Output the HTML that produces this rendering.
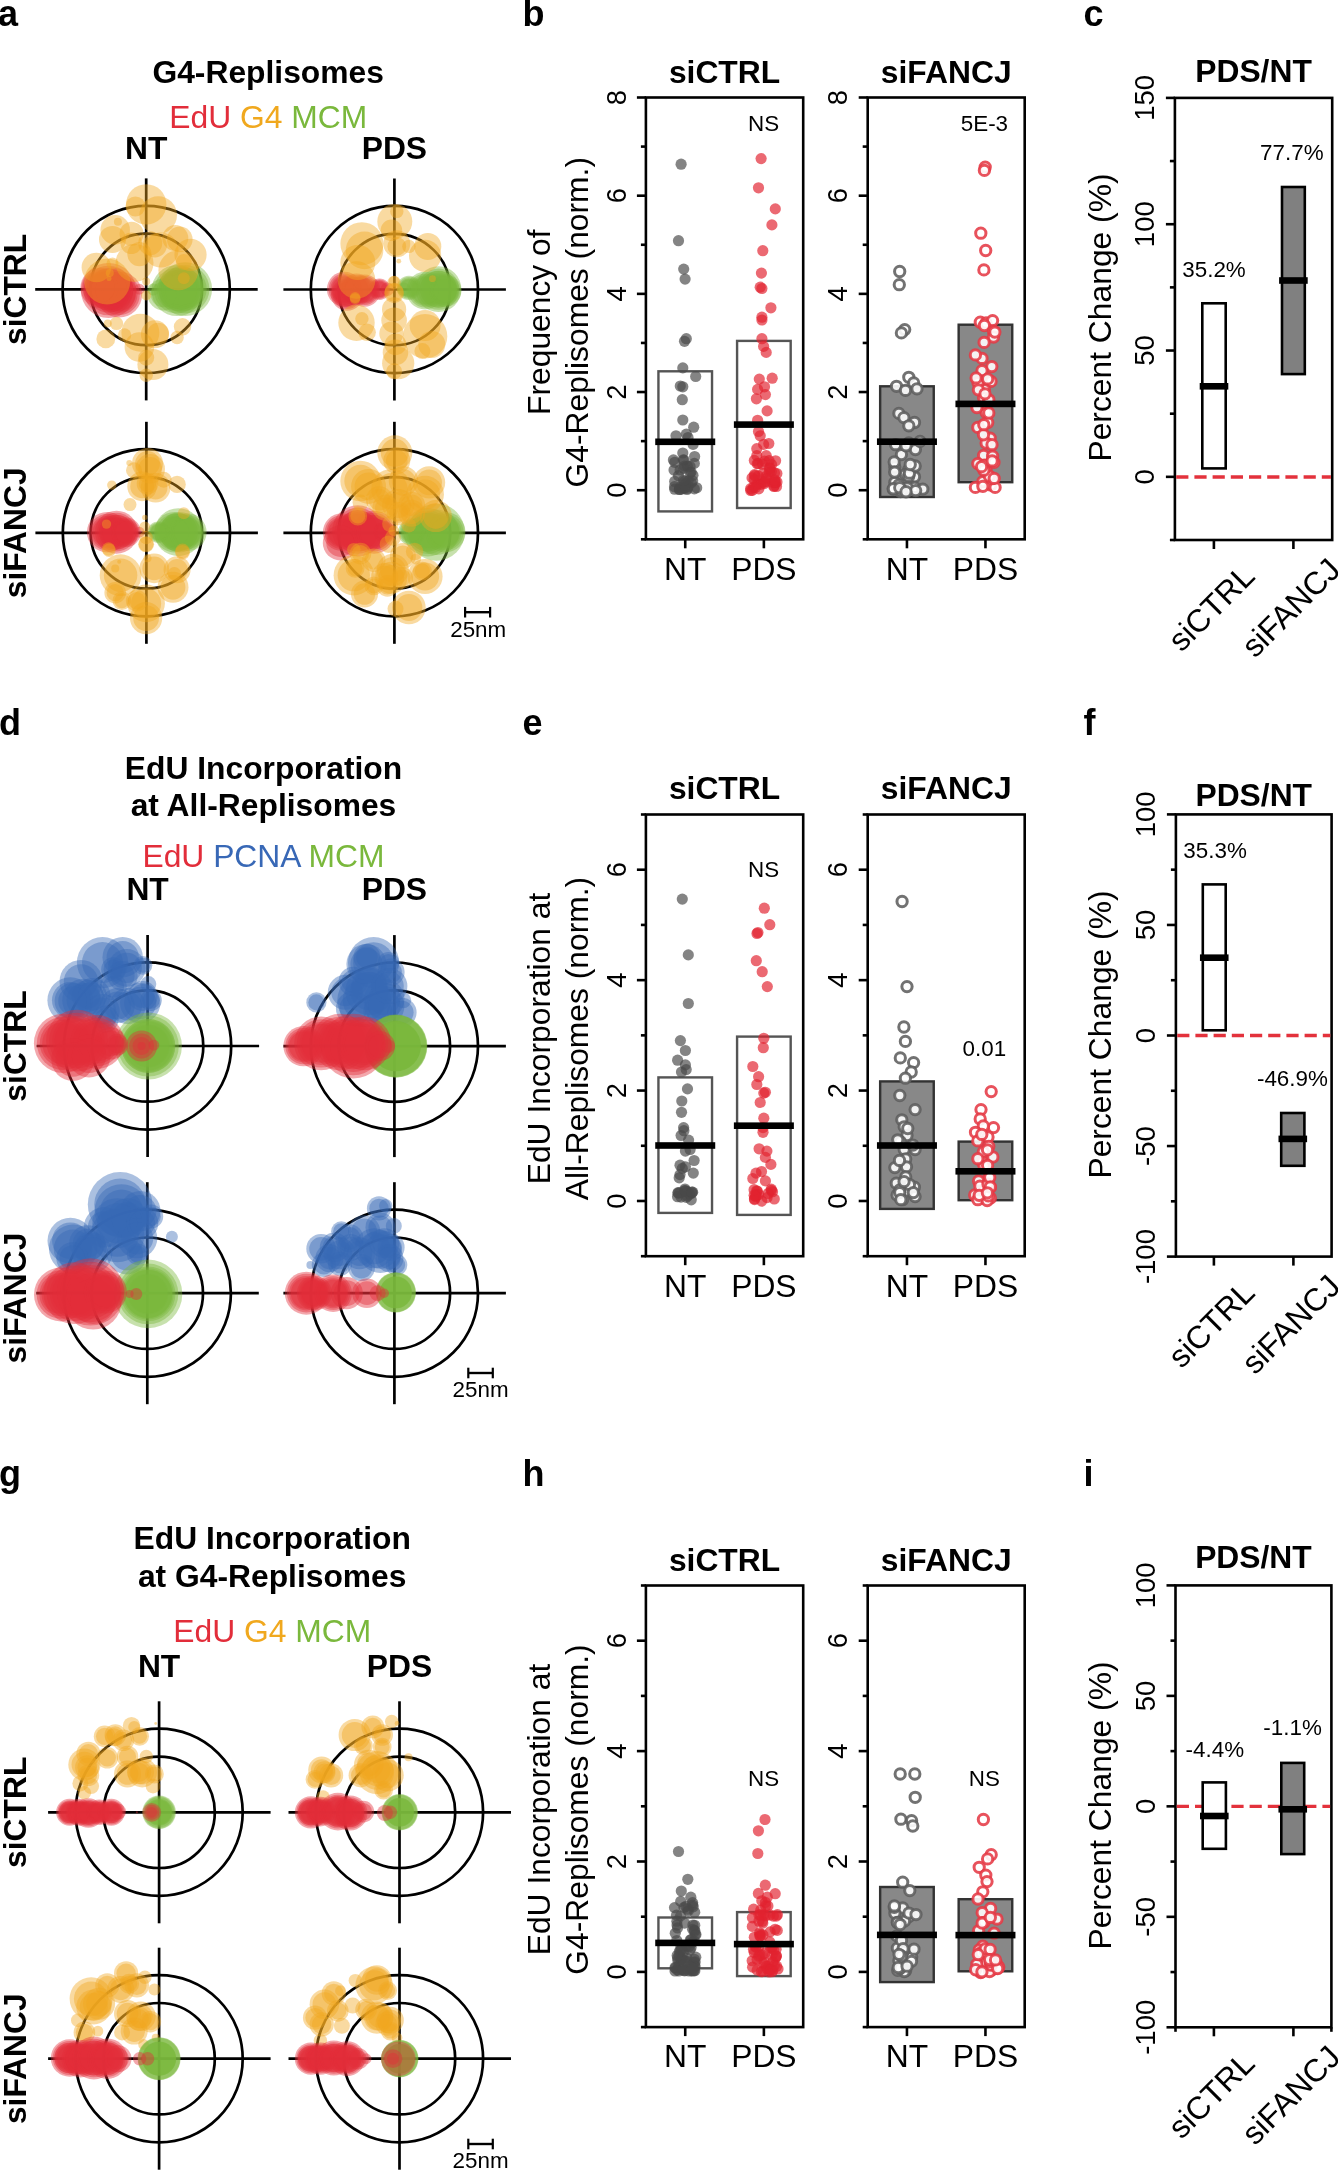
<!DOCTYPE html>
<html><head><meta charset="utf-8"><style>
html,body{margin:0;padding:0;background:#fff;}
svg{display:block;font-family:"Liberation Sans", sans-serif;will-change:transform;}
</style></head><body>
<svg width="1338" height="2170" viewBox="0 0 1338 2170">
<rect width="1338" height="2170" fill="#fff"/>
<text x="-2.00" y="26.20" font-size="36" font-weight="bold" text-anchor="start" fill="#000">a</text>
<text x="522.60" y="26.10" font-size="36" font-weight="bold" text-anchor="start" fill="#000">b</text>
<text x="1083.60" y="26.10" font-size="36" font-weight="bold" text-anchor="start" fill="#000">c</text>
<text x="-1.00" y="735.40" font-size="36" font-weight="bold" text-anchor="start" fill="#000">d</text>
<text x="522.60" y="735.40" font-size="36" font-weight="bold" text-anchor="start" fill="#000">e</text>
<text x="1083.60" y="735.40" font-size="36" font-weight="bold" text-anchor="start" fill="#000">f</text>
<text x="-1.00" y="1485.80" font-size="36" font-weight="bold" text-anchor="start" fill="#000">g</text>
<text x="522.60" y="1485.80" font-size="36" font-weight="bold" text-anchor="start" fill="#000">h</text>
<text x="1083.60" y="1485.80" font-size="36" font-weight="bold" text-anchor="start" fill="#000">i</text>
<text x="268.20" y="82.80" font-size="31.8" font-weight="bold" text-anchor="middle" fill="#000">G4-Replisomes</text>
<text x="268.20" y="127.80" font-size="31.8" text-anchor="middle"><tspan fill="#e22d3a">EdU</tspan> <tspan fill="#f0a81e">G4</tspan> <tspan fill="#7ab83c">MCM</tspan></text>
<text x="146.20" y="159.30" font-size="31.8" font-weight="bold" text-anchor="middle" fill="#000">NT</text>
<text x="394.40" y="159.30" font-size="31.8" font-weight="bold" text-anchor="middle" fill="#000">PDS</text>
<text transform="translate(25.90,289.40) rotate(-90)" font-size="31.8" font-weight="bold" text-anchor="middle" fill="#000">siCTRL</text>
<text transform="translate(25.90,532.80) rotate(-90)" font-size="31.8" font-weight="bold" text-anchor="middle" fill="#000">siFANCJ</text>
<line x1="146.20" y1="178.40" x2="146.20" y2="400.40" stroke="#000" stroke-width="2.7"/>
<line x1="35.20" y1="289.40" x2="257.70" y2="289.40" stroke="#000" stroke-width="2.7"/>
<circle cx="146.20" cy="289.40" r="55.70" fill="none" stroke="#000" stroke-width="2.7"/>
<circle cx="146.20" cy="289.40" r="83.60" fill="none" stroke="#000" stroke-width="2.7"/>
<circle cx="108.50" cy="290.50" r="27.60" fill="#e22d3a" fill-opacity="0.42" stroke="none" stroke-width="0"/>
<circle cx="108.50" cy="290.50" r="22.08" fill="#e22d3a" fill-opacity="0.42" stroke="none" stroke-width="0"/>
<circle cx="108.50" cy="290.50" r="24.84" fill="#e22d3a" fill-opacity="0.42" stroke="none" stroke-width="0"/>
<circle cx="108.50" cy="290.50" r="19.87" fill="#e22d3a" fill-opacity="0.42" stroke="none" stroke-width="0"/>
<circle cx="119.20" cy="294.50" r="22.90" fill="#e22d3a" fill-opacity="0.42" stroke="none" stroke-width="0"/>
<circle cx="119.20" cy="294.50" r="18.32" fill="#e22d3a" fill-opacity="0.42" stroke="none" stroke-width="0"/>
<circle cx="119.20" cy="294.50" r="20.61" fill="#e22d3a" fill-opacity="0.42" stroke="none" stroke-width="0"/>
<circle cx="119.20" cy="294.50" r="16.49" fill="#e22d3a" fill-opacity="0.42" stroke="none" stroke-width="0"/>
<circle cx="100.40" cy="287.80" r="20.00" fill="#e22d3a" fill-opacity="0.42" stroke="none" stroke-width="0"/>
<circle cx="100.40" cy="287.80" r="16.00" fill="#e22d3a" fill-opacity="0.42" stroke="none" stroke-width="0"/>
<circle cx="100.40" cy="287.80" r="18.00" fill="#e22d3a" fill-opacity="0.42" stroke="none" stroke-width="0"/>
<circle cx="100.40" cy="287.80" r="14.40" fill="#e22d3a" fill-opacity="0.42" stroke="none" stroke-width="0"/>
<circle cx="139.40" cy="289.10" r="5.40" fill="#e22d3a" fill-opacity="0.42" stroke="none" stroke-width="0"/>
<circle cx="111.20" cy="289.40" r="22.00" fill="#e22d3a" fill-opacity="0.42" stroke="none" stroke-width="0"/>
<circle cx="111.20" cy="289.40" r="17.60" fill="#e22d3a" fill-opacity="0.42" stroke="none" stroke-width="0"/>
<circle cx="111.20" cy="289.40" r="19.80" fill="#e22d3a" fill-opacity="0.42" stroke="none" stroke-width="0"/>
<circle cx="111.20" cy="289.40" r="15.84" fill="#e22d3a" fill-opacity="0.42" stroke="none" stroke-width="0"/>
<circle cx="177.10" cy="290.50" r="25.60" fill="#7ab83c" fill-opacity="0.42" stroke="none" stroke-width="0"/>
<circle cx="177.10" cy="290.50" r="20.48" fill="#7ab83c" fill-opacity="0.42" stroke="none" stroke-width="0"/>
<circle cx="177.10" cy="290.50" r="23.04" fill="#7ab83c" fill-opacity="0.42" stroke="none" stroke-width="0"/>
<circle cx="177.10" cy="290.50" r="18.43" fill="#7ab83c" fill-opacity="0.42" stroke="none" stroke-width="0"/>
<circle cx="185.20" cy="289.10" r="26.90" fill="#7ab83c" fill-opacity="0.42" stroke="none" stroke-width="0"/>
<circle cx="185.20" cy="289.10" r="21.52" fill="#7ab83c" fill-opacity="0.42" stroke="none" stroke-width="0"/>
<circle cx="185.20" cy="289.10" r="24.21" fill="#7ab83c" fill-opacity="0.42" stroke="none" stroke-width="0"/>
<circle cx="185.20" cy="289.10" r="19.37" fill="#7ab83c" fill-opacity="0.42" stroke="none" stroke-width="0"/>
<circle cx="163.60" cy="294.50" r="16.00" fill="#7ab83c" fill-opacity="0.42" stroke="none" stroke-width="0"/>
<circle cx="163.60" cy="294.50" r="12.80" fill="#7ab83c" fill-opacity="0.42" stroke="none" stroke-width="0"/>
<circle cx="153.20" cy="289.40" r="6.00" fill="#7ab83c" fill-opacity="0.42" stroke="none" stroke-width="0"/>
<circle cx="181.20" cy="289.40" r="22.00" fill="#7ab83c" fill-opacity="0.42" stroke="none" stroke-width="0"/>
<circle cx="181.20" cy="289.40" r="17.60" fill="#7ab83c" fill-opacity="0.42" stroke="none" stroke-width="0"/>
<circle cx="181.20" cy="289.40" r="19.80" fill="#7ab83c" fill-opacity="0.42" stroke="none" stroke-width="0"/>
<circle cx="181.20" cy="289.40" r="15.84" fill="#7ab83c" fill-opacity="0.42" stroke="none" stroke-width="0"/>
<circle cx="146.20" cy="204.40" r="20.20" fill="#f0a81e" fill-opacity="0.42" stroke="none" stroke-width="0"/>
<circle cx="135.40" cy="206.40" r="10.00" fill="#f0a81e" fill-opacity="0.42" stroke="none" stroke-width="0"/>
<circle cx="158.20" cy="215.10" r="18.80" fill="#f0a81e" fill-opacity="0.42" stroke="none" stroke-width="0"/>
<circle cx="115.20" cy="229.90" r="14.80" fill="#f0a81e" fill-opacity="0.42" stroke="none" stroke-width="0"/>
<circle cx="112.50" cy="239.40" r="13.50" fill="#f0a81e" fill-opacity="0.42" stroke="none" stroke-width="0"/>
<circle cx="117.90" cy="221.80" r="4.00" fill="#f0a81e" fill-opacity="0.42" stroke="none" stroke-width="0"/>
<circle cx="179.80" cy="239.40" r="12.80" fill="#f0a81e" fill-opacity="0.42" stroke="none" stroke-width="0"/>
<circle cx="190.50" cy="254.80" r="16.10" fill="#f0a81e" fill-opacity="0.42" stroke="none" stroke-width="0"/>
<circle cx="139.40" cy="254.10" r="12.10" fill="#f0a81e" fill-opacity="0.42" stroke="none" stroke-width="0"/>
<circle cx="161.00" cy="250.10" r="17.50" fill="#f0a81e" fill-opacity="0.42" stroke="none" stroke-width="0"/>
<circle cx="131.30" cy="243.30" r="10.80" fill="#f0a81e" fill-opacity="0.42" stroke="none" stroke-width="0"/>
<circle cx="150.20" cy="243.30" r="12.00" fill="#f0a81e" fill-opacity="0.42" stroke="none" stroke-width="0"/>
<circle cx="96.40" cy="267.50" r="14.80" fill="#f0a81e" fill-opacity="0.42" stroke="none" stroke-width="0"/>
<circle cx="183.80" cy="262.10" r="8.00" fill="#f0a81e" fill-opacity="0.42" stroke="none" stroke-width="0"/>
<circle cx="183.80" cy="278.30" r="6.00" fill="#f0a81e" fill-opacity="0.42" stroke="none" stroke-width="0"/>
<circle cx="112.50" cy="263.50" r="6.00" fill="#f0a81e" fill-opacity="0.42" stroke="none" stroke-width="0"/>
<circle cx="109.80" cy="272.90" r="4.00" fill="#f0a81e" fill-opacity="0.42" stroke="none" stroke-width="0"/>
<circle cx="109.00" cy="278.40" r="2.50" fill="#f0a81e" fill-opacity="0.42" stroke="none" stroke-width="0"/>
<circle cx="107.20" cy="281.40" r="23.00" fill="#f0a81e" fill-opacity="0.42" stroke="none" stroke-width="0"/>
<circle cx="178.40" cy="270.30" r="20.00" fill="#f0a81e" fill-opacity="0.42" stroke="none" stroke-width="0"/>
<circle cx="105.80" cy="338.90" r="9.40" fill="#f0a81e" fill-opacity="0.42" stroke="none" stroke-width="0"/>
<circle cx="116.50" cy="323.40" r="6.70" fill="#f0a81e" fill-opacity="0.42" stroke="none" stroke-width="0"/>
<circle cx="107.80" cy="323.40" r="4.00" fill="#f0a81e" fill-opacity="0.42" stroke="none" stroke-width="0"/>
<circle cx="124.60" cy="334.90" r="6.70" fill="#f0a81e" fill-opacity="0.42" stroke="none" stroke-width="0"/>
<circle cx="140.40" cy="332.80" r="19.00" fill="#f0a81e" fill-opacity="0.42" stroke="none" stroke-width="0"/>
<circle cx="154.90" cy="334.30" r="14.00" fill="#f0a81e" fill-opacity="0.42" stroke="none" stroke-width="0"/>
<circle cx="158.20" cy="333.50" r="10.80" fill="#f0a81e" fill-opacity="0.42" stroke="none" stroke-width="0"/>
<circle cx="182.50" cy="326.80" r="8.70" fill="#f0a81e" fill-opacity="0.42" stroke="none" stroke-width="0"/>
<circle cx="177.10" cy="337.50" r="6.70" fill="#f0a81e" fill-opacity="0.42" stroke="none" stroke-width="0"/>
<circle cx="139.40" cy="347.00" r="14.80" fill="#f0a81e" fill-opacity="0.42" stroke="none" stroke-width="0"/>
<circle cx="152.90" cy="364.50" r="15.50" fill="#f0a81e" fill-opacity="0.42" stroke="none" stroke-width="0"/>
<circle cx="146.20" cy="357.70" r="8.00" fill="#f0a81e" fill-opacity="0.42" stroke="none" stroke-width="0"/>
<circle cx="146.20" cy="375.20" r="6.70" fill="#f0a81e" fill-opacity="0.42" stroke="none" stroke-width="0"/>
<circle cx="146.20" cy="281.40" r="4.00" fill="#f0a81e" fill-opacity="0.42" stroke="none" stroke-width="0"/>
<circle cx="146.20" cy="295.40" r="5.00" fill="#f0a81e" fill-opacity="0.42" stroke="none" stroke-width="0"/>
<circle cx="134.50" cy="262.90" r="19.00" fill="#f0a81e" fill-opacity="0.42" stroke="none" stroke-width="0"/>
<circle cx="131.60" cy="233.70" r="12.00" fill="#f0a81e" fill-opacity="0.42" stroke="none" stroke-width="0"/>
<circle cx="154.90" cy="245.40" r="12.00" fill="#f0a81e" fill-opacity="0.42" stroke="none" stroke-width="0"/>
<circle cx="175.30" cy="238.10" r="13.00" fill="#f0a81e" fill-opacity="0.42" stroke="none" stroke-width="0"/>
<line x1="394.40" y1="178.50" x2="394.40" y2="400.50" stroke="#000" stroke-width="2.7"/>
<line x1="283.40" y1="289.50" x2="505.90" y2="289.50" stroke="#000" stroke-width="2.7"/>
<circle cx="394.40" cy="289.50" r="55.70" fill="none" stroke="#000" stroke-width="2.7"/>
<circle cx="394.40" cy="289.50" r="83.60" fill="none" stroke="#000" stroke-width="2.7"/>
<circle cx="344.40" cy="289.20" r="17.50" fill="#e22d3a" fill-opacity="0.42" stroke="none" stroke-width="0"/>
<circle cx="344.40" cy="289.20" r="14.00" fill="#e22d3a" fill-opacity="0.42" stroke="none" stroke-width="0"/>
<circle cx="344.40" cy="289.20" r="15.75" fill="#e22d3a" fill-opacity="0.42" stroke="none" stroke-width="0"/>
<circle cx="344.40" cy="289.20" r="12.60" fill="#e22d3a" fill-opacity="0.42" stroke="none" stroke-width="0"/>
<circle cx="364.50" cy="290.60" r="16.10" fill="#e22d3a" fill-opacity="0.42" stroke="none" stroke-width="0"/>
<circle cx="364.50" cy="290.60" r="12.88" fill="#e22d3a" fill-opacity="0.42" stroke="none" stroke-width="0"/>
<circle cx="364.50" cy="290.60" r="14.49" fill="#e22d3a" fill-opacity="0.42" stroke="none" stroke-width="0"/>
<circle cx="364.50" cy="290.60" r="11.59" fill="#e22d3a" fill-opacity="0.42" stroke="none" stroke-width="0"/>
<circle cx="379.40" cy="289.20" r="10.80" fill="#e22d3a" fill-opacity="0.42" stroke="none" stroke-width="0"/>
<circle cx="379.40" cy="289.20" r="8.64" fill="#e22d3a" fill-opacity="0.42" stroke="none" stroke-width="0"/>
<circle cx="379.40" cy="289.20" r="9.72" fill="#e22d3a" fill-opacity="0.42" stroke="none" stroke-width="0"/>
<circle cx="379.40" cy="289.20" r="7.78" fill="#e22d3a" fill-opacity="0.42" stroke="none" stroke-width="0"/>
<circle cx="387.40" cy="289.20" r="6.70" fill="#e22d3a" fill-opacity="0.42" stroke="none" stroke-width="0"/>
<circle cx="347.10" cy="294.60" r="16.10" fill="#e22d3a" fill-opacity="0.42" stroke="none" stroke-width="0"/>
<circle cx="347.10" cy="294.60" r="12.88" fill="#e22d3a" fill-opacity="0.42" stroke="none" stroke-width="0"/>
<circle cx="347.10" cy="294.60" r="14.49" fill="#e22d3a" fill-opacity="0.42" stroke="none" stroke-width="0"/>
<circle cx="347.10" cy="294.60" r="11.59" fill="#e22d3a" fill-opacity="0.42" stroke="none" stroke-width="0"/>
<circle cx="356.40" cy="289.50" r="16.00" fill="#e22d3a" fill-opacity="0.42" stroke="none" stroke-width="0"/>
<circle cx="356.40" cy="289.50" r="12.80" fill="#e22d3a" fill-opacity="0.42" stroke="none" stroke-width="0"/>
<circle cx="356.40" cy="289.50" r="14.40" fill="#e22d3a" fill-opacity="0.42" stroke="none" stroke-width="0"/>
<circle cx="356.40" cy="289.50" r="11.52" fill="#e22d3a" fill-opacity="0.42" stroke="none" stroke-width="0"/>
<circle cx="438.50" cy="289.20" r="22.90" fill="#7ab83c" fill-opacity="0.42" stroke="none" stroke-width="0"/>
<circle cx="438.50" cy="289.20" r="18.32" fill="#7ab83c" fill-opacity="0.42" stroke="none" stroke-width="0"/>
<circle cx="438.50" cy="289.20" r="20.61" fill="#7ab83c" fill-opacity="0.42" stroke="none" stroke-width="0"/>
<circle cx="438.50" cy="289.20" r="16.49" fill="#7ab83c" fill-opacity="0.42" stroke="none" stroke-width="0"/>
<circle cx="438.50" cy="289.20" r="18.55" fill="#7ab83c" fill-opacity="0.42" stroke="none" stroke-width="0"/>
<circle cx="438.50" cy="289.20" r="14.84" fill="#7ab83c" fill-opacity="0.42" stroke="none" stroke-width="0"/>
<circle cx="425.10" cy="290.60" r="18.80" fill="#7ab83c" fill-opacity="0.42" stroke="none" stroke-width="0"/>
<circle cx="425.10" cy="290.60" r="15.04" fill="#7ab83c" fill-opacity="0.42" stroke="none" stroke-width="0"/>
<circle cx="425.10" cy="290.60" r="16.92" fill="#7ab83c" fill-opacity="0.42" stroke="none" stroke-width="0"/>
<circle cx="425.10" cy="290.60" r="13.54" fill="#7ab83c" fill-opacity="0.42" stroke="none" stroke-width="0"/>
<circle cx="408.90" cy="287.90" r="12.10" fill="#7ab83c" fill-opacity="0.42" stroke="none" stroke-width="0"/>
<circle cx="408.90" cy="287.90" r="9.68" fill="#7ab83c" fill-opacity="0.42" stroke="none" stroke-width="0"/>
<circle cx="408.90" cy="287.90" r="10.89" fill="#7ab83c" fill-opacity="0.42" stroke="none" stroke-width="0"/>
<circle cx="408.90" cy="287.90" r="8.71" fill="#7ab83c" fill-opacity="0.42" stroke="none" stroke-width="0"/>
<circle cx="403.60" cy="289.20" r="6.70" fill="#7ab83c" fill-opacity="0.42" stroke="none" stroke-width="0"/>
<circle cx="445.30" cy="290.60" r="16.10" fill="#7ab83c" fill-opacity="0.42" stroke="none" stroke-width="0"/>
<circle cx="445.30" cy="290.60" r="12.88" fill="#7ab83c" fill-opacity="0.42" stroke="none" stroke-width="0"/>
<circle cx="445.30" cy="290.60" r="14.49" fill="#7ab83c" fill-opacity="0.42" stroke="none" stroke-width="0"/>
<circle cx="445.30" cy="290.60" r="11.59" fill="#7ab83c" fill-opacity="0.42" stroke="none" stroke-width="0"/>
<circle cx="394.80" cy="221.50" r="17.50" fill="#f0a81e" fill-opacity="0.42" stroke="none" stroke-width="0"/>
<circle cx="396.80" cy="211.40" r="6.70" fill="#f0a81e" fill-opacity="0.42" stroke="none" stroke-width="0"/>
<circle cx="391.40" cy="230.30" r="10.80" fill="#f0a81e" fill-opacity="0.42" stroke="none" stroke-width="0"/>
<circle cx="361.90" cy="243.70" r="21.50" fill="#f0a81e" fill-opacity="0.42" stroke="none" stroke-width="0"/>
<circle cx="364.50" cy="250.40" r="18.80" fill="#f0a81e" fill-opacity="0.42" stroke="none" stroke-width="0"/>
<circle cx="357.80" cy="262.50" r="17.50" fill="#f0a81e" fill-opacity="0.42" stroke="none" stroke-width="0"/>
<circle cx="396.80" cy="246.40" r="9.40" fill="#f0a81e" fill-opacity="0.42" stroke="none" stroke-width="0"/>
<circle cx="396.80" cy="243.70" r="13.50" fill="#f0a81e" fill-opacity="0.42" stroke="none" stroke-width="0"/>
<circle cx="427.80" cy="246.40" r="13.50" fill="#f0a81e" fill-opacity="0.42" stroke="none" stroke-width="0"/>
<circle cx="425.10" cy="255.80" r="16.10" fill="#f0a81e" fill-opacity="0.42" stroke="none" stroke-width="0"/>
<circle cx="408.90" cy="246.40" r="6.70" fill="#f0a81e" fill-opacity="0.42" stroke="none" stroke-width="0"/>
<circle cx="398.80" cy="261.20" r="2.40" fill="#f0a81e" fill-opacity="0.42" stroke="none" stroke-width="0"/>
<circle cx="356.50" cy="280.00" r="18.80" fill="#f0a81e" fill-opacity="0.42" stroke="none" stroke-width="0"/>
<circle cx="394.10" cy="281.40" r="5.40" fill="#f0a81e" fill-opacity="0.42" stroke="none" stroke-width="0"/>
<circle cx="394.10" cy="292.10" r="9.40" fill="#f0a81e" fill-opacity="0.42" stroke="none" stroke-width="0"/>
<circle cx="355.10" cy="297.50" r="5.40" fill="#f0a81e" fill-opacity="0.42" stroke="none" stroke-width="0"/>
<circle cx="432.50" cy="278.70" r="3.40" fill="#f0a81e" fill-opacity="0.42" stroke="none" stroke-width="0"/>
<circle cx="355.10" cy="298.60" r="5.40" fill="#f0a81e" fill-opacity="0.42" stroke="none" stroke-width="0"/>
<circle cx="394.10" cy="282.50" r="6.70" fill="#f0a81e" fill-opacity="0.42" stroke="none" stroke-width="0"/>
<circle cx="394.10" cy="293.30" r="10.00" fill="#f0a81e" fill-opacity="0.42" stroke="none" stroke-width="0"/>
<circle cx="356.50" cy="322.80" r="18.20" fill="#f0a81e" fill-opacity="0.42" stroke="none" stroke-width="0"/>
<circle cx="361.90" cy="318.80" r="6.70" fill="#f0a81e" fill-opacity="0.42" stroke="none" stroke-width="0"/>
<circle cx="367.20" cy="332.30" r="8.70" fill="#f0a81e" fill-opacity="0.42" stroke="none" stroke-width="0"/>
<circle cx="394.10" cy="309.40" r="12.10" fill="#f0a81e" fill-opacity="0.42" stroke="none" stroke-width="0"/>
<circle cx="394.10" cy="320.20" r="12.80" fill="#f0a81e" fill-opacity="0.42" stroke="none" stroke-width="0"/>
<circle cx="391.40" cy="333.60" r="12.10" fill="#f0a81e" fill-opacity="0.42" stroke="none" stroke-width="0"/>
<circle cx="395.50" cy="344.40" r="10.80" fill="#f0a81e" fill-opacity="0.42" stroke="none" stroke-width="0"/>
<circle cx="395.50" cy="352.40" r="12.80" fill="#f0a81e" fill-opacity="0.42" stroke="none" stroke-width="0"/>
<circle cx="398.20" cy="363.20" r="16.10" fill="#f0a81e" fill-opacity="0.42" stroke="none" stroke-width="0"/>
<circle cx="394.10" cy="371.30" r="8.00" fill="#f0a81e" fill-opacity="0.42" stroke="none" stroke-width="0"/>
<circle cx="425.10" cy="325.50" r="15.50" fill="#f0a81e" fill-opacity="0.42" stroke="none" stroke-width="0"/>
<circle cx="425.10" cy="336.30" r="22.20" fill="#f0a81e" fill-opacity="0.42" stroke="none" stroke-width="0"/>
<circle cx="431.80" cy="344.40" r="13.50" fill="#f0a81e" fill-opacity="0.42" stroke="none" stroke-width="0"/>
<circle cx="422.40" cy="351.10" r="8.00" fill="#f0a81e" fill-opacity="0.42" stroke="none" stroke-width="0"/>
<line x1="146.40" y1="421.80" x2="146.40" y2="643.80" stroke="#000" stroke-width="2.7"/>
<line x1="35.40" y1="532.80" x2="257.90" y2="532.80" stroke="#000" stroke-width="2.7"/>
<circle cx="146.40" cy="532.80" r="55.70" fill="none" stroke="#000" stroke-width="2.7"/>
<circle cx="146.40" cy="532.80" r="83.60" fill="none" stroke="#000" stroke-width="2.7"/>
<circle cx="107.10" cy="532.20" r="20.20" fill="#e22d3a" fill-opacity="0.42" stroke="none" stroke-width="0"/>
<circle cx="107.10" cy="532.20" r="16.16" fill="#e22d3a" fill-opacity="0.42" stroke="none" stroke-width="0"/>
<circle cx="107.10" cy="532.20" r="18.18" fill="#e22d3a" fill-opacity="0.42" stroke="none" stroke-width="0"/>
<circle cx="107.10" cy="532.20" r="14.54" fill="#e22d3a" fill-opacity="0.42" stroke="none" stroke-width="0"/>
<circle cx="116.50" cy="532.20" r="21.50" fill="#e22d3a" fill-opacity="0.42" stroke="none" stroke-width="0"/>
<circle cx="116.50" cy="532.20" r="17.20" fill="#e22d3a" fill-opacity="0.42" stroke="none" stroke-width="0"/>
<circle cx="116.50" cy="532.20" r="19.35" fill="#e22d3a" fill-opacity="0.42" stroke="none" stroke-width="0"/>
<circle cx="116.50" cy="532.20" r="15.48" fill="#e22d3a" fill-opacity="0.42" stroke="none" stroke-width="0"/>
<circle cx="116.50" cy="532.20" r="17.42" fill="#e22d3a" fill-opacity="0.42" stroke="none" stroke-width="0"/>
<circle cx="116.50" cy="532.20" r="13.93" fill="#e22d3a" fill-opacity="0.42" stroke="none" stroke-width="0"/>
<circle cx="126.00" cy="532.20" r="14.80" fill="#e22d3a" fill-opacity="0.42" stroke="none" stroke-width="0"/>
<circle cx="126.00" cy="532.20" r="11.84" fill="#e22d3a" fill-opacity="0.42" stroke="none" stroke-width="0"/>
<circle cx="126.00" cy="532.20" r="13.32" fill="#e22d3a" fill-opacity="0.42" stroke="none" stroke-width="0"/>
<circle cx="126.00" cy="532.20" r="10.66" fill="#e22d3a" fill-opacity="0.42" stroke="none" stroke-width="0"/>
<circle cx="139.40" cy="532.20" r="5.40" fill="#e22d3a" fill-opacity="0.42" stroke="none" stroke-width="0"/>
<circle cx="178.40" cy="532.20" r="24.00" fill="#7ab83c" fill-opacity="0.42" stroke="none" stroke-width="0"/>
<circle cx="178.40" cy="532.20" r="19.20" fill="#7ab83c" fill-opacity="0.42" stroke="none" stroke-width="0"/>
<circle cx="179.80" cy="532.20" r="20.20" fill="#7ab83c" fill-opacity="0.42" stroke="none" stroke-width="0"/>
<circle cx="179.80" cy="532.20" r="16.16" fill="#7ab83c" fill-opacity="0.42" stroke="none" stroke-width="0"/>
<circle cx="179.80" cy="532.20" r="18.18" fill="#7ab83c" fill-opacity="0.42" stroke="none" stroke-width="0"/>
<circle cx="179.80" cy="532.20" r="14.54" fill="#7ab83c" fill-opacity="0.42" stroke="none" stroke-width="0"/>
<circle cx="174.40" cy="532.20" r="20.20" fill="#7ab83c" fill-opacity="0.42" stroke="none" stroke-width="0"/>
<circle cx="174.40" cy="532.20" r="16.16" fill="#7ab83c" fill-opacity="0.42" stroke="none" stroke-width="0"/>
<circle cx="174.40" cy="532.20" r="18.18" fill="#7ab83c" fill-opacity="0.42" stroke="none" stroke-width="0"/>
<circle cx="174.40" cy="532.20" r="14.54" fill="#7ab83c" fill-opacity="0.42" stroke="none" stroke-width="0"/>
<circle cx="158.30" cy="532.20" r="10.80" fill="#7ab83c" fill-opacity="0.42" stroke="none" stroke-width="0"/>
<circle cx="158.30" cy="532.20" r="8.64" fill="#7ab83c" fill-opacity="0.42" stroke="none" stroke-width="0"/>
<circle cx="158.30" cy="532.20" r="9.72" fill="#7ab83c" fill-opacity="0.42" stroke="none" stroke-width="0"/>
<circle cx="158.30" cy="532.20" r="7.78" fill="#7ab83c" fill-opacity="0.42" stroke="none" stroke-width="0"/>
<circle cx="187.80" cy="532.20" r="18.80" fill="#7ab83c" fill-opacity="0.42" stroke="none" stroke-width="0"/>
<circle cx="187.80" cy="532.20" r="15.04" fill="#7ab83c" fill-opacity="0.42" stroke="none" stroke-width="0"/>
<circle cx="187.80" cy="532.20" r="16.92" fill="#7ab83c" fill-opacity="0.42" stroke="none" stroke-width="0"/>
<circle cx="187.80" cy="532.20" r="13.54" fill="#7ab83c" fill-opacity="0.42" stroke="none" stroke-width="0"/>
<circle cx="106.50" cy="524.10" r="4.70" fill="#f0a81e" fill-opacity="0.42" stroke="none" stroke-width="0"/>
<circle cx="108.50" cy="549.00" r="6.70" fill="#f0a81e" fill-opacity="0.42" stroke="none" stroke-width="0"/>
<circle cx="183.80" cy="513.30" r="6.00" fill="#f0a81e" fill-opacity="0.42" stroke="none" stroke-width="0"/>
<circle cx="182.50" cy="551.00" r="7.40" fill="#f0a81e" fill-opacity="0.42" stroke="none" stroke-width="0"/>
<circle cx="144.80" cy="526.80" r="5.40" fill="#f0a81e" fill-opacity="0.42" stroke="none" stroke-width="0"/>
<circle cx="146.10" cy="537.50" r="6.70" fill="#f0a81e" fill-opacity="0.42" stroke="none" stroke-width="0"/>
<circle cx="144.80" cy="517.40" r="2.70" fill="#f0a81e" fill-opacity="0.42" stroke="none" stroke-width="0"/>
<circle cx="146.10" cy="544.30" r="8.00" fill="#f0a81e" fill-opacity="0.42" stroke="none" stroke-width="0"/>
<circle cx="147.50" cy="463.50" r="15.50" fill="#f0a81e" fill-opacity="0.42" stroke="none" stroke-width="0"/>
<circle cx="147.50" cy="463.50" r="12.40" fill="#f0a81e" fill-opacity="0.42" stroke="none" stroke-width="0"/>
<circle cx="150.20" cy="468.90" r="14.80" fill="#f0a81e" fill-opacity="0.42" stroke="none" stroke-width="0"/>
<circle cx="150.20" cy="468.90" r="11.84" fill="#f0a81e" fill-opacity="0.42" stroke="none" stroke-width="0"/>
<circle cx="142.10" cy="486.40" r="14.80" fill="#f0a81e" fill-opacity="0.42" stroke="none" stroke-width="0"/>
<circle cx="142.10" cy="486.40" r="11.84" fill="#f0a81e" fill-opacity="0.42" stroke="none" stroke-width="0"/>
<circle cx="155.60" cy="487.70" r="14.80" fill="#f0a81e" fill-opacity="0.42" stroke="none" stroke-width="0"/>
<circle cx="155.60" cy="487.70" r="11.84" fill="#f0a81e" fill-opacity="0.42" stroke="none" stroke-width="0"/>
<circle cx="147.50" cy="483.70" r="10.80" fill="#f0a81e" fill-opacity="0.42" stroke="none" stroke-width="0"/>
<circle cx="147.50" cy="483.70" r="8.64" fill="#f0a81e" fill-opacity="0.42" stroke="none" stroke-width="0"/>
<circle cx="177.10" cy="484.40" r="8.70" fill="#f0a81e" fill-opacity="0.42" stroke="none" stroke-width="0"/>
<circle cx="130.00" cy="504.60" r="6.50" fill="#f0a81e" fill-opacity="0.42" stroke="none" stroke-width="0"/>
<circle cx="111.80" cy="485.10" r="4.70" fill="#f0a81e" fill-opacity="0.42" stroke="none" stroke-width="0"/>
<circle cx="129.30" cy="462.90" r="3.00" fill="#f0a81e" fill-opacity="0.42" stroke="none" stroke-width="0"/>
<circle cx="134.00" cy="470.30" r="8.00" fill="#f0a81e" fill-opacity="0.42" stroke="none" stroke-width="0"/>
<circle cx="163.60" cy="479.70" r="8.00" fill="#f0a81e" fill-opacity="0.42" stroke="none" stroke-width="0"/>
<circle cx="120.60" cy="575.20" r="20.90" fill="#f0a81e" fill-opacity="0.42" stroke="none" stroke-width="0"/>
<circle cx="120.60" cy="575.20" r="16.72" fill="#f0a81e" fill-opacity="0.42" stroke="none" stroke-width="0"/>
<circle cx="115.20" cy="568.40" r="4.00" fill="#f0a81e" fill-opacity="0.42" stroke="none" stroke-width="0"/>
<circle cx="119.20" cy="561.70" r="2.00" fill="#f0a81e" fill-opacity="0.42" stroke="none" stroke-width="0"/>
<circle cx="154.20" cy="568.40" r="14.80" fill="#f0a81e" fill-opacity="0.42" stroke="none" stroke-width="0"/>
<circle cx="154.20" cy="568.40" r="11.84" fill="#f0a81e" fill-opacity="0.42" stroke="none" stroke-width="0"/>
<circle cx="177.10" cy="569.80" r="13.50" fill="#f0a81e" fill-opacity="0.42" stroke="none" stroke-width="0"/>
<circle cx="177.10" cy="569.80" r="10.80" fill="#f0a81e" fill-opacity="0.42" stroke="none" stroke-width="0"/>
<circle cx="174.40" cy="573.80" r="6.70" fill="#f0a81e" fill-opacity="0.42" stroke="none" stroke-width="0"/>
<circle cx="173.00" cy="587.30" r="15.50" fill="#f0a81e" fill-opacity="0.42" stroke="none" stroke-width="0"/>
<circle cx="173.00" cy="587.30" r="12.40" fill="#f0a81e" fill-opacity="0.42" stroke="none" stroke-width="0"/>
<circle cx="115.20" cy="592.70" r="10.80" fill="#f0a81e" fill-opacity="0.42" stroke="none" stroke-width="0"/>
<circle cx="115.20" cy="592.70" r="8.64" fill="#f0a81e" fill-opacity="0.42" stroke="none" stroke-width="0"/>
<circle cx="121.90" cy="600.70" r="9.40" fill="#f0a81e" fill-opacity="0.42" stroke="none" stroke-width="0"/>
<circle cx="121.90" cy="600.70" r="7.52" fill="#f0a81e" fill-opacity="0.42" stroke="none" stroke-width="0"/>
<circle cx="146.10" cy="603.40" r="18.80" fill="#f0a81e" fill-opacity="0.42" stroke="none" stroke-width="0"/>
<circle cx="146.10" cy="603.40" r="15.04" fill="#f0a81e" fill-opacity="0.42" stroke="none" stroke-width="0"/>
<circle cx="146.10" cy="618.20" r="16.10" fill="#f0a81e" fill-opacity="0.42" stroke="none" stroke-width="0"/>
<circle cx="146.10" cy="618.20" r="12.88" fill="#f0a81e" fill-opacity="0.42" stroke="none" stroke-width="0"/>
<circle cx="136.70" cy="600.70" r="10.80" fill="#f0a81e" fill-opacity="0.42" stroke="none" stroke-width="0"/>
<circle cx="136.70" cy="600.70" r="8.64" fill="#f0a81e" fill-opacity="0.42" stroke="none" stroke-width="0"/>
<circle cx="146.10" cy="544.20" r="7.40" fill="#f0a81e" fill-opacity="0.42" stroke="none" stroke-width="0"/>
<circle cx="147.50" cy="558.30" r="4.00" fill="#f0a81e" fill-opacity="0.42" stroke="none" stroke-width="0"/>
<circle cx="182.50" cy="552.30" r="7.40" fill="#f0a81e" fill-opacity="0.42" stroke="none" stroke-width="0"/>
<circle cx="109.10" cy="550.30" r="6.70" fill="#f0a81e" fill-opacity="0.42" stroke="none" stroke-width="0"/>
<line x1="394.40" y1="421.80" x2="394.40" y2="643.80" stroke="#000" stroke-width="2.7"/>
<line x1="283.40" y1="532.80" x2="505.90" y2="532.80" stroke="#000" stroke-width="2.7"/>
<circle cx="394.40" cy="532.80" r="55.70" fill="none" stroke="#000" stroke-width="2.7"/>
<circle cx="394.40" cy="532.80" r="83.60" fill="none" stroke="#000" stroke-width="2.7"/>
<circle cx="341.70" cy="532.20" r="18.80" fill="#e22d3a" fill-opacity="0.42" stroke="none" stroke-width="0"/>
<circle cx="341.70" cy="532.20" r="15.04" fill="#e22d3a" fill-opacity="0.42" stroke="none" stroke-width="0"/>
<circle cx="341.70" cy="532.20" r="16.92" fill="#e22d3a" fill-opacity="0.42" stroke="none" stroke-width="0"/>
<circle cx="341.70" cy="532.20" r="13.54" fill="#e22d3a" fill-opacity="0.42" stroke="none" stroke-width="0"/>
<circle cx="357.80" cy="530.80" r="25.60" fill="#e22d3a" fill-opacity="0.42" stroke="none" stroke-width="0"/>
<circle cx="357.80" cy="530.80" r="20.48" fill="#e22d3a" fill-opacity="0.42" stroke="none" stroke-width="0"/>
<circle cx="357.80" cy="530.80" r="23.04" fill="#e22d3a" fill-opacity="0.42" stroke="none" stroke-width="0"/>
<circle cx="357.80" cy="530.80" r="18.43" fill="#e22d3a" fill-opacity="0.42" stroke="none" stroke-width="0"/>
<circle cx="357.80" cy="530.80" r="20.74" fill="#e22d3a" fill-opacity="0.42" stroke="none" stroke-width="0"/>
<circle cx="357.80" cy="530.80" r="16.59" fill="#e22d3a" fill-opacity="0.42" stroke="none" stroke-width="0"/>
<circle cx="374.00" cy="532.20" r="21.50" fill="#e22d3a" fill-opacity="0.42" stroke="none" stroke-width="0"/>
<circle cx="374.00" cy="532.20" r="17.20" fill="#e22d3a" fill-opacity="0.42" stroke="none" stroke-width="0"/>
<circle cx="374.00" cy="532.20" r="19.35" fill="#e22d3a" fill-opacity="0.42" stroke="none" stroke-width="0"/>
<circle cx="374.00" cy="532.20" r="15.48" fill="#e22d3a" fill-opacity="0.42" stroke="none" stroke-width="0"/>
<circle cx="374.00" cy="532.20" r="17.42" fill="#e22d3a" fill-opacity="0.42" stroke="none" stroke-width="0"/>
<circle cx="374.00" cy="532.20" r="13.93" fill="#e22d3a" fill-opacity="0.42" stroke="none" stroke-width="0"/>
<circle cx="384.70" cy="532.20" r="10.80" fill="#e22d3a" fill-opacity="0.42" stroke="none" stroke-width="0"/>
<circle cx="384.70" cy="532.20" r="8.64" fill="#e22d3a" fill-opacity="0.42" stroke="none" stroke-width="0"/>
<circle cx="384.70" cy="532.20" r="9.72" fill="#e22d3a" fill-opacity="0.42" stroke="none" stroke-width="0"/>
<circle cx="384.70" cy="532.20" r="7.78" fill="#e22d3a" fill-opacity="0.42" stroke="none" stroke-width="0"/>
<circle cx="340.30" cy="542.90" r="17.50" fill="#e22d3a" fill-opacity="0.42" stroke="none" stroke-width="0"/>
<circle cx="340.30" cy="542.90" r="14.00" fill="#e22d3a" fill-opacity="0.42" stroke="none" stroke-width="0"/>
<circle cx="436.40" cy="532.20" r="28.50" fill="#7ab83c" fill-opacity="0.42" stroke="none" stroke-width="0"/>
<circle cx="436.40" cy="532.20" r="22.80" fill="#7ab83c" fill-opacity="0.42" stroke="none" stroke-width="0"/>
<circle cx="427.80" cy="532.20" r="24.20" fill="#7ab83c" fill-opacity="0.42" stroke="none" stroke-width="0"/>
<circle cx="427.80" cy="532.20" r="19.36" fill="#7ab83c" fill-opacity="0.42" stroke="none" stroke-width="0"/>
<circle cx="427.80" cy="532.20" r="21.78" fill="#7ab83c" fill-opacity="0.42" stroke="none" stroke-width="0"/>
<circle cx="427.80" cy="532.20" r="17.42" fill="#7ab83c" fill-opacity="0.42" stroke="none" stroke-width="0"/>
<circle cx="427.80" cy="532.20" r="19.60" fill="#7ab83c" fill-opacity="0.42" stroke="none" stroke-width="0"/>
<circle cx="427.80" cy="532.20" r="15.68" fill="#7ab83c" fill-opacity="0.42" stroke="none" stroke-width="0"/>
<circle cx="445.30" cy="532.20" r="20.20" fill="#7ab83c" fill-opacity="0.42" stroke="none" stroke-width="0"/>
<circle cx="445.30" cy="532.20" r="16.16" fill="#7ab83c" fill-opacity="0.42" stroke="none" stroke-width="0"/>
<circle cx="445.30" cy="532.20" r="18.18" fill="#7ab83c" fill-opacity="0.42" stroke="none" stroke-width="0"/>
<circle cx="445.30" cy="532.20" r="14.54" fill="#7ab83c" fill-opacity="0.42" stroke="none" stroke-width="0"/>
<circle cx="411.60" cy="532.20" r="13.50" fill="#7ab83c" fill-opacity="0.42" stroke="none" stroke-width="0"/>
<circle cx="411.60" cy="532.20" r="10.80" fill="#7ab83c" fill-opacity="0.42" stroke="none" stroke-width="0"/>
<circle cx="411.60" cy="532.20" r="12.15" fill="#7ab83c" fill-opacity="0.42" stroke="none" stroke-width="0"/>
<circle cx="411.60" cy="532.20" r="9.72" fill="#7ab83c" fill-opacity="0.42" stroke="none" stroke-width="0"/>
<circle cx="357.80" cy="516.00" r="9.40" fill="#f0a81e" fill-opacity="0.42" stroke="none" stroke-width="0"/>
<circle cx="357.80" cy="516.00" r="7.52" fill="#f0a81e" fill-opacity="0.42" stroke="none" stroke-width="0"/>
<circle cx="390.10" cy="524.10" r="8.00" fill="#f0a81e" fill-opacity="0.42" stroke="none" stroke-width="0"/>
<circle cx="392.90" cy="537.80" r="8.00" fill="#f0a81e" fill-opacity="0.42" stroke="none" stroke-width="0"/>
<circle cx="353.80" cy="549.60" r="6.70" fill="#f0a81e" fill-opacity="0.42" stroke="none" stroke-width="0"/>
<circle cx="360.50" cy="553.60" r="10.80" fill="#f0a81e" fill-opacity="0.42" stroke="none" stroke-width="0"/>
<circle cx="360.50" cy="553.60" r="8.64" fill="#f0a81e" fill-opacity="0.42" stroke="none" stroke-width="0"/>
<circle cx="435.80" cy="516.00" r="16.10" fill="#f0a81e" fill-opacity="0.42" stroke="none" stroke-width="0"/>
<circle cx="435.80" cy="516.00" r="12.88" fill="#f0a81e" fill-opacity="0.42" stroke="none" stroke-width="0"/>
<circle cx="411.60" cy="513.30" r="13.50" fill="#f0a81e" fill-opacity="0.42" stroke="none" stroke-width="0"/>
<circle cx="411.60" cy="513.30" r="10.80" fill="#f0a81e" fill-opacity="0.42" stroke="none" stroke-width="0"/>
<circle cx="394.80" cy="452.80" r="17.50" fill="#f0a81e" fill-opacity="0.42" stroke="none" stroke-width="0"/>
<circle cx="394.80" cy="452.80" r="14.00" fill="#f0a81e" fill-opacity="0.42" stroke="none" stroke-width="0"/>
<circle cx="396.80" cy="460.80" r="13.50" fill="#f0a81e" fill-opacity="0.42" stroke="none" stroke-width="0"/>
<circle cx="396.80" cy="460.80" r="10.80" fill="#f0a81e" fill-opacity="0.42" stroke="none" stroke-width="0"/>
<circle cx="360.50" cy="481.00" r="20.20" fill="#f0a81e" fill-opacity="0.42" stroke="none" stroke-width="0"/>
<circle cx="360.50" cy="481.00" r="16.16" fill="#f0a81e" fill-opacity="0.42" stroke="none" stroke-width="0"/>
<circle cx="368.60" cy="486.40" r="17.50" fill="#f0a81e" fill-opacity="0.42" stroke="none" stroke-width="0"/>
<circle cx="368.60" cy="486.40" r="14.00" fill="#f0a81e" fill-opacity="0.42" stroke="none" stroke-width="0"/>
<circle cx="391.50" cy="489.10" r="20.20" fill="#f0a81e" fill-opacity="0.42" stroke="none" stroke-width="0"/>
<circle cx="391.50" cy="489.10" r="16.16" fill="#f0a81e" fill-opacity="0.42" stroke="none" stroke-width="0"/>
<circle cx="403.60" cy="481.00" r="14.80" fill="#f0a81e" fill-opacity="0.42" stroke="none" stroke-width="0"/>
<circle cx="403.60" cy="481.00" r="11.84" fill="#f0a81e" fill-opacity="0.42" stroke="none" stroke-width="0"/>
<circle cx="429.10" cy="482.40" r="16.10" fill="#f0a81e" fill-opacity="0.42" stroke="none" stroke-width="0"/>
<circle cx="429.10" cy="482.40" r="12.88" fill="#f0a81e" fill-opacity="0.42" stroke="none" stroke-width="0"/>
<circle cx="425.10" cy="494.50" r="18.80" fill="#f0a81e" fill-opacity="0.42" stroke="none" stroke-width="0"/>
<circle cx="425.10" cy="494.50" r="15.04" fill="#f0a81e" fill-opacity="0.42" stroke="none" stroke-width="0"/>
<circle cx="379.40" cy="499.80" r="13.50" fill="#f0a81e" fill-opacity="0.42" stroke="none" stroke-width="0"/>
<circle cx="379.40" cy="499.80" r="10.80" fill="#f0a81e" fill-opacity="0.42" stroke="none" stroke-width="0"/>
<circle cx="360.50" cy="502.60" r="8.00" fill="#f0a81e" fill-opacity="0.42" stroke="none" stroke-width="0"/>
<circle cx="411.60" cy="505.20" r="13.50" fill="#f0a81e" fill-opacity="0.42" stroke="none" stroke-width="0"/>
<circle cx="411.60" cy="505.20" r="10.80" fill="#f0a81e" fill-opacity="0.42" stroke="none" stroke-width="0"/>
<circle cx="398.20" cy="505.20" r="16.10" fill="#f0a81e" fill-opacity="0.42" stroke="none" stroke-width="0"/>
<circle cx="398.20" cy="505.20" r="12.88" fill="#f0a81e" fill-opacity="0.42" stroke="none" stroke-width="0"/>
<circle cx="393.80" cy="530.80" r="5.40" fill="#f0a81e" fill-opacity="0.42" stroke="none" stroke-width="0"/>
<circle cx="353.80" cy="575.20" r="20.20" fill="#f0a81e" fill-opacity="0.42" stroke="none" stroke-width="0"/>
<circle cx="353.80" cy="575.20" r="16.16" fill="#f0a81e" fill-opacity="0.42" stroke="none" stroke-width="0"/>
<circle cx="355.10" cy="568.40" r="9.40" fill="#f0a81e" fill-opacity="0.42" stroke="none" stroke-width="0"/>
<circle cx="355.10" cy="568.40" r="7.52" fill="#f0a81e" fill-opacity="0.42" stroke="none" stroke-width="0"/>
<circle cx="364.50" cy="594.00" r="13.50" fill="#f0a81e" fill-opacity="0.42" stroke="none" stroke-width="0"/>
<circle cx="364.50" cy="594.00" r="10.80" fill="#f0a81e" fill-opacity="0.42" stroke="none" stroke-width="0"/>
<circle cx="374.00" cy="585.90" r="9.40" fill="#f0a81e" fill-opacity="0.42" stroke="none" stroke-width="0"/>
<circle cx="374.00" cy="585.90" r="7.52" fill="#f0a81e" fill-opacity="0.42" stroke="none" stroke-width="0"/>
<circle cx="392.80" cy="569.80" r="16.10" fill="#f0a81e" fill-opacity="0.42" stroke="none" stroke-width="0"/>
<circle cx="392.80" cy="569.80" r="12.88" fill="#f0a81e" fill-opacity="0.42" stroke="none" stroke-width="0"/>
<circle cx="384.70" cy="576.50" r="13.50" fill="#f0a81e" fill-opacity="0.42" stroke="none" stroke-width="0"/>
<circle cx="384.70" cy="576.50" r="10.80" fill="#f0a81e" fill-opacity="0.42" stroke="none" stroke-width="0"/>
<circle cx="402.20" cy="577.90" r="10.80" fill="#f0a81e" fill-opacity="0.42" stroke="none" stroke-width="0"/>
<circle cx="402.20" cy="577.90" r="8.64" fill="#f0a81e" fill-opacity="0.42" stroke="none" stroke-width="0"/>
<circle cx="425.10" cy="576.50" r="17.50" fill="#f0a81e" fill-opacity="0.42" stroke="none" stroke-width="0"/>
<circle cx="425.10" cy="576.50" r="14.00" fill="#f0a81e" fill-opacity="0.42" stroke="none" stroke-width="0"/>
<circle cx="422.40" cy="571.10" r="9.40" fill="#f0a81e" fill-opacity="0.42" stroke="none" stroke-width="0"/>
<circle cx="422.40" cy="571.10" r="7.52" fill="#f0a81e" fill-opacity="0.42" stroke="none" stroke-width="0"/>
<circle cx="415.70" cy="559.00" r="5.40" fill="#f0a81e" fill-opacity="0.42" stroke="none" stroke-width="0"/>
<circle cx="408.90" cy="607.50" r="16.80" fill="#f0a81e" fill-opacity="0.42" stroke="none" stroke-width="0"/>
<circle cx="408.90" cy="607.50" r="13.44" fill="#f0a81e" fill-opacity="0.42" stroke="none" stroke-width="0"/>
<circle cx="395.50" cy="608.80" r="8.00" fill="#f0a81e" fill-opacity="0.42" stroke="none" stroke-width="0"/>
<circle cx="387.40" cy="585.90" r="10.80" fill="#f0a81e" fill-opacity="0.42" stroke="none" stroke-width="0"/>
<circle cx="387.40" cy="585.90" r="8.64" fill="#f0a81e" fill-opacity="0.42" stroke="none" stroke-width="0"/>
<circle cx="398.60" cy="513.60" r="11.70" fill="#f0a81e" fill-opacity="0.42" stroke="none" stroke-width="0"/>
<circle cx="398.60" cy="513.60" r="9.36" fill="#f0a81e" fill-opacity="0.42" stroke="none" stroke-width="0"/>
<circle cx="385.40" cy="507.80" r="13.00" fill="#f0a81e" fill-opacity="0.42" stroke="none" stroke-width="0"/>
<circle cx="385.40" cy="507.80" r="10.40" fill="#f0a81e" fill-opacity="0.42" stroke="none" stroke-width="0"/>
<circle cx="402.90" cy="555.90" r="13.00" fill="#f0a81e" fill-opacity="0.42" stroke="none" stroke-width="0"/>
<circle cx="402.90" cy="555.90" r="10.40" fill="#f0a81e" fill-opacity="0.42" stroke="none" stroke-width="0"/>
<circle cx="373.80" cy="560.20" r="11.70" fill="#f0a81e" fill-opacity="0.42" stroke="none" stroke-width="0"/>
<circle cx="373.80" cy="560.20" r="9.36" fill="#f0a81e" fill-opacity="0.42" stroke="none" stroke-width="0"/>
<circle cx="408.80" cy="525.30" r="7.30" fill="#f0a81e" fill-opacity="0.42" stroke="none" stroke-width="0"/>
<circle cx="388.40" cy="544.20" r="8.70" fill="#f0a81e" fill-opacity="0.42" stroke="none" stroke-width="0"/>
<circle cx="391.30" cy="577.70" r="16.00" fill="#f0a81e" fill-opacity="0.42" stroke="none" stroke-width="0"/>
<circle cx="391.30" cy="577.70" r="12.80" fill="#f0a81e" fill-opacity="0.42" stroke="none" stroke-width="0"/>
<circle cx="414.60" cy="551.50" r="8.70" fill="#f0a81e" fill-opacity="0.42" stroke="none" stroke-width="0"/>
<line x1="465.10" y1="612.20" x2="490.10" y2="612.20" stroke="#000" stroke-width="2.4"/>
<line x1="465.10" y1="606.90" x2="465.10" y2="617.50" stroke="#000" stroke-width="2.2"/>
<line x1="490.10" y1="606.90" x2="490.10" y2="617.50" stroke="#000" stroke-width="2.2"/>
<text x="450.20" y="636.60" font-size="22.4" text-anchor="start" fill="#000">25nm</text>
<text x="263.50" y="779.40" font-size="31.8" font-weight="bold" text-anchor="middle" fill="#000">EdU Incorporation</text>
<text x="263.50" y="816.30" font-size="31.8" font-weight="bold" text-anchor="middle" fill="#000">at All-Replisomes</text>
<text x="263.50" y="866.80" font-size="31.8" text-anchor="middle"><tspan fill="#e22d3a">EdU</tspan> <tspan fill="#3868b6">PCNA</tspan> <tspan fill="#7ab83c">MCM</tspan></text>
<text x="147.60" y="899.90" font-size="31.8" font-weight="bold" text-anchor="middle" fill="#000">NT</text>
<text x="394.40" y="899.90" font-size="31.8" font-weight="bold" text-anchor="middle" fill="#000">PDS</text>
<text transform="translate(25.90,1046.00) rotate(-90)" font-size="31.8" font-weight="bold" text-anchor="middle" fill="#000">siCTRL</text>
<text transform="translate(25.90,1298.00) rotate(-90)" font-size="31.8" font-weight="bold" text-anchor="middle" fill="#000">siFANCJ</text>
<line x1="147.60" y1="935.00" x2="147.60" y2="1157.00" stroke="#000" stroke-width="2.7"/>
<line x1="36.60" y1="1046.00" x2="259.10" y2="1046.00" stroke="#000" stroke-width="2.7"/>
<circle cx="147.60" cy="1046.00" r="55.70" fill="none" stroke="#000" stroke-width="2.7"/>
<circle cx="147.60" cy="1046.00" r="83.60" fill="none" stroke="#000" stroke-width="2.7"/>
<circle cx="102.50" cy="962.60" r="25.60" fill="#3868b6" fill-opacity="0.42" stroke="none" stroke-width="0"/>
<circle cx="102.50" cy="962.60" r="20.48" fill="#3868b6" fill-opacity="0.42" stroke="none" stroke-width="0"/>
<circle cx="122.70" cy="957.20" r="20.20" fill="#3868b6" fill-opacity="0.42" stroke="none" stroke-width="0"/>
<circle cx="122.70" cy="957.20" r="16.16" fill="#3868b6" fill-opacity="0.42" stroke="none" stroke-width="0"/>
<circle cx="81.00" cy="981.40" r="21.50" fill="#3868b6" fill-opacity="0.42" stroke="none" stroke-width="0"/>
<circle cx="81.00" cy="981.40" r="17.20" fill="#3868b6" fill-opacity="0.42" stroke="none" stroke-width="0"/>
<circle cx="70.30" cy="1000.20" r="22.90" fill="#3868b6" fill-opacity="0.42" stroke="none" stroke-width="0"/>
<circle cx="70.30" cy="1000.20" r="18.32" fill="#3868b6" fill-opacity="0.42" stroke="none" stroke-width="0"/>
<circle cx="83.70" cy="1000.20" r="21.50" fill="#3868b6" fill-opacity="0.42" stroke="none" stroke-width="0"/>
<circle cx="83.70" cy="1000.20" r="17.20" fill="#3868b6" fill-opacity="0.42" stroke="none" stroke-width="0"/>
<circle cx="113.30" cy="969.30" r="12.10" fill="#3868b6" fill-opacity="0.42" stroke="none" stroke-width="0"/>
<circle cx="113.30" cy="969.30" r="9.68" fill="#3868b6" fill-opacity="0.42" stroke="none" stroke-width="0"/>
<circle cx="126.80" cy="967.90" r="18.80" fill="#3868b6" fill-opacity="0.42" stroke="none" stroke-width="0"/>
<circle cx="126.80" cy="967.90" r="15.04" fill="#3868b6" fill-opacity="0.42" stroke="none" stroke-width="0"/>
<circle cx="142.90" cy="965.30" r="9.40" fill="#3868b6" fill-opacity="0.42" stroke="none" stroke-width="0"/>
<circle cx="142.90" cy="965.30" r="7.52" fill="#3868b6" fill-opacity="0.42" stroke="none" stroke-width="0"/>
<circle cx="148.30" cy="984.10" r="8.00" fill="#3868b6" fill-opacity="0.42" stroke="none" stroke-width="0"/>
<circle cx="140.20" cy="1003.00" r="20.20" fill="#3868b6" fill-opacity="0.42" stroke="none" stroke-width="0"/>
<circle cx="140.20" cy="1003.00" r="16.16" fill="#3868b6" fill-opacity="0.42" stroke="none" stroke-width="0"/>
<circle cx="117.40" cy="1005.60" r="17.50" fill="#3868b6" fill-opacity="0.42" stroke="none" stroke-width="0"/>
<circle cx="117.40" cy="1005.60" r="14.00" fill="#3868b6" fill-opacity="0.42" stroke="none" stroke-width="0"/>
<circle cx="151.00" cy="1000.20" r="10.80" fill="#3868b6" fill-opacity="0.42" stroke="none" stroke-width="0"/>
<circle cx="151.00" cy="1000.20" r="8.64" fill="#3868b6" fill-opacity="0.42" stroke="none" stroke-width="0"/>
<circle cx="113.30" cy="986.80" r="13.50" fill="#3868b6" fill-opacity="0.42" stroke="none" stroke-width="0"/>
<circle cx="113.30" cy="986.80" r="10.80" fill="#3868b6" fill-opacity="0.42" stroke="none" stroke-width="0"/>
<circle cx="105.20" cy="1019.10" r="13.50" fill="#3868b6" fill-opacity="0.42" stroke="none" stroke-width="0"/>
<circle cx="105.20" cy="1019.10" r="10.80" fill="#3868b6" fill-opacity="0.42" stroke="none" stroke-width="0"/>
<circle cx="87.60" cy="996.00" r="16.00" fill="#3868b6" fill-opacity="0.42" stroke="none" stroke-width="0"/>
<circle cx="87.60" cy="996.00" r="12.80" fill="#3868b6" fill-opacity="0.42" stroke="none" stroke-width="0"/>
<circle cx="122.60" cy="976.00" r="15.00" fill="#3868b6" fill-opacity="0.42" stroke="none" stroke-width="0"/>
<circle cx="122.60" cy="976.00" r="12.00" fill="#3868b6" fill-opacity="0.42" stroke="none" stroke-width="0"/>
<circle cx="127.60" cy="1006.00" r="18.00" fill="#3868b6" fill-opacity="0.42" stroke="none" stroke-width="0"/>
<circle cx="127.60" cy="1006.00" r="14.40" fill="#3868b6" fill-opacity="0.42" stroke="none" stroke-width="0"/>
<circle cx="102.60" cy="1011.00" r="17.00" fill="#3868b6" fill-opacity="0.42" stroke="none" stroke-width="0"/>
<circle cx="102.60" cy="1011.00" r="13.60" fill="#3868b6" fill-opacity="0.42" stroke="none" stroke-width="0"/>
<circle cx="92.60" cy="996.00" r="18.00" fill="#3868b6" fill-opacity="0.42" stroke="none" stroke-width="0"/>
<circle cx="92.60" cy="996.00" r="14.40" fill="#3868b6" fill-opacity="0.42" stroke="none" stroke-width="0"/>
<circle cx="142.60" cy="996.00" r="15.00" fill="#3868b6" fill-opacity="0.42" stroke="none" stroke-width="0"/>
<circle cx="142.60" cy="996.00" r="12.00" fill="#3868b6" fill-opacity="0.42" stroke="none" stroke-width="0"/>
<circle cx="72.60" cy="1001.00" r="18.00" fill="#3868b6" fill-opacity="0.42" stroke="none" stroke-width="0"/>
<circle cx="72.60" cy="1001.00" r="14.40" fill="#3868b6" fill-opacity="0.42" stroke="none" stroke-width="0"/>
<circle cx="148.30" cy="1046.00" r="33.60" fill="#7ab83c" fill-opacity="0.42" stroke="none" stroke-width="0"/>
<circle cx="148.30" cy="1046.00" r="26.88" fill="#7ab83c" fill-opacity="0.42" stroke="none" stroke-width="0"/>
<circle cx="148.30" cy="1046.00" r="30.50" fill="#7ab83c" fill-opacity="0.42" stroke="none" stroke-width="0"/>
<circle cx="148.30" cy="1046.00" r="24.40" fill="#7ab83c" fill-opacity="0.42" stroke="none" stroke-width="0"/>
<circle cx="148.30" cy="1046.00" r="27.00" fill="#7ab83c" fill-opacity="0.42" stroke="none" stroke-width="0"/>
<circle cx="148.30" cy="1046.00" r="21.60" fill="#7ab83c" fill-opacity="0.42" stroke="none" stroke-width="0"/>
<circle cx="148.30" cy="1046.00" r="25.60" fill="#7ab83c" fill-opacity="0.42" stroke="none" stroke-width="0"/>
<circle cx="148.30" cy="1046.00" r="20.48" fill="#7ab83c" fill-opacity="0.42" stroke="none" stroke-width="0"/>
<circle cx="63.50" cy="1043.30" r="29.60" fill="#e22d3a" fill-opacity="0.42" stroke="none" stroke-width="0"/>
<circle cx="63.50" cy="1043.30" r="23.68" fill="#e22d3a" fill-opacity="0.42" stroke="none" stroke-width="0"/>
<circle cx="63.50" cy="1043.30" r="26.64" fill="#e22d3a" fill-opacity="0.42" stroke="none" stroke-width="0"/>
<circle cx="63.50" cy="1043.30" r="21.31" fill="#e22d3a" fill-opacity="0.42" stroke="none" stroke-width="0"/>
<circle cx="77.00" cy="1040.60" r="30.90" fill="#e22d3a" fill-opacity="0.42" stroke="none" stroke-width="0"/>
<circle cx="77.00" cy="1040.60" r="24.72" fill="#e22d3a" fill-opacity="0.42" stroke="none" stroke-width="0"/>
<circle cx="77.00" cy="1040.60" r="27.81" fill="#e22d3a" fill-opacity="0.42" stroke="none" stroke-width="0"/>
<circle cx="77.00" cy="1040.60" r="22.25" fill="#e22d3a" fill-opacity="0.42" stroke="none" stroke-width="0"/>
<circle cx="97.20" cy="1042.00" r="26.90" fill="#e22d3a" fill-opacity="0.42" stroke="none" stroke-width="0"/>
<circle cx="97.20" cy="1042.00" r="21.52" fill="#e22d3a" fill-opacity="0.42" stroke="none" stroke-width="0"/>
<circle cx="97.20" cy="1042.00" r="24.21" fill="#e22d3a" fill-opacity="0.42" stroke="none" stroke-width="0"/>
<circle cx="97.20" cy="1042.00" r="19.37" fill="#e22d3a" fill-opacity="0.42" stroke="none" stroke-width="0"/>
<circle cx="110.60" cy="1043.30" r="16.10" fill="#e22d3a" fill-opacity="0.42" stroke="none" stroke-width="0"/>
<circle cx="110.60" cy="1043.30" r="12.88" fill="#e22d3a" fill-opacity="0.42" stroke="none" stroke-width="0"/>
<circle cx="117.40" cy="1044.70" r="10.80" fill="#e22d3a" fill-opacity="0.42" stroke="none" stroke-width="0"/>
<circle cx="117.40" cy="1044.70" r="8.64" fill="#e22d3a" fill-opacity="0.42" stroke="none" stroke-width="0"/>
<circle cx="72.80" cy="1059.50" r="21.50" fill="#e22d3a" fill-opacity="0.42" stroke="none" stroke-width="0"/>
<circle cx="72.80" cy="1059.50" r="17.20" fill="#e22d3a" fill-opacity="0.42" stroke="none" stroke-width="0"/>
<circle cx="89.00" cy="1055.90" r="21.50" fill="#e22d3a" fill-opacity="0.42" stroke="none" stroke-width="0"/>
<circle cx="89.00" cy="1055.90" r="17.20" fill="#e22d3a" fill-opacity="0.42" stroke="none" stroke-width="0"/>
<circle cx="141.60" cy="1046.00" r="15.50" fill="#e22d3a" fill-opacity="0.42" stroke="none" stroke-width="0"/>
<circle cx="141.60" cy="1046.00" r="12.40" fill="#e22d3a" fill-opacity="0.42" stroke="none" stroke-width="0"/>
<circle cx="141.60" cy="1046.00" r="9.00" fill="#e22d3a" fill-opacity="0.42" stroke="none" stroke-width="0"/>
<circle cx="141.60" cy="1046.00" r="4.00" fill="#e22d3a" fill-opacity="0.42" stroke="none" stroke-width="0"/>
<circle cx="153.90" cy="1045.10" r="5.40" fill="#e22d3a" fill-opacity="0.42" stroke="none" stroke-width="0"/>
<line x1="394.40" y1="935.10" x2="394.40" y2="1157.10" stroke="#000" stroke-width="2.7"/>
<line x1="283.40" y1="1046.10" x2="505.90" y2="1046.10" stroke="#000" stroke-width="2.7"/>
<circle cx="394.40" cy="1046.10" r="55.70" fill="none" stroke="#000" stroke-width="2.7"/>
<circle cx="394.40" cy="1046.10" r="83.60" fill="none" stroke="#000" stroke-width="2.7"/>
<circle cx="373.60" cy="962.70" r="25.60" fill="#3868b6" fill-opacity="0.42" stroke="none" stroke-width="0"/>
<circle cx="373.60" cy="962.70" r="20.48" fill="#3868b6" fill-opacity="0.42" stroke="none" stroke-width="0"/>
<circle cx="366.90" cy="957.30" r="13.50" fill="#3868b6" fill-opacity="0.42" stroke="none" stroke-width="0"/>
<circle cx="366.90" cy="957.30" r="10.80" fill="#3868b6" fill-opacity="0.42" stroke="none" stroke-width="0"/>
<circle cx="388.40" cy="962.70" r="10.80" fill="#3868b6" fill-opacity="0.42" stroke="none" stroke-width="0"/>
<circle cx="388.40" cy="962.70" r="8.64" fill="#3868b6" fill-opacity="0.42" stroke="none" stroke-width="0"/>
<circle cx="391.10" cy="972.10" r="13.50" fill="#3868b6" fill-opacity="0.42" stroke="none" stroke-width="0"/>
<circle cx="391.10" cy="972.10" r="10.80" fill="#3868b6" fill-opacity="0.42" stroke="none" stroke-width="0"/>
<circle cx="353.40" cy="981.50" r="14.80" fill="#3868b6" fill-opacity="0.42" stroke="none" stroke-width="0"/>
<circle cx="353.40" cy="981.50" r="11.84" fill="#3868b6" fill-opacity="0.42" stroke="none" stroke-width="0"/>
<circle cx="345.30" cy="992.30" r="17.50" fill="#3868b6" fill-opacity="0.42" stroke="none" stroke-width="0"/>
<circle cx="345.30" cy="992.30" r="14.00" fill="#3868b6" fill-opacity="0.42" stroke="none" stroke-width="0"/>
<circle cx="364.20" cy="1000.30" r="26.90" fill="#3868b6" fill-opacity="0.42" stroke="none" stroke-width="0"/>
<circle cx="364.20" cy="1000.30" r="21.52" fill="#3868b6" fill-opacity="0.42" stroke="none" stroke-width="0"/>
<circle cx="384.30" cy="999.00" r="20.20" fill="#3868b6" fill-opacity="0.42" stroke="none" stroke-width="0"/>
<circle cx="384.30" cy="999.00" r="16.16" fill="#3868b6" fill-opacity="0.42" stroke="none" stroke-width="0"/>
<circle cx="403.20" cy="1000.30" r="8.00" fill="#3868b6" fill-opacity="0.42" stroke="none" stroke-width="0"/>
<circle cx="401.80" cy="1012.50" r="14.80" fill="#3868b6" fill-opacity="0.42" stroke="none" stroke-width="0"/>
<circle cx="401.80" cy="1012.50" r="11.84" fill="#3868b6" fill-opacity="0.42" stroke="none" stroke-width="0"/>
<circle cx="316.40" cy="1002.40" r="10.10" fill="#3868b6" fill-opacity="0.42" stroke="none" stroke-width="0"/>
<circle cx="316.40" cy="1002.40" r="8.08" fill="#3868b6" fill-opacity="0.42" stroke="none" stroke-width="0"/>
<circle cx="353.40" cy="1008.40" r="17.50" fill="#3868b6" fill-opacity="0.42" stroke="none" stroke-width="0"/>
<circle cx="353.40" cy="1008.40" r="14.00" fill="#3868b6" fill-opacity="0.42" stroke="none" stroke-width="0"/>
<circle cx="369.40" cy="986.10" r="18.00" fill="#3868b6" fill-opacity="0.42" stroke="none" stroke-width="0"/>
<circle cx="369.40" cy="986.10" r="14.40" fill="#3868b6" fill-opacity="0.42" stroke="none" stroke-width="0"/>
<circle cx="379.40" cy="1011.10" r="16.00" fill="#3868b6" fill-opacity="0.42" stroke="none" stroke-width="0"/>
<circle cx="379.40" cy="1011.10" r="12.80" fill="#3868b6" fill-opacity="0.42" stroke="none" stroke-width="0"/>
<circle cx="369.40" cy="991.10" r="24.00" fill="#3868b6" fill-opacity="0.42" stroke="none" stroke-width="0"/>
<circle cx="369.40" cy="991.10" r="19.20" fill="#3868b6" fill-opacity="0.42" stroke="none" stroke-width="0"/>
<circle cx="384.40" cy="1006.10" r="20.00" fill="#3868b6" fill-opacity="0.42" stroke="none" stroke-width="0"/>
<circle cx="384.40" cy="1006.10" r="16.00" fill="#3868b6" fill-opacity="0.42" stroke="none" stroke-width="0"/>
<circle cx="366.40" cy="964.10" r="20.00" fill="#3868b6" fill-opacity="0.42" stroke="none" stroke-width="0"/>
<circle cx="366.40" cy="964.10" r="16.00" fill="#3868b6" fill-opacity="0.42" stroke="none" stroke-width="0"/>
<circle cx="389.40" cy="986.10" r="18.00" fill="#3868b6" fill-opacity="0.42" stroke="none" stroke-width="0"/>
<circle cx="389.40" cy="986.10" r="14.40" fill="#3868b6" fill-opacity="0.42" stroke="none" stroke-width="0"/>
<circle cx="395.80" cy="1046.10" r="31.60" fill="#7ab83c" fill-opacity="0.42" stroke="none" stroke-width="0"/>
<circle cx="395.80" cy="1046.10" r="25.28" fill="#7ab83c" fill-opacity="0.42" stroke="none" stroke-width="0"/>
<circle cx="395.80" cy="1046.10" r="31.30" fill="#7ab83c" fill-opacity="0.42" stroke="none" stroke-width="0"/>
<circle cx="395.80" cy="1046.10" r="25.04" fill="#7ab83c" fill-opacity="0.42" stroke="none" stroke-width="0"/>
<circle cx="395.80" cy="1046.10" r="31.00" fill="#7ab83c" fill-opacity="0.42" stroke="none" stroke-width="0"/>
<circle cx="395.80" cy="1046.10" r="24.80" fill="#7ab83c" fill-opacity="0.42" stroke="none" stroke-width="0"/>
<circle cx="395.80" cy="1046.10" r="30.60" fill="#7ab83c" fill-opacity="0.42" stroke="none" stroke-width="0"/>
<circle cx="395.80" cy="1046.10" r="24.48" fill="#7ab83c" fill-opacity="0.42" stroke="none" stroke-width="0"/>
<circle cx="303.60" cy="1046.10" r="20.20" fill="#e22d3a" fill-opacity="0.42" stroke="none" stroke-width="0"/>
<circle cx="303.60" cy="1046.10" r="16.16" fill="#e22d3a" fill-opacity="0.42" stroke="none" stroke-width="0"/>
<circle cx="303.60" cy="1046.10" r="18.18" fill="#e22d3a" fill-opacity="0.42" stroke="none" stroke-width="0"/>
<circle cx="303.60" cy="1046.10" r="14.54" fill="#e22d3a" fill-opacity="0.42" stroke="none" stroke-width="0"/>
<circle cx="321.10" cy="1043.40" r="26.90" fill="#e22d3a" fill-opacity="0.42" stroke="none" stroke-width="0"/>
<circle cx="321.10" cy="1043.40" r="21.52" fill="#e22d3a" fill-opacity="0.42" stroke="none" stroke-width="0"/>
<circle cx="321.10" cy="1043.40" r="24.21" fill="#e22d3a" fill-opacity="0.42" stroke="none" stroke-width="0"/>
<circle cx="321.10" cy="1043.40" r="19.37" fill="#e22d3a" fill-opacity="0.42" stroke="none" stroke-width="0"/>
<circle cx="340.00" cy="1042.10" r="28.30" fill="#e22d3a" fill-opacity="0.42" stroke="none" stroke-width="0"/>
<circle cx="340.00" cy="1042.10" r="22.64" fill="#e22d3a" fill-opacity="0.42" stroke="none" stroke-width="0"/>
<circle cx="340.00" cy="1042.10" r="25.47" fill="#e22d3a" fill-opacity="0.42" stroke="none" stroke-width="0"/>
<circle cx="340.00" cy="1042.10" r="20.38" fill="#e22d3a" fill-opacity="0.42" stroke="none" stroke-width="0"/>
<circle cx="353.40" cy="1046.10" r="32.30" fill="#e22d3a" fill-opacity="0.42" stroke="none" stroke-width="0"/>
<circle cx="353.40" cy="1046.10" r="25.84" fill="#e22d3a" fill-opacity="0.42" stroke="none" stroke-width="0"/>
<circle cx="353.40" cy="1046.10" r="29.07" fill="#e22d3a" fill-opacity="0.42" stroke="none" stroke-width="0"/>
<circle cx="353.40" cy="1046.10" r="23.26" fill="#e22d3a" fill-opacity="0.42" stroke="none" stroke-width="0"/>
<circle cx="364.20" cy="1043.40" r="26.90" fill="#e22d3a" fill-opacity="0.42" stroke="none" stroke-width="0"/>
<circle cx="364.20" cy="1043.40" r="21.52" fill="#e22d3a" fill-opacity="0.42" stroke="none" stroke-width="0"/>
<circle cx="364.20" cy="1043.40" r="24.21" fill="#e22d3a" fill-opacity="0.42" stroke="none" stroke-width="0"/>
<circle cx="364.20" cy="1043.40" r="19.37" fill="#e22d3a" fill-opacity="0.42" stroke="none" stroke-width="0"/>
<circle cx="380.30" cy="1046.10" r="14.80" fill="#e22d3a" fill-opacity="0.42" stroke="none" stroke-width="0"/>
<circle cx="380.30" cy="1046.10" r="11.84" fill="#e22d3a" fill-opacity="0.42" stroke="none" stroke-width="0"/>
<circle cx="388.40" cy="1046.10" r="6.70" fill="#e22d3a" fill-opacity="0.42" stroke="none" stroke-width="0"/>
<line x1="147.30" y1="1182.20" x2="147.30" y2="1404.20" stroke="#000" stroke-width="2.7"/>
<line x1="36.30" y1="1293.20" x2="258.80" y2="1293.20" stroke="#000" stroke-width="2.7"/>
<circle cx="147.30" cy="1293.20" r="55.70" fill="none" stroke="#000" stroke-width="2.7"/>
<circle cx="147.30" cy="1293.20" r="83.60" fill="none" stroke="#000" stroke-width="2.7"/>
<circle cx="120.10" cy="1204.40" r="32.30" fill="#3868b6" fill-opacity="0.42" stroke="none" stroke-width="0"/>
<circle cx="120.10" cy="1204.40" r="25.84" fill="#3868b6" fill-opacity="0.42" stroke="none" stroke-width="0"/>
<circle cx="121.50" cy="1211.10" r="26.90" fill="#3868b6" fill-opacity="0.42" stroke="none" stroke-width="0"/>
<circle cx="121.50" cy="1211.10" r="21.52" fill="#3868b6" fill-opacity="0.42" stroke="none" stroke-width="0"/>
<circle cx="140.30" cy="1211.10" r="20.20" fill="#3868b6" fill-opacity="0.42" stroke="none" stroke-width="0"/>
<circle cx="140.30" cy="1211.10" r="16.16" fill="#3868b6" fill-opacity="0.42" stroke="none" stroke-width="0"/>
<circle cx="151.10" cy="1216.50" r="12.10" fill="#3868b6" fill-opacity="0.42" stroke="none" stroke-width="0"/>
<circle cx="151.10" cy="1216.50" r="9.68" fill="#3868b6" fill-opacity="0.42" stroke="none" stroke-width="0"/>
<circle cx="70.40" cy="1240.70" r="22.90" fill="#3868b6" fill-opacity="0.42" stroke="none" stroke-width="0"/>
<circle cx="70.40" cy="1240.70" r="18.32" fill="#3868b6" fill-opacity="0.42" stroke="none" stroke-width="0"/>
<circle cx="73.10" cy="1248.80" r="24.20" fill="#3868b6" fill-opacity="0.42" stroke="none" stroke-width="0"/>
<circle cx="73.10" cy="1248.80" r="19.36" fill="#3868b6" fill-opacity="0.42" stroke="none" stroke-width="0"/>
<circle cx="104.00" cy="1227.30" r="20.20" fill="#3868b6" fill-opacity="0.42" stroke="none" stroke-width="0"/>
<circle cx="104.00" cy="1227.30" r="16.16" fill="#3868b6" fill-opacity="0.42" stroke="none" stroke-width="0"/>
<circle cx="117.40" cy="1235.30" r="26.90" fill="#3868b6" fill-opacity="0.42" stroke="none" stroke-width="0"/>
<circle cx="117.40" cy="1235.30" r="21.52" fill="#3868b6" fill-opacity="0.42" stroke="none" stroke-width="0"/>
<circle cx="126.90" cy="1254.20" r="20.20" fill="#3868b6" fill-opacity="0.42" stroke="none" stroke-width="0"/>
<circle cx="126.90" cy="1254.20" r="16.16" fill="#3868b6" fill-opacity="0.42" stroke="none" stroke-width="0"/>
<circle cx="90.50" cy="1247.40" r="16.10" fill="#3868b6" fill-opacity="0.42" stroke="none" stroke-width="0"/>
<circle cx="90.50" cy="1247.40" r="12.88" fill="#3868b6" fill-opacity="0.42" stroke="none" stroke-width="0"/>
<circle cx="171.90" cy="1236.70" r="6.00" fill="#3868b6" fill-opacity="0.42" stroke="none" stroke-width="0"/>
<circle cx="137.60" cy="1254.20" r="10.80" fill="#3868b6" fill-opacity="0.42" stroke="none" stroke-width="0"/>
<circle cx="137.60" cy="1254.20" r="8.64" fill="#3868b6" fill-opacity="0.42" stroke="none" stroke-width="0"/>
<circle cx="127.30" cy="1218.20" r="20.00" fill="#3868b6" fill-opacity="0.42" stroke="none" stroke-width="0"/>
<circle cx="127.30" cy="1218.20" r="16.00" fill="#3868b6" fill-opacity="0.42" stroke="none" stroke-width="0"/>
<circle cx="87.30" cy="1243.20" r="18.00" fill="#3868b6" fill-opacity="0.42" stroke="none" stroke-width="0"/>
<circle cx="87.30" cy="1243.20" r="14.40" fill="#3868b6" fill-opacity="0.42" stroke="none" stroke-width="0"/>
<circle cx="117.30" cy="1223.20" r="25.00" fill="#3868b6" fill-opacity="0.42" stroke="none" stroke-width="0"/>
<circle cx="117.30" cy="1223.20" r="20.00" fill="#3868b6" fill-opacity="0.42" stroke="none" stroke-width="0"/>
<circle cx="137.30" cy="1238.20" r="20.00" fill="#3868b6" fill-opacity="0.42" stroke="none" stroke-width="0"/>
<circle cx="137.30" cy="1238.20" r="16.00" fill="#3868b6" fill-opacity="0.42" stroke="none" stroke-width="0"/>
<circle cx="92.30" cy="1253.20" r="20.00" fill="#3868b6" fill-opacity="0.42" stroke="none" stroke-width="0"/>
<circle cx="92.30" cy="1253.20" r="16.00" fill="#3868b6" fill-opacity="0.42" stroke="none" stroke-width="0"/>
<circle cx="72.30" cy="1258.20" r="16.00" fill="#3868b6" fill-opacity="0.42" stroke="none" stroke-width="0"/>
<circle cx="72.30" cy="1258.20" r="12.80" fill="#3868b6" fill-opacity="0.42" stroke="none" stroke-width="0"/>
<circle cx="142.30" cy="1223.20" r="16.00" fill="#3868b6" fill-opacity="0.42" stroke="none" stroke-width="0"/>
<circle cx="142.30" cy="1223.20" r="12.80" fill="#3868b6" fill-opacity="0.42" stroke="none" stroke-width="0"/>
<circle cx="148.00" cy="1293.90" r="34.30" fill="#7ab83c" fill-opacity="0.42" stroke="none" stroke-width="0"/>
<circle cx="148.00" cy="1293.90" r="27.44" fill="#7ab83c" fill-opacity="0.42" stroke="none" stroke-width="0"/>
<circle cx="148.00" cy="1293.90" r="30.30" fill="#7ab83c" fill-opacity="0.42" stroke="none" stroke-width="0"/>
<circle cx="148.00" cy="1293.90" r="24.24" fill="#7ab83c" fill-opacity="0.42" stroke="none" stroke-width="0"/>
<circle cx="148.00" cy="1293.90" r="25.60" fill="#7ab83c" fill-opacity="0.42" stroke="none" stroke-width="0"/>
<circle cx="148.00" cy="1293.90" r="20.48" fill="#7ab83c" fill-opacity="0.42" stroke="none" stroke-width="0"/>
<circle cx="148.00" cy="1293.90" r="24.00" fill="#7ab83c" fill-opacity="0.42" stroke="none" stroke-width="0"/>
<circle cx="148.00" cy="1293.90" r="19.20" fill="#7ab83c" fill-opacity="0.42" stroke="none" stroke-width="0"/>
<circle cx="60.90" cy="1294.50" r="26.90" fill="#e22d3a" fill-opacity="0.42" stroke="none" stroke-width="0"/>
<circle cx="60.90" cy="1294.50" r="21.52" fill="#e22d3a" fill-opacity="0.42" stroke="none" stroke-width="0"/>
<circle cx="60.90" cy="1294.50" r="24.21" fill="#e22d3a" fill-opacity="0.42" stroke="none" stroke-width="0"/>
<circle cx="60.90" cy="1294.50" r="19.37" fill="#e22d3a" fill-opacity="0.42" stroke="none" stroke-width="0"/>
<circle cx="74.40" cy="1293.20" r="30.90" fill="#e22d3a" fill-opacity="0.42" stroke="none" stroke-width="0"/>
<circle cx="74.40" cy="1293.20" r="24.72" fill="#e22d3a" fill-opacity="0.42" stroke="none" stroke-width="0"/>
<circle cx="74.40" cy="1293.20" r="27.81" fill="#e22d3a" fill-opacity="0.42" stroke="none" stroke-width="0"/>
<circle cx="74.40" cy="1293.20" r="22.25" fill="#e22d3a" fill-opacity="0.42" stroke="none" stroke-width="0"/>
<circle cx="90.50" cy="1291.90" r="33.60" fill="#e22d3a" fill-opacity="0.42" stroke="none" stroke-width="0"/>
<circle cx="90.50" cy="1291.90" r="26.88" fill="#e22d3a" fill-opacity="0.42" stroke="none" stroke-width="0"/>
<circle cx="90.50" cy="1291.90" r="30.24" fill="#e22d3a" fill-opacity="0.42" stroke="none" stroke-width="0"/>
<circle cx="90.50" cy="1291.90" r="24.19" fill="#e22d3a" fill-opacity="0.42" stroke="none" stroke-width="0"/>
<circle cx="93.20" cy="1301.30" r="28.30" fill="#e22d3a" fill-opacity="0.42" stroke="none" stroke-width="0"/>
<circle cx="93.20" cy="1301.30" r="22.64" fill="#e22d3a" fill-opacity="0.42" stroke="none" stroke-width="0"/>
<circle cx="105.30" cy="1291.90" r="21.50" fill="#e22d3a" fill-opacity="0.42" stroke="none" stroke-width="0"/>
<circle cx="105.30" cy="1291.90" r="17.20" fill="#e22d3a" fill-opacity="0.42" stroke="none" stroke-width="0"/>
<circle cx="105.30" cy="1291.90" r="19.35" fill="#e22d3a" fill-opacity="0.42" stroke="none" stroke-width="0"/>
<circle cx="105.30" cy="1291.90" r="15.48" fill="#e22d3a" fill-opacity="0.42" stroke="none" stroke-width="0"/>
<circle cx="136.30" cy="1293.90" r="6.00" fill="#e22d3a" fill-opacity="0.42" stroke="none" stroke-width="0"/>
<circle cx="129.60" cy="1293.90" r="4.00" fill="#e22d3a" fill-opacity="0.42" stroke="none" stroke-width="0"/>
<line x1="394.40" y1="1182.20" x2="394.40" y2="1404.20" stroke="#000" stroke-width="2.7"/>
<line x1="283.40" y1="1293.20" x2="505.90" y2="1293.20" stroke="#000" stroke-width="2.7"/>
<circle cx="394.40" cy="1293.20" r="55.70" fill="none" stroke="#000" stroke-width="2.7"/>
<circle cx="394.40" cy="1293.20" r="83.60" fill="none" stroke="#000" stroke-width="2.7"/>
<circle cx="379.00" cy="1208.40" r="12.10" fill="#3868b6" fill-opacity="0.42" stroke="none" stroke-width="0"/>
<circle cx="379.00" cy="1208.40" r="9.68" fill="#3868b6" fill-opacity="0.42" stroke="none" stroke-width="0"/>
<circle cx="385.70" cy="1205.70" r="6.70" fill="#3868b6" fill-opacity="0.42" stroke="none" stroke-width="0"/>
<circle cx="321.10" cy="1248.80" r="14.80" fill="#3868b6" fill-opacity="0.42" stroke="none" stroke-width="0"/>
<circle cx="321.10" cy="1248.80" r="11.84" fill="#3868b6" fill-opacity="0.42" stroke="none" stroke-width="0"/>
<circle cx="334.60" cy="1247.40" r="14.80" fill="#3868b6" fill-opacity="0.42" stroke="none" stroke-width="0"/>
<circle cx="334.60" cy="1247.40" r="11.84" fill="#3868b6" fill-opacity="0.42" stroke="none" stroke-width="0"/>
<circle cx="341.30" cy="1231.30" r="10.10" fill="#3868b6" fill-opacity="0.42" stroke="none" stroke-width="0"/>
<circle cx="341.30" cy="1231.30" r="8.08" fill="#3868b6" fill-opacity="0.42" stroke="none" stroke-width="0"/>
<circle cx="350.70" cy="1247.40" r="13.50" fill="#3868b6" fill-opacity="0.42" stroke="none" stroke-width="0"/>
<circle cx="350.70" cy="1247.40" r="10.80" fill="#3868b6" fill-opacity="0.42" stroke="none" stroke-width="0"/>
<circle cx="364.20" cy="1231.30" r="16.10" fill="#3868b6" fill-opacity="0.42" stroke="none" stroke-width="0"/>
<circle cx="364.20" cy="1231.30" r="12.88" fill="#3868b6" fill-opacity="0.42" stroke="none" stroke-width="0"/>
<circle cx="380.30" cy="1227.30" r="14.80" fill="#3868b6" fill-opacity="0.42" stroke="none" stroke-width="0"/>
<circle cx="380.30" cy="1227.30" r="11.84" fill="#3868b6" fill-opacity="0.42" stroke="none" stroke-width="0"/>
<circle cx="393.80" cy="1225.90" r="8.00" fill="#3868b6" fill-opacity="0.42" stroke="none" stroke-width="0"/>
<circle cx="380.30" cy="1251.50" r="21.50" fill="#3868b6" fill-opacity="0.42" stroke="none" stroke-width="0"/>
<circle cx="380.30" cy="1251.50" r="17.20" fill="#3868b6" fill-opacity="0.42" stroke="none" stroke-width="0"/>
<circle cx="391.10" cy="1247.40" r="13.50" fill="#3868b6" fill-opacity="0.42" stroke="none" stroke-width="0"/>
<circle cx="391.10" cy="1247.40" r="10.80" fill="#3868b6" fill-opacity="0.42" stroke="none" stroke-width="0"/>
<circle cx="396.50" cy="1264.90" r="10.80" fill="#3868b6" fill-opacity="0.42" stroke="none" stroke-width="0"/>
<circle cx="396.50" cy="1264.90" r="8.64" fill="#3868b6" fill-opacity="0.42" stroke="none" stroke-width="0"/>
<circle cx="361.50" cy="1267.60" r="13.50" fill="#3868b6" fill-opacity="0.42" stroke="none" stroke-width="0"/>
<circle cx="361.50" cy="1267.60" r="10.80" fill="#3868b6" fill-opacity="0.42" stroke="none" stroke-width="0"/>
<circle cx="310.40" cy="1264.90" r="4.00" fill="#3868b6" fill-opacity="0.42" stroke="none" stroke-width="0"/>
<circle cx="340.00" cy="1263.60" r="12.10" fill="#3868b6" fill-opacity="0.42" stroke="none" stroke-width="0"/>
<circle cx="340.00" cy="1263.60" r="9.68" fill="#3868b6" fill-opacity="0.42" stroke="none" stroke-width="0"/>
<circle cx="323.80" cy="1264.90" r="12.10" fill="#3868b6" fill-opacity="0.42" stroke="none" stroke-width="0"/>
<circle cx="323.80" cy="1264.90" r="9.68" fill="#3868b6" fill-opacity="0.42" stroke="none" stroke-width="0"/>
<circle cx="384.40" cy="1243.20" r="15.00" fill="#3868b6" fill-opacity="0.42" stroke="none" stroke-width="0"/>
<circle cx="384.40" cy="1243.20" r="12.00" fill="#3868b6" fill-opacity="0.42" stroke="none" stroke-width="0"/>
<circle cx="374.40" cy="1248.20" r="20.00" fill="#3868b6" fill-opacity="0.42" stroke="none" stroke-width="0"/>
<circle cx="374.40" cy="1248.20" r="16.00" fill="#3868b6" fill-opacity="0.42" stroke="none" stroke-width="0"/>
<circle cx="339.40" cy="1253.20" r="16.00" fill="#3868b6" fill-opacity="0.42" stroke="none" stroke-width="0"/>
<circle cx="339.40" cy="1253.20" r="12.80" fill="#3868b6" fill-opacity="0.42" stroke="none" stroke-width="0"/>
<circle cx="329.40" cy="1258.20" r="14.00" fill="#3868b6" fill-opacity="0.42" stroke="none" stroke-width="0"/>
<circle cx="329.40" cy="1258.20" r="11.20" fill="#3868b6" fill-opacity="0.42" stroke="none" stroke-width="0"/>
<circle cx="389.40" cy="1258.20" r="14.00" fill="#3868b6" fill-opacity="0.42" stroke="none" stroke-width="0"/>
<circle cx="389.40" cy="1258.20" r="11.20" fill="#3868b6" fill-opacity="0.42" stroke="none" stroke-width="0"/>
<circle cx="359.40" cy="1253.20" r="16.00" fill="#3868b6" fill-opacity="0.42" stroke="none" stroke-width="0"/>
<circle cx="359.40" cy="1253.20" r="12.80" fill="#3868b6" fill-opacity="0.42" stroke="none" stroke-width="0"/>
<circle cx="349.40" cy="1238.20" r="14.00" fill="#3868b6" fill-opacity="0.42" stroke="none" stroke-width="0"/>
<circle cx="349.40" cy="1238.20" r="11.20" fill="#3868b6" fill-opacity="0.42" stroke="none" stroke-width="0"/>
<circle cx="395.80" cy="1292.40" r="20.20" fill="#7ab83c" fill-opacity="0.42" stroke="none" stroke-width="0"/>
<circle cx="395.80" cy="1292.40" r="16.16" fill="#7ab83c" fill-opacity="0.42" stroke="none" stroke-width="0"/>
<circle cx="395.80" cy="1292.40" r="19.90" fill="#7ab83c" fill-opacity="0.42" stroke="none" stroke-width="0"/>
<circle cx="395.80" cy="1292.40" r="15.92" fill="#7ab83c" fill-opacity="0.42" stroke="none" stroke-width="0"/>
<circle cx="395.80" cy="1292.40" r="19.50" fill="#7ab83c" fill-opacity="0.42" stroke="none" stroke-width="0"/>
<circle cx="395.80" cy="1292.40" r="15.60" fill="#7ab83c" fill-opacity="0.42" stroke="none" stroke-width="0"/>
<circle cx="306.30" cy="1293.20" r="21.50" fill="#e22d3a" fill-opacity="0.42" stroke="none" stroke-width="0"/>
<circle cx="306.30" cy="1293.20" r="17.20" fill="#e22d3a" fill-opacity="0.42" stroke="none" stroke-width="0"/>
<circle cx="306.30" cy="1293.20" r="19.35" fill="#e22d3a" fill-opacity="0.42" stroke="none" stroke-width="0"/>
<circle cx="306.30" cy="1293.20" r="15.48" fill="#e22d3a" fill-opacity="0.42" stroke="none" stroke-width="0"/>
<circle cx="314.40" cy="1293.20" r="17.50" fill="#e22d3a" fill-opacity="0.42" stroke="none" stroke-width="0"/>
<circle cx="314.40" cy="1293.20" r="14.00" fill="#e22d3a" fill-opacity="0.42" stroke="none" stroke-width="0"/>
<circle cx="314.40" cy="1293.20" r="15.75" fill="#e22d3a" fill-opacity="0.42" stroke="none" stroke-width="0"/>
<circle cx="314.40" cy="1293.20" r="12.60" fill="#e22d3a" fill-opacity="0.42" stroke="none" stroke-width="0"/>
<circle cx="333.20" cy="1293.20" r="18.80" fill="#e22d3a" fill-opacity="0.42" stroke="none" stroke-width="0"/>
<circle cx="333.20" cy="1293.20" r="15.04" fill="#e22d3a" fill-opacity="0.42" stroke="none" stroke-width="0"/>
<circle cx="333.20" cy="1293.20" r="16.92" fill="#e22d3a" fill-opacity="0.42" stroke="none" stroke-width="0"/>
<circle cx="333.20" cy="1293.20" r="13.54" fill="#e22d3a" fill-opacity="0.42" stroke="none" stroke-width="0"/>
<circle cx="346.70" cy="1293.20" r="16.10" fill="#e22d3a" fill-opacity="0.42" stroke="none" stroke-width="0"/>
<circle cx="346.70" cy="1293.20" r="12.88" fill="#e22d3a" fill-opacity="0.42" stroke="none" stroke-width="0"/>
<circle cx="366.90" cy="1293.20" r="14.80" fill="#e22d3a" fill-opacity="0.42" stroke="none" stroke-width="0"/>
<circle cx="366.90" cy="1293.20" r="11.84" fill="#e22d3a" fill-opacity="0.42" stroke="none" stroke-width="0"/>
<circle cx="377.60" cy="1293.20" r="8.00" fill="#e22d3a" fill-opacity="0.42" stroke="none" stroke-width="0"/>
<circle cx="384.30" cy="1293.20" r="4.70" fill="#e22d3a" fill-opacity="0.42" stroke="none" stroke-width="0"/>
<line x1="468.30" y1="1373.00" x2="492.80" y2="1373.00" stroke="#000" stroke-width="2.4"/>
<line x1="468.30" y1="1367.70" x2="468.30" y2="1378.30" stroke="#000" stroke-width="2.2"/>
<line x1="492.80" y1="1367.70" x2="492.80" y2="1378.30" stroke="#000" stroke-width="2.2"/>
<text x="452.60" y="1397.20" font-size="22.4" text-anchor="start" fill="#000">25nm</text>
<text x="272.20" y="1549.10" font-size="31.8" font-weight="bold" text-anchor="middle" fill="#000">EdU Incorporation</text>
<text x="272.20" y="1586.80" font-size="31.8" font-weight="bold" text-anchor="middle" fill="#000">at G4-Replisomes</text>
<text x="272.20" y="1642.40" font-size="31.8" text-anchor="middle"><tspan fill="#e22d3a">EdU</tspan> <tspan fill="#f0a81e">G4</tspan> <tspan fill="#7ab83c">MCM</tspan></text>
<text x="159.10" y="1676.60" font-size="31.8" font-weight="bold" text-anchor="middle" fill="#000">NT</text>
<text x="399.50" y="1676.60" font-size="31.8" font-weight="bold" text-anchor="middle" fill="#000">PDS</text>
<text transform="translate(25.90,1812.30) rotate(-90)" font-size="31.8" font-weight="bold" text-anchor="middle" fill="#000">siCTRL</text>
<text transform="translate(25.90,2058.70) rotate(-90)" font-size="31.8" font-weight="bold" text-anchor="middle" fill="#000">siFANCJ</text>
<line x1="159.10" y1="1701.30" x2="159.10" y2="1923.30" stroke="#000" stroke-width="2.7"/>
<line x1="48.10" y1="1812.30" x2="270.60" y2="1812.30" stroke="#000" stroke-width="2.7"/>
<circle cx="159.10" cy="1812.30" r="55.70" fill="none" stroke="#000" stroke-width="2.7"/>
<circle cx="159.10" cy="1812.30" r="83.60" fill="none" stroke="#000" stroke-width="2.7"/>
<circle cx="131.50" cy="1725.60" r="8.70" fill="#f0a81e" fill-opacity="0.42" stroke="none" stroke-width="0"/>
<circle cx="134.20" cy="1726.90" r="6.00" fill="#f0a81e" fill-opacity="0.42" stroke="none" stroke-width="0"/>
<circle cx="115.30" cy="1735.00" r="10.80" fill="#f0a81e" fill-opacity="0.42" stroke="none" stroke-width="0"/>
<circle cx="115.30" cy="1735.00" r="8.64" fill="#f0a81e" fill-opacity="0.42" stroke="none" stroke-width="0"/>
<circle cx="104.60" cy="1736.30" r="10.80" fill="#f0a81e" fill-opacity="0.42" stroke="none" stroke-width="0"/>
<circle cx="104.60" cy="1736.30" r="8.64" fill="#f0a81e" fill-opacity="0.42" stroke="none" stroke-width="0"/>
<circle cx="139.60" cy="1736.30" r="9.40" fill="#f0a81e" fill-opacity="0.42" stroke="none" stroke-width="0"/>
<circle cx="139.60" cy="1736.30" r="7.52" fill="#f0a81e" fill-opacity="0.42" stroke="none" stroke-width="0"/>
<circle cx="123.40" cy="1740.30" r="10.80" fill="#f0a81e" fill-opacity="0.42" stroke="none" stroke-width="0"/>
<circle cx="123.40" cy="1740.30" r="8.64" fill="#f0a81e" fill-opacity="0.42" stroke="none" stroke-width="0"/>
<circle cx="88.40" cy="1753.80" r="12.10" fill="#f0a81e" fill-opacity="0.42" stroke="none" stroke-width="0"/>
<circle cx="88.40" cy="1753.80" r="9.68" fill="#f0a81e" fill-opacity="0.42" stroke="none" stroke-width="0"/>
<circle cx="84.40" cy="1764.60" r="16.10" fill="#f0a81e" fill-opacity="0.42" stroke="none" stroke-width="0"/>
<circle cx="84.40" cy="1764.60" r="12.88" fill="#f0a81e" fill-opacity="0.42" stroke="none" stroke-width="0"/>
<circle cx="88.40" cy="1775.30" r="10.80" fill="#f0a81e" fill-opacity="0.42" stroke="none" stroke-width="0"/>
<circle cx="88.40" cy="1775.30" r="8.64" fill="#f0a81e" fill-opacity="0.42" stroke="none" stroke-width="0"/>
<circle cx="80.40" cy="1783.40" r="8.00" fill="#f0a81e" fill-opacity="0.42" stroke="none" stroke-width="0"/>
<circle cx="91.10" cy="1786.10" r="8.00" fill="#f0a81e" fill-opacity="0.42" stroke="none" stroke-width="0"/>
<circle cx="84.40" cy="1792.80" r="6.70" fill="#f0a81e" fill-opacity="0.42" stroke="none" stroke-width="0"/>
<circle cx="107.30" cy="1757.80" r="10.80" fill="#f0a81e" fill-opacity="0.42" stroke="none" stroke-width="0"/>
<circle cx="107.30" cy="1757.80" r="8.64" fill="#f0a81e" fill-opacity="0.42" stroke="none" stroke-width="0"/>
<circle cx="127.50" cy="1756.50" r="10.80" fill="#f0a81e" fill-opacity="0.42" stroke="none" stroke-width="0"/>
<circle cx="127.50" cy="1756.50" r="8.64" fill="#f0a81e" fill-opacity="0.42" stroke="none" stroke-width="0"/>
<circle cx="146.30" cy="1756.50" r="6.70" fill="#f0a81e" fill-opacity="0.42" stroke="none" stroke-width="0"/>
<circle cx="127.50" cy="1774.00" r="13.50" fill="#f0a81e" fill-opacity="0.42" stroke="none" stroke-width="0"/>
<circle cx="127.50" cy="1774.00" r="10.80" fill="#f0a81e" fill-opacity="0.42" stroke="none" stroke-width="0"/>
<circle cx="142.20" cy="1772.60" r="14.80" fill="#f0a81e" fill-opacity="0.42" stroke="none" stroke-width="0"/>
<circle cx="142.20" cy="1772.60" r="11.84" fill="#f0a81e" fill-opacity="0.42" stroke="none" stroke-width="0"/>
<circle cx="154.40" cy="1774.00" r="9.40" fill="#f0a81e" fill-opacity="0.42" stroke="none" stroke-width="0"/>
<circle cx="154.40" cy="1774.00" r="7.52" fill="#f0a81e" fill-opacity="0.42" stroke="none" stroke-width="0"/>
<circle cx="153.00" cy="1786.10" r="7.40" fill="#f0a81e" fill-opacity="0.42" stroke="none" stroke-width="0"/>
<circle cx="155.70" cy="1723.50" r="1.40" fill="#f0a81e" fill-opacity="0.42" stroke="none" stroke-width="0"/>
<circle cx="87.10" cy="1767.30" r="12.00" fill="#f0a81e" fill-opacity="0.42" stroke="none" stroke-width="0"/>
<circle cx="87.10" cy="1767.30" r="9.60" fill="#f0a81e" fill-opacity="0.42" stroke="none" stroke-width="0"/>
<circle cx="139.10" cy="1772.30" r="12.00" fill="#f0a81e" fill-opacity="0.42" stroke="none" stroke-width="0"/>
<circle cx="139.10" cy="1772.30" r="9.60" fill="#f0a81e" fill-opacity="0.42" stroke="none" stroke-width="0"/>
<circle cx="114.10" cy="1737.30" r="9.00" fill="#f0a81e" fill-opacity="0.42" stroke="none" stroke-width="0"/>
<circle cx="159.10" cy="1812.30" r="16.80" fill="#7ab83c" fill-opacity="0.42" stroke="none" stroke-width="0"/>
<circle cx="159.10" cy="1812.30" r="13.44" fill="#7ab83c" fill-opacity="0.42" stroke="none" stroke-width="0"/>
<circle cx="159.10" cy="1812.30" r="16.10" fill="#7ab83c" fill-opacity="0.42" stroke="none" stroke-width="0"/>
<circle cx="159.10" cy="1812.30" r="12.88" fill="#7ab83c" fill-opacity="0.42" stroke="none" stroke-width="0"/>
<circle cx="159.10" cy="1812.30" r="15.00" fill="#7ab83c" fill-opacity="0.42" stroke="none" stroke-width="0"/>
<circle cx="159.10" cy="1812.30" r="12.00" fill="#7ab83c" fill-opacity="0.42" stroke="none" stroke-width="0"/>
<circle cx="69.60" cy="1812.30" r="13.50" fill="#e22d3a" fill-opacity="0.42" stroke="none" stroke-width="0"/>
<circle cx="69.60" cy="1812.30" r="10.80" fill="#e22d3a" fill-opacity="0.42" stroke="none" stroke-width="0"/>
<circle cx="69.60" cy="1812.30" r="12.15" fill="#e22d3a" fill-opacity="0.42" stroke="none" stroke-width="0"/>
<circle cx="69.60" cy="1812.30" r="9.72" fill="#e22d3a" fill-opacity="0.42" stroke="none" stroke-width="0"/>
<circle cx="69.60" cy="1812.30" r="10.94" fill="#e22d3a" fill-opacity="0.42" stroke="none" stroke-width="0"/>
<circle cx="69.60" cy="1812.30" r="8.75" fill="#e22d3a" fill-opacity="0.42" stroke="none" stroke-width="0"/>
<circle cx="79.00" cy="1812.30" r="13.50" fill="#e22d3a" fill-opacity="0.42" stroke="none" stroke-width="0"/>
<circle cx="79.00" cy="1812.30" r="10.80" fill="#e22d3a" fill-opacity="0.42" stroke="none" stroke-width="0"/>
<circle cx="79.00" cy="1812.30" r="12.15" fill="#e22d3a" fill-opacity="0.42" stroke="none" stroke-width="0"/>
<circle cx="79.00" cy="1812.30" r="9.72" fill="#e22d3a" fill-opacity="0.42" stroke="none" stroke-width="0"/>
<circle cx="79.00" cy="1812.30" r="10.94" fill="#e22d3a" fill-opacity="0.42" stroke="none" stroke-width="0"/>
<circle cx="79.00" cy="1812.30" r="8.75" fill="#e22d3a" fill-opacity="0.42" stroke="none" stroke-width="0"/>
<circle cx="88.40" cy="1813.00" r="14.80" fill="#e22d3a" fill-opacity="0.42" stroke="none" stroke-width="0"/>
<circle cx="88.40" cy="1813.00" r="11.84" fill="#e22d3a" fill-opacity="0.42" stroke="none" stroke-width="0"/>
<circle cx="88.40" cy="1813.00" r="13.32" fill="#e22d3a" fill-opacity="0.42" stroke="none" stroke-width="0"/>
<circle cx="88.40" cy="1813.00" r="10.66" fill="#e22d3a" fill-opacity="0.42" stroke="none" stroke-width="0"/>
<circle cx="88.40" cy="1813.00" r="11.99" fill="#e22d3a" fill-opacity="0.42" stroke="none" stroke-width="0"/>
<circle cx="88.40" cy="1813.00" r="9.59" fill="#e22d3a" fill-opacity="0.42" stroke="none" stroke-width="0"/>
<circle cx="99.20" cy="1812.30" r="12.80" fill="#e22d3a" fill-opacity="0.42" stroke="none" stroke-width="0"/>
<circle cx="99.20" cy="1812.30" r="10.24" fill="#e22d3a" fill-opacity="0.42" stroke="none" stroke-width="0"/>
<circle cx="99.20" cy="1812.30" r="11.52" fill="#e22d3a" fill-opacity="0.42" stroke="none" stroke-width="0"/>
<circle cx="99.20" cy="1812.30" r="9.22" fill="#e22d3a" fill-opacity="0.42" stroke="none" stroke-width="0"/>
<circle cx="99.20" cy="1812.30" r="10.37" fill="#e22d3a" fill-opacity="0.42" stroke="none" stroke-width="0"/>
<circle cx="99.20" cy="1812.30" r="8.29" fill="#e22d3a" fill-opacity="0.42" stroke="none" stroke-width="0"/>
<circle cx="111.30" cy="1812.30" r="13.50" fill="#e22d3a" fill-opacity="0.42" stroke="none" stroke-width="0"/>
<circle cx="111.30" cy="1812.30" r="10.80" fill="#e22d3a" fill-opacity="0.42" stroke="none" stroke-width="0"/>
<circle cx="111.30" cy="1812.30" r="12.15" fill="#e22d3a" fill-opacity="0.42" stroke="none" stroke-width="0"/>
<circle cx="111.30" cy="1812.30" r="9.72" fill="#e22d3a" fill-opacity="0.42" stroke="none" stroke-width="0"/>
<circle cx="111.30" cy="1812.30" r="10.94" fill="#e22d3a" fill-opacity="0.42" stroke="none" stroke-width="0"/>
<circle cx="111.30" cy="1812.30" r="8.75" fill="#e22d3a" fill-opacity="0.42" stroke="none" stroke-width="0"/>
<circle cx="118.00" cy="1811.60" r="8.00" fill="#e22d3a" fill-opacity="0.42" stroke="none" stroke-width="0"/>
<circle cx="151.70" cy="1812.30" r="9.40" fill="#e22d3a" fill-opacity="0.42" stroke="none" stroke-width="0"/>
<circle cx="151.70" cy="1812.30" r="7.52" fill="#e22d3a" fill-opacity="0.42" stroke="none" stroke-width="0"/>
<circle cx="151.70" cy="1812.30" r="5.40" fill="#e22d3a" fill-opacity="0.42" stroke="none" stroke-width="0"/>
<circle cx="136.90" cy="1812.30" r="1.10" fill="#e22d3a" fill-opacity="0.42" stroke="none" stroke-width="0"/>
<line x1="399.50" y1="1701.30" x2="399.50" y2="1923.30" stroke="#000" stroke-width="2.7"/>
<line x1="288.50" y1="1812.30" x2="511.00" y2="1812.30" stroke="#000" stroke-width="2.7"/>
<circle cx="399.50" cy="1812.30" r="55.70" fill="none" stroke="#000" stroke-width="2.7"/>
<circle cx="399.50" cy="1812.30" r="83.60" fill="none" stroke="#000" stroke-width="2.7"/>
<circle cx="354.70" cy="1735.00" r="16.10" fill="#f0a81e" fill-opacity="0.42" stroke="none" stroke-width="0"/>
<circle cx="354.70" cy="1735.00" r="12.88" fill="#f0a81e" fill-opacity="0.42" stroke="none" stroke-width="0"/>
<circle cx="372.80" cy="1726.90" r="11.40" fill="#f0a81e" fill-opacity="0.42" stroke="none" stroke-width="0"/>
<circle cx="372.80" cy="1726.90" r="9.12" fill="#f0a81e" fill-opacity="0.42" stroke="none" stroke-width="0"/>
<circle cx="391.70" cy="1721.50" r="6.70" fill="#f0a81e" fill-opacity="0.42" stroke="none" stroke-width="0"/>
<circle cx="397.00" cy="1723.50" r="2.40" fill="#f0a81e" fill-opacity="0.42" stroke="none" stroke-width="0"/>
<circle cx="382.20" cy="1735.00" r="10.80" fill="#f0a81e" fill-opacity="0.42" stroke="none" stroke-width="0"/>
<circle cx="382.20" cy="1735.00" r="8.64" fill="#f0a81e" fill-opacity="0.42" stroke="none" stroke-width="0"/>
<circle cx="363.40" cy="1745.70" r="9.40" fill="#f0a81e" fill-opacity="0.42" stroke="none" stroke-width="0"/>
<circle cx="363.40" cy="1745.70" r="7.52" fill="#f0a81e" fill-opacity="0.42" stroke="none" stroke-width="0"/>
<circle cx="382.20" cy="1747.10" r="9.40" fill="#f0a81e" fill-opacity="0.42" stroke="none" stroke-width="0"/>
<circle cx="382.20" cy="1747.10" r="7.52" fill="#f0a81e" fill-opacity="0.42" stroke="none" stroke-width="0"/>
<circle cx="321.70" cy="1770.00" r="13.50" fill="#f0a81e" fill-opacity="0.42" stroke="none" stroke-width="0"/>
<circle cx="321.70" cy="1770.00" r="10.80" fill="#f0a81e" fill-opacity="0.42" stroke="none" stroke-width="0"/>
<circle cx="315.00" cy="1779.40" r="9.40" fill="#f0a81e" fill-opacity="0.42" stroke="none" stroke-width="0"/>
<circle cx="315.00" cy="1779.40" r="7.52" fill="#f0a81e" fill-opacity="0.42" stroke="none" stroke-width="0"/>
<circle cx="331.10" cy="1775.40" r="12.10" fill="#f0a81e" fill-opacity="0.42" stroke="none" stroke-width="0"/>
<circle cx="331.10" cy="1775.40" r="9.68" fill="#f0a81e" fill-opacity="0.42" stroke="none" stroke-width="0"/>
<circle cx="368.80" cy="1764.60" r="14.80" fill="#f0a81e" fill-opacity="0.42" stroke="none" stroke-width="0"/>
<circle cx="368.80" cy="1764.60" r="11.84" fill="#f0a81e" fill-opacity="0.42" stroke="none" stroke-width="0"/>
<circle cx="376.90" cy="1772.60" r="21.50" fill="#f0a81e" fill-opacity="0.42" stroke="none" stroke-width="0"/>
<circle cx="376.90" cy="1772.60" r="17.20" fill="#f0a81e" fill-opacity="0.42" stroke="none" stroke-width="0"/>
<circle cx="387.60" cy="1775.30" r="16.10" fill="#f0a81e" fill-opacity="0.42" stroke="none" stroke-width="0"/>
<circle cx="387.60" cy="1775.30" r="12.88" fill="#f0a81e" fill-opacity="0.42" stroke="none" stroke-width="0"/>
<circle cx="360.70" cy="1775.30" r="12.10" fill="#f0a81e" fill-opacity="0.42" stroke="none" stroke-width="0"/>
<circle cx="360.70" cy="1775.30" r="9.68" fill="#f0a81e" fill-opacity="0.42" stroke="none" stroke-width="0"/>
<circle cx="383.60" cy="1790.10" r="9.40" fill="#f0a81e" fill-opacity="0.42" stroke="none" stroke-width="0"/>
<circle cx="383.60" cy="1790.10" r="7.52" fill="#f0a81e" fill-opacity="0.42" stroke="none" stroke-width="0"/>
<circle cx="408.50" cy="1757.20" r="4.00" fill="#f0a81e" fill-opacity="0.42" stroke="none" stroke-width="0"/>
<circle cx="323.10" cy="1796.90" r="6.70" fill="#f0a81e" fill-opacity="0.42" stroke="none" stroke-width="0"/>
<circle cx="377.50" cy="1770.30" r="16.00" fill="#f0a81e" fill-opacity="0.42" stroke="none" stroke-width="0"/>
<circle cx="377.50" cy="1770.30" r="12.80" fill="#f0a81e" fill-opacity="0.42" stroke="none" stroke-width="0"/>
<circle cx="324.50" cy="1772.30" r="11.00" fill="#f0a81e" fill-opacity="0.42" stroke="none" stroke-width="0"/>
<circle cx="324.50" cy="1772.30" r="8.80" fill="#f0a81e" fill-opacity="0.42" stroke="none" stroke-width="0"/>
<circle cx="399.70" cy="1812.30" r="18.20" fill="#7ab83c" fill-opacity="0.42" stroke="none" stroke-width="0"/>
<circle cx="399.70" cy="1812.30" r="14.56" fill="#7ab83c" fill-opacity="0.42" stroke="none" stroke-width="0"/>
<circle cx="399.70" cy="1812.30" r="17.80" fill="#7ab83c" fill-opacity="0.42" stroke="none" stroke-width="0"/>
<circle cx="399.70" cy="1812.30" r="14.24" fill="#7ab83c" fill-opacity="0.42" stroke="none" stroke-width="0"/>
<circle cx="399.70" cy="1812.30" r="17.20" fill="#7ab83c" fill-opacity="0.42" stroke="none" stroke-width="0"/>
<circle cx="399.70" cy="1812.30" r="13.76" fill="#7ab83c" fill-opacity="0.42" stroke="none" stroke-width="0"/>
<circle cx="310.90" cy="1812.30" r="16.10" fill="#e22d3a" fill-opacity="0.42" stroke="none" stroke-width="0"/>
<circle cx="310.90" cy="1812.30" r="12.88" fill="#e22d3a" fill-opacity="0.42" stroke="none" stroke-width="0"/>
<circle cx="310.90" cy="1812.30" r="14.49" fill="#e22d3a" fill-opacity="0.42" stroke="none" stroke-width="0"/>
<circle cx="310.90" cy="1812.30" r="11.59" fill="#e22d3a" fill-opacity="0.42" stroke="none" stroke-width="0"/>
<circle cx="310.90" cy="1812.30" r="13.04" fill="#e22d3a" fill-opacity="0.42" stroke="none" stroke-width="0"/>
<circle cx="310.90" cy="1812.30" r="10.43" fill="#e22d3a" fill-opacity="0.42" stroke="none" stroke-width="0"/>
<circle cx="320.40" cy="1811.60" r="14.80" fill="#e22d3a" fill-opacity="0.42" stroke="none" stroke-width="0"/>
<circle cx="320.40" cy="1811.60" r="11.84" fill="#e22d3a" fill-opacity="0.42" stroke="none" stroke-width="0"/>
<circle cx="320.40" cy="1811.60" r="13.32" fill="#e22d3a" fill-opacity="0.42" stroke="none" stroke-width="0"/>
<circle cx="320.40" cy="1811.60" r="10.66" fill="#e22d3a" fill-opacity="0.42" stroke="none" stroke-width="0"/>
<circle cx="320.40" cy="1811.60" r="11.99" fill="#e22d3a" fill-opacity="0.42" stroke="none" stroke-width="0"/>
<circle cx="320.40" cy="1811.60" r="9.59" fill="#e22d3a" fill-opacity="0.42" stroke="none" stroke-width="0"/>
<circle cx="337.90" cy="1811.60" r="18.80" fill="#e22d3a" fill-opacity="0.42" stroke="none" stroke-width="0"/>
<circle cx="337.90" cy="1811.60" r="15.04" fill="#e22d3a" fill-opacity="0.42" stroke="none" stroke-width="0"/>
<circle cx="337.90" cy="1811.60" r="16.92" fill="#e22d3a" fill-opacity="0.42" stroke="none" stroke-width="0"/>
<circle cx="337.90" cy="1811.60" r="13.54" fill="#e22d3a" fill-opacity="0.42" stroke="none" stroke-width="0"/>
<circle cx="337.90" cy="1811.60" r="15.23" fill="#e22d3a" fill-opacity="0.42" stroke="none" stroke-width="0"/>
<circle cx="337.90" cy="1811.60" r="12.18" fill="#e22d3a" fill-opacity="0.42" stroke="none" stroke-width="0"/>
<circle cx="350.00" cy="1813.00" r="17.50" fill="#e22d3a" fill-opacity="0.42" stroke="none" stroke-width="0"/>
<circle cx="350.00" cy="1813.00" r="14.00" fill="#e22d3a" fill-opacity="0.42" stroke="none" stroke-width="0"/>
<circle cx="350.00" cy="1813.00" r="15.75" fill="#e22d3a" fill-opacity="0.42" stroke="none" stroke-width="0"/>
<circle cx="350.00" cy="1813.00" r="12.60" fill="#e22d3a" fill-opacity="0.42" stroke="none" stroke-width="0"/>
<circle cx="350.00" cy="1813.00" r="14.18" fill="#e22d3a" fill-opacity="0.42" stroke="none" stroke-width="0"/>
<circle cx="350.00" cy="1813.00" r="11.34" fill="#e22d3a" fill-opacity="0.42" stroke="none" stroke-width="0"/>
<circle cx="363.40" cy="1811.60" r="10.80" fill="#e22d3a" fill-opacity="0.42" stroke="none" stroke-width="0"/>
<circle cx="363.40" cy="1811.60" r="8.64" fill="#e22d3a" fill-opacity="0.42" stroke="none" stroke-width="0"/>
<circle cx="384.90" cy="1813.00" r="8.00" fill="#e22d3a" fill-opacity="0.42" stroke="none" stroke-width="0"/>
<circle cx="390.30" cy="1812.30" r="6.70" fill="#e22d3a" fill-opacity="0.42" stroke="none" stroke-width="0"/>
<line x1="159.10" y1="1947.70" x2="159.10" y2="2169.70" stroke="#000" stroke-width="2.7"/>
<line x1="48.10" y1="2058.70" x2="270.60" y2="2058.70" stroke="#000" stroke-width="2.7"/>
<circle cx="159.10" cy="2058.70" r="55.70" fill="none" stroke="#000" stroke-width="2.7"/>
<circle cx="159.10" cy="2058.70" r="83.60" fill="none" stroke="#000" stroke-width="2.7"/>
<circle cx="126.10" cy="1973.30" r="12.10" fill="#f0a81e" fill-opacity="0.42" stroke="none" stroke-width="0"/>
<circle cx="126.10" cy="1973.30" r="9.68" fill="#f0a81e" fill-opacity="0.42" stroke="none" stroke-width="0"/>
<circle cx="107.30" cy="1985.40" r="12.10" fill="#f0a81e" fill-opacity="0.42" stroke="none" stroke-width="0"/>
<circle cx="107.30" cy="1985.40" r="9.68" fill="#f0a81e" fill-opacity="0.42" stroke="none" stroke-width="0"/>
<circle cx="91.10" cy="1998.80" r="21.50" fill="#f0a81e" fill-opacity="0.42" stroke="none" stroke-width="0"/>
<circle cx="91.10" cy="1998.80" r="17.20" fill="#f0a81e" fill-opacity="0.42" stroke="none" stroke-width="0"/>
<circle cx="93.80" cy="2006.90" r="17.50" fill="#f0a81e" fill-opacity="0.42" stroke="none" stroke-width="0"/>
<circle cx="93.80" cy="2006.90" r="14.00" fill="#f0a81e" fill-opacity="0.42" stroke="none" stroke-width="0"/>
<circle cx="120.70" cy="1989.40" r="13.50" fill="#f0a81e" fill-opacity="0.42" stroke="none" stroke-width="0"/>
<circle cx="120.70" cy="1989.40" r="10.80" fill="#f0a81e" fill-opacity="0.42" stroke="none" stroke-width="0"/>
<circle cx="136.90" cy="1985.40" r="12.10" fill="#f0a81e" fill-opacity="0.42" stroke="none" stroke-width="0"/>
<circle cx="136.90" cy="1985.40" r="9.68" fill="#f0a81e" fill-opacity="0.42" stroke="none" stroke-width="0"/>
<circle cx="144.90" cy="1977.30" r="6.70" fill="#f0a81e" fill-opacity="0.42" stroke="none" stroke-width="0"/>
<circle cx="154.40" cy="1989.40" r="6.00" fill="#f0a81e" fill-opacity="0.42" stroke="none" stroke-width="0"/>
<circle cx="77.70" cy="2020.30" r="6.70" fill="#f0a81e" fill-opacity="0.42" stroke="none" stroke-width="0"/>
<circle cx="84.40" cy="2032.40" r="10.80" fill="#f0a81e" fill-opacity="0.42" stroke="none" stroke-width="0"/>
<circle cx="84.40" cy="2032.40" r="8.64" fill="#f0a81e" fill-opacity="0.42" stroke="none" stroke-width="0"/>
<circle cx="97.90" cy="2031.10" r="5.40" fill="#f0a81e" fill-opacity="0.42" stroke="none" stroke-width="0"/>
<circle cx="127.50" cy="2013.60" r="13.50" fill="#f0a81e" fill-opacity="0.42" stroke="none" stroke-width="0"/>
<circle cx="127.50" cy="2013.60" r="10.80" fill="#f0a81e" fill-opacity="0.42" stroke="none" stroke-width="0"/>
<circle cx="140.90" cy="2016.30" r="14.80" fill="#f0a81e" fill-opacity="0.42" stroke="none" stroke-width="0"/>
<circle cx="140.90" cy="2016.30" r="11.84" fill="#f0a81e" fill-opacity="0.42" stroke="none" stroke-width="0"/>
<circle cx="150.30" cy="2021.70" r="10.80" fill="#f0a81e" fill-opacity="0.42" stroke="none" stroke-width="0"/>
<circle cx="150.30" cy="2021.70" r="8.64" fill="#f0a81e" fill-opacity="0.42" stroke="none" stroke-width="0"/>
<circle cx="122.10" cy="2032.40" r="8.00" fill="#f0a81e" fill-opacity="0.42" stroke="none" stroke-width="0"/>
<circle cx="134.20" cy="2031.10" r="13.50" fill="#f0a81e" fill-opacity="0.42" stroke="none" stroke-width="0"/>
<circle cx="134.20" cy="2031.10" r="10.80" fill="#f0a81e" fill-opacity="0.42" stroke="none" stroke-width="0"/>
<circle cx="143.60" cy="2044.50" r="5.40" fill="#f0a81e" fill-opacity="0.42" stroke="none" stroke-width="0"/>
<circle cx="155.70" cy="2037.80" r="4.00" fill="#f0a81e" fill-opacity="0.42" stroke="none" stroke-width="0"/>
<circle cx="99.10" cy="2003.70" r="16.00" fill="#f0a81e" fill-opacity="0.42" stroke="none" stroke-width="0"/>
<circle cx="99.10" cy="2003.70" r="12.80" fill="#f0a81e" fill-opacity="0.42" stroke="none" stroke-width="0"/>
<circle cx="129.10" cy="1983.70" r="10.00" fill="#f0a81e" fill-opacity="0.42" stroke="none" stroke-width="0"/>
<circle cx="129.10" cy="1983.70" r="8.00" fill="#f0a81e" fill-opacity="0.42" stroke="none" stroke-width="0"/>
<circle cx="139.10" cy="2018.70" r="12.00" fill="#f0a81e" fill-opacity="0.42" stroke="none" stroke-width="0"/>
<circle cx="139.10" cy="2018.70" r="9.60" fill="#f0a81e" fill-opacity="0.42" stroke="none" stroke-width="0"/>
<circle cx="159.10" cy="2058.70" r="21.50" fill="#7ab83c" fill-opacity="0.42" stroke="none" stroke-width="0"/>
<circle cx="159.10" cy="2058.70" r="17.20" fill="#7ab83c" fill-opacity="0.42" stroke="none" stroke-width="0"/>
<circle cx="159.10" cy="2058.70" r="21.20" fill="#7ab83c" fill-opacity="0.42" stroke="none" stroke-width="0"/>
<circle cx="159.10" cy="2058.70" r="16.96" fill="#7ab83c" fill-opacity="0.42" stroke="none" stroke-width="0"/>
<circle cx="159.10" cy="2058.70" r="20.80" fill="#7ab83c" fill-opacity="0.42" stroke="none" stroke-width="0"/>
<circle cx="159.10" cy="2058.70" r="16.64" fill="#7ab83c" fill-opacity="0.42" stroke="none" stroke-width="0"/>
<circle cx="69.60" cy="2058.00" r="18.80" fill="#e22d3a" fill-opacity="0.42" stroke="none" stroke-width="0"/>
<circle cx="69.60" cy="2058.00" r="15.04" fill="#e22d3a" fill-opacity="0.42" stroke="none" stroke-width="0"/>
<circle cx="69.60" cy="2058.00" r="16.92" fill="#e22d3a" fill-opacity="0.42" stroke="none" stroke-width="0"/>
<circle cx="69.60" cy="2058.00" r="13.54" fill="#e22d3a" fill-opacity="0.42" stroke="none" stroke-width="0"/>
<circle cx="69.60" cy="2058.00" r="15.23" fill="#e22d3a" fill-opacity="0.42" stroke="none" stroke-width="0"/>
<circle cx="69.60" cy="2058.00" r="12.18" fill="#e22d3a" fill-opacity="0.42" stroke="none" stroke-width="0"/>
<circle cx="80.40" cy="2058.70" r="18.80" fill="#e22d3a" fill-opacity="0.42" stroke="none" stroke-width="0"/>
<circle cx="80.40" cy="2058.70" r="15.04" fill="#e22d3a" fill-opacity="0.42" stroke="none" stroke-width="0"/>
<circle cx="80.40" cy="2058.70" r="16.92" fill="#e22d3a" fill-opacity="0.42" stroke="none" stroke-width="0"/>
<circle cx="80.40" cy="2058.70" r="13.54" fill="#e22d3a" fill-opacity="0.42" stroke="none" stroke-width="0"/>
<circle cx="80.40" cy="2058.70" r="15.23" fill="#e22d3a" fill-opacity="0.42" stroke="none" stroke-width="0"/>
<circle cx="80.40" cy="2058.70" r="12.18" fill="#e22d3a" fill-opacity="0.42" stroke="none" stroke-width="0"/>
<circle cx="93.80" cy="2058.00" r="21.50" fill="#e22d3a" fill-opacity="0.42" stroke="none" stroke-width="0"/>
<circle cx="93.80" cy="2058.00" r="17.20" fill="#e22d3a" fill-opacity="0.42" stroke="none" stroke-width="0"/>
<circle cx="93.80" cy="2058.00" r="19.35" fill="#e22d3a" fill-opacity="0.42" stroke="none" stroke-width="0"/>
<circle cx="93.80" cy="2058.00" r="15.48" fill="#e22d3a" fill-opacity="0.42" stroke="none" stroke-width="0"/>
<circle cx="93.80" cy="2058.00" r="17.42" fill="#e22d3a" fill-opacity="0.42" stroke="none" stroke-width="0"/>
<circle cx="93.80" cy="2058.00" r="13.93" fill="#e22d3a" fill-opacity="0.42" stroke="none" stroke-width="0"/>
<circle cx="107.30" cy="2058.70" r="20.20" fill="#e22d3a" fill-opacity="0.42" stroke="none" stroke-width="0"/>
<circle cx="107.30" cy="2058.70" r="16.16" fill="#e22d3a" fill-opacity="0.42" stroke="none" stroke-width="0"/>
<circle cx="107.30" cy="2058.70" r="18.18" fill="#e22d3a" fill-opacity="0.42" stroke="none" stroke-width="0"/>
<circle cx="107.30" cy="2058.70" r="14.54" fill="#e22d3a" fill-opacity="0.42" stroke="none" stroke-width="0"/>
<circle cx="107.30" cy="2058.70" r="16.36" fill="#e22d3a" fill-opacity="0.42" stroke="none" stroke-width="0"/>
<circle cx="107.30" cy="2058.70" r="13.09" fill="#e22d3a" fill-opacity="0.42" stroke="none" stroke-width="0"/>
<circle cx="118.00" cy="2058.70" r="13.50" fill="#e22d3a" fill-opacity="0.42" stroke="none" stroke-width="0"/>
<circle cx="118.00" cy="2058.70" r="10.80" fill="#e22d3a" fill-opacity="0.42" stroke="none" stroke-width="0"/>
<circle cx="139.60" cy="2058.70" r="6.70" fill="#e22d3a" fill-opacity="0.42" stroke="none" stroke-width="0"/>
<circle cx="147.60" cy="2058.70" r="6.70" fill="#e22d3a" fill-opacity="0.42" stroke="none" stroke-width="0"/>
<line x1="399.50" y1="1947.70" x2="399.50" y2="2169.70" stroke="#000" stroke-width="2.7"/>
<line x1="288.50" y1="2058.70" x2="511.00" y2="2058.70" stroke="#000" stroke-width="2.7"/>
<circle cx="399.50" cy="2058.70" r="55.70" fill="none" stroke="#000" stroke-width="2.7"/>
<circle cx="399.50" cy="2058.70" r="83.60" fill="none" stroke="#000" stroke-width="2.7"/>
<circle cx="376.90" cy="1980.00" r="14.80" fill="#f0a81e" fill-opacity="0.42" stroke="none" stroke-width="0"/>
<circle cx="376.90" cy="1980.00" r="11.84" fill="#f0a81e" fill-opacity="0.42" stroke="none" stroke-width="0"/>
<circle cx="374.20" cy="1985.40" r="18.80" fill="#f0a81e" fill-opacity="0.42" stroke="none" stroke-width="0"/>
<circle cx="374.20" cy="1985.40" r="15.04" fill="#f0a81e" fill-opacity="0.42" stroke="none" stroke-width="0"/>
<circle cx="355.30" cy="1980.60" r="6.70" fill="#f0a81e" fill-opacity="0.42" stroke="none" stroke-width="0"/>
<circle cx="387.60" cy="1990.70" r="9.40" fill="#f0a81e" fill-opacity="0.42" stroke="none" stroke-width="0"/>
<circle cx="387.60" cy="1990.70" r="7.52" fill="#f0a81e" fill-opacity="0.42" stroke="none" stroke-width="0"/>
<circle cx="333.80" cy="1993.40" r="12.10" fill="#f0a81e" fill-opacity="0.42" stroke="none" stroke-width="0"/>
<circle cx="333.80" cy="1993.40" r="9.68" fill="#f0a81e" fill-opacity="0.42" stroke="none" stroke-width="0"/>
<circle cx="340.50" cy="1990.70" r="5.40" fill="#f0a81e" fill-opacity="0.42" stroke="none" stroke-width="0"/>
<circle cx="324.40" cy="2004.20" r="14.80" fill="#f0a81e" fill-opacity="0.42" stroke="none" stroke-width="0"/>
<circle cx="324.40" cy="2004.20" r="11.84" fill="#f0a81e" fill-opacity="0.42" stroke="none" stroke-width="0"/>
<circle cx="315.00" cy="2017.70" r="12.10" fill="#f0a81e" fill-opacity="0.42" stroke="none" stroke-width="0"/>
<circle cx="315.00" cy="2017.70" r="9.68" fill="#f0a81e" fill-opacity="0.42" stroke="none" stroke-width="0"/>
<circle cx="321.70" cy="2024.40" r="12.10" fill="#f0a81e" fill-opacity="0.42" stroke="none" stroke-width="0"/>
<circle cx="321.70" cy="2024.40" r="9.68" fill="#f0a81e" fill-opacity="0.42" stroke="none" stroke-width="0"/>
<circle cx="337.80" cy="2010.90" r="10.80" fill="#f0a81e" fill-opacity="0.42" stroke="none" stroke-width="0"/>
<circle cx="337.80" cy="2010.90" r="8.64" fill="#f0a81e" fill-opacity="0.42" stroke="none" stroke-width="0"/>
<circle cx="341.90" cy="2025.80" r="8.00" fill="#f0a81e" fill-opacity="0.42" stroke="none" stroke-width="0"/>
<circle cx="352.60" cy="2005.50" r="8.00" fill="#f0a81e" fill-opacity="0.42" stroke="none" stroke-width="0"/>
<circle cx="366.10" cy="2009.60" r="10.80" fill="#f0a81e" fill-opacity="0.42" stroke="none" stroke-width="0"/>
<circle cx="366.10" cy="2009.60" r="8.64" fill="#f0a81e" fill-opacity="0.42" stroke="none" stroke-width="0"/>
<circle cx="376.90" cy="2017.60" r="16.10" fill="#f0a81e" fill-opacity="0.42" stroke="none" stroke-width="0"/>
<circle cx="376.90" cy="2017.60" r="12.88" fill="#f0a81e" fill-opacity="0.42" stroke="none" stroke-width="0"/>
<circle cx="390.30" cy="2020.30" r="13.50" fill="#f0a81e" fill-opacity="0.42" stroke="none" stroke-width="0"/>
<circle cx="390.30" cy="2020.30" r="10.80" fill="#f0a81e" fill-opacity="0.42" stroke="none" stroke-width="0"/>
<circle cx="390.30" cy="2031.10" r="9.40" fill="#f0a81e" fill-opacity="0.42" stroke="none" stroke-width="0"/>
<circle cx="390.30" cy="2031.10" r="7.52" fill="#f0a81e" fill-opacity="0.42" stroke="none" stroke-width="0"/>
<circle cx="397.00" cy="2037.80" r="5.40" fill="#f0a81e" fill-opacity="0.42" stroke="none" stroke-width="0"/>
<circle cx="320.40" cy="2040.50" r="6.70" fill="#f0a81e" fill-opacity="0.42" stroke="none" stroke-width="0"/>
<circle cx="379.50" cy="2016.70" r="14.00" fill="#f0a81e" fill-opacity="0.42" stroke="none" stroke-width="0"/>
<circle cx="379.50" cy="2016.70" r="11.20" fill="#f0a81e" fill-opacity="0.42" stroke="none" stroke-width="0"/>
<circle cx="387.50" cy="2023.70" r="12.00" fill="#f0a81e" fill-opacity="0.42" stroke="none" stroke-width="0"/>
<circle cx="387.50" cy="2023.70" r="9.60" fill="#f0a81e" fill-opacity="0.42" stroke="none" stroke-width="0"/>
<circle cx="399.70" cy="2058.70" r="18.80" fill="#7ab83c" fill-opacity="0.42" stroke="none" stroke-width="0"/>
<circle cx="399.70" cy="2058.70" r="15.04" fill="#7ab83c" fill-opacity="0.42" stroke="none" stroke-width="0"/>
<circle cx="399.70" cy="2058.70" r="18.50" fill="#7ab83c" fill-opacity="0.42" stroke="none" stroke-width="0"/>
<circle cx="399.70" cy="2058.70" r="14.80" fill="#7ab83c" fill-opacity="0.42" stroke="none" stroke-width="0"/>
<circle cx="399.70" cy="2058.70" r="18.20" fill="#7ab83c" fill-opacity="0.42" stroke="none" stroke-width="0"/>
<circle cx="399.70" cy="2058.70" r="14.56" fill="#7ab83c" fill-opacity="0.42" stroke="none" stroke-width="0"/>
<circle cx="310.90" cy="2058.70" r="16.10" fill="#e22d3a" fill-opacity="0.42" stroke="none" stroke-width="0"/>
<circle cx="310.90" cy="2058.70" r="12.88" fill="#e22d3a" fill-opacity="0.42" stroke="none" stroke-width="0"/>
<circle cx="310.90" cy="2058.70" r="14.49" fill="#e22d3a" fill-opacity="0.42" stroke="none" stroke-width="0"/>
<circle cx="310.90" cy="2058.70" r="11.59" fill="#e22d3a" fill-opacity="0.42" stroke="none" stroke-width="0"/>
<circle cx="310.90" cy="2058.70" r="13.04" fill="#e22d3a" fill-opacity="0.42" stroke="none" stroke-width="0"/>
<circle cx="310.90" cy="2058.70" r="10.43" fill="#e22d3a" fill-opacity="0.42" stroke="none" stroke-width="0"/>
<circle cx="320.40" cy="2058.70" r="16.10" fill="#e22d3a" fill-opacity="0.42" stroke="none" stroke-width="0"/>
<circle cx="320.40" cy="2058.70" r="12.88" fill="#e22d3a" fill-opacity="0.42" stroke="none" stroke-width="0"/>
<circle cx="320.40" cy="2058.70" r="14.49" fill="#e22d3a" fill-opacity="0.42" stroke="none" stroke-width="0"/>
<circle cx="320.40" cy="2058.70" r="11.59" fill="#e22d3a" fill-opacity="0.42" stroke="none" stroke-width="0"/>
<circle cx="320.40" cy="2058.70" r="13.04" fill="#e22d3a" fill-opacity="0.42" stroke="none" stroke-width="0"/>
<circle cx="320.40" cy="2058.70" r="10.43" fill="#e22d3a" fill-opacity="0.42" stroke="none" stroke-width="0"/>
<circle cx="333.80" cy="2058.00" r="17.50" fill="#e22d3a" fill-opacity="0.42" stroke="none" stroke-width="0"/>
<circle cx="333.80" cy="2058.00" r="14.00" fill="#e22d3a" fill-opacity="0.42" stroke="none" stroke-width="0"/>
<circle cx="333.80" cy="2058.00" r="15.75" fill="#e22d3a" fill-opacity="0.42" stroke="none" stroke-width="0"/>
<circle cx="333.80" cy="2058.00" r="12.60" fill="#e22d3a" fill-opacity="0.42" stroke="none" stroke-width="0"/>
<circle cx="333.80" cy="2058.00" r="14.18" fill="#e22d3a" fill-opacity="0.42" stroke="none" stroke-width="0"/>
<circle cx="333.80" cy="2058.00" r="11.34" fill="#e22d3a" fill-opacity="0.42" stroke="none" stroke-width="0"/>
<circle cx="347.30" cy="2058.70" r="17.50" fill="#e22d3a" fill-opacity="0.42" stroke="none" stroke-width="0"/>
<circle cx="347.30" cy="2058.70" r="14.00" fill="#e22d3a" fill-opacity="0.42" stroke="none" stroke-width="0"/>
<circle cx="347.30" cy="2058.70" r="15.75" fill="#e22d3a" fill-opacity="0.42" stroke="none" stroke-width="0"/>
<circle cx="347.30" cy="2058.70" r="12.60" fill="#e22d3a" fill-opacity="0.42" stroke="none" stroke-width="0"/>
<circle cx="347.30" cy="2058.70" r="14.18" fill="#e22d3a" fill-opacity="0.42" stroke="none" stroke-width="0"/>
<circle cx="347.30" cy="2058.70" r="11.34" fill="#e22d3a" fill-opacity="0.42" stroke="none" stroke-width="0"/>
<circle cx="358.10" cy="2058.70" r="10.80" fill="#e22d3a" fill-opacity="0.42" stroke="none" stroke-width="0"/>
<circle cx="358.10" cy="2058.70" r="8.64" fill="#e22d3a" fill-opacity="0.42" stroke="none" stroke-width="0"/>
<circle cx="366.10" cy="2058.70" r="5.40" fill="#e22d3a" fill-opacity="0.42" stroke="none" stroke-width="0"/>
<circle cx="398.30" cy="2058.70" r="17.30" fill="#e22d3a" fill-opacity="0.42" stroke="none" stroke-width="0"/>
<circle cx="393.00" cy="2058.70" r="9.40" fill="#e22d3a" fill-opacity="0.42" stroke="none" stroke-width="0"/>
<circle cx="393.00" cy="2058.70" r="6.00" fill="#e22d3a" fill-opacity="0.42" stroke="none" stroke-width="0"/>
<line x1="468.30" y1="2144.00" x2="492.80" y2="2144.00" stroke="#000" stroke-width="2.4"/>
<line x1="468.30" y1="2138.70" x2="468.30" y2="2149.30" stroke="#000" stroke-width="2.2"/>
<line x1="492.80" y1="2138.70" x2="492.80" y2="2149.30" stroke="#000" stroke-width="2.2"/>
<text x="452.60" y="2168.40" font-size="22.4" text-anchor="start" fill="#000">25nm</text>
<rect x="645.90" y="97.50" width="157.30" height="441.80" fill="none" stroke="#000" stroke-width="2.6"/>
<line x1="636.90" y1="490.21" x2="645.90" y2="490.21" stroke="#000" stroke-width="2.6"/>
<text transform="translate(625.60,490.21) rotate(-90)" font-size="27.5" text-anchor="middle" fill="#000">0</text>
<line x1="636.90" y1="392.03" x2="645.90" y2="392.03" stroke="#000" stroke-width="2.6"/>
<text transform="translate(625.60,392.03) rotate(-90)" font-size="27.5" text-anchor="middle" fill="#000">2</text>
<line x1="636.90" y1="293.86" x2="645.90" y2="293.86" stroke="#000" stroke-width="2.6"/>
<text transform="translate(625.60,293.86) rotate(-90)" font-size="27.5" text-anchor="middle" fill="#000">4</text>
<line x1="636.90" y1="195.68" x2="645.90" y2="195.68" stroke="#000" stroke-width="2.6"/>
<text transform="translate(625.60,195.68) rotate(-90)" font-size="27.5" text-anchor="middle" fill="#000">6</text>
<line x1="636.90" y1="97.50" x2="645.90" y2="97.50" stroke="#000" stroke-width="2.6"/>
<text transform="translate(625.60,97.50) rotate(-90)" font-size="27.5" text-anchor="middle" fill="#000">8</text>
<line x1="640.90" y1="539.30" x2="645.90" y2="539.30" stroke="#000" stroke-width="2.6"/>
<line x1="640.90" y1="441.12" x2="645.90" y2="441.12" stroke="#000" stroke-width="2.6"/>
<line x1="640.90" y1="342.94" x2="645.90" y2="342.94" stroke="#000" stroke-width="2.6"/>
<line x1="640.90" y1="244.77" x2="645.90" y2="244.77" stroke="#000" stroke-width="2.6"/>
<line x1="640.90" y1="146.59" x2="645.90" y2="146.59" stroke="#000" stroke-width="2.6"/>
<line x1="685.23" y1="539.30" x2="685.23" y2="548.30" stroke="#000" stroke-width="2.6"/>
<text x="685.23" y="579.60" font-size="31.8" text-anchor="middle" fill="#000">NT</text>
<line x1="763.88" y1="539.30" x2="763.88" y2="548.30" stroke="#000" stroke-width="2.6"/>
<text x="763.88" y="579.60" font-size="31.8" text-anchor="middle" fill="#000">PDS</text>
<text x="724.55" y="83.20" font-size="31.8" font-weight="bold" text-anchor="middle" fill="#000">siCTRL</text>
<rect x="658.43" y="371.30" width="53.60" height="140.10" fill="none" stroke="#555" stroke-width="2.4"/>
<rect x="737.08" y="340.90" width="53.60" height="167.10" fill="none" stroke="#555" stroke-width="2.4"/>
<circle cx="681.10" cy="164.20" r="5.60" fill="#4a4a4a" fill-opacity="0.68" stroke="none" stroke-width="0"/>
<circle cx="678.50" cy="240.70" r="5.60" fill="#4a4a4a" fill-opacity="0.68" stroke="none" stroke-width="0"/>
<circle cx="683.70" cy="269.10" r="5.60" fill="#4a4a4a" fill-opacity="0.68" stroke="none" stroke-width="0"/>
<circle cx="685.10" cy="279.10" r="5.60" fill="#4a4a4a" fill-opacity="0.68" stroke="none" stroke-width="0"/>
<circle cx="686.30" cy="338.70" r="5.60" fill="#4a4a4a" fill-opacity="0.68" stroke="none" stroke-width="0"/>
<circle cx="684.50" cy="341.30" r="5.60" fill="#4a4a4a" fill-opacity="0.68" stroke="none" stroke-width="0"/>
<circle cx="682.80" cy="367.90" r="5.60" fill="#4a4a4a" fill-opacity="0.68" stroke="none" stroke-width="0"/>
<circle cx="695.70" cy="376.50" r="5.60" fill="#4a4a4a" fill-opacity="0.68" stroke="none" stroke-width="0"/>
<circle cx="680.30" cy="386.00" r="5.60" fill="#4a4a4a" fill-opacity="0.68" stroke="none" stroke-width="0"/>
<circle cx="682.80" cy="386.80" r="5.60" fill="#4a4a4a" fill-opacity="0.68" stroke="none" stroke-width="0"/>
<circle cx="682.30" cy="399.70" r="5.60" fill="#4a4a4a" fill-opacity="0.68" stroke="none" stroke-width="0"/>
<circle cx="682.80" cy="420.00" r="5.60" fill="#4a4a4a" fill-opacity="0.68" stroke="none" stroke-width="0"/>
<circle cx="693.70" cy="427.20" r="5.60" fill="#4a4a4a" fill-opacity="0.68" stroke="none" stroke-width="0"/>
<circle cx="676.00" cy="435.80" r="5.60" fill="#4a4a4a" fill-opacity="0.68" stroke="none" stroke-width="0"/>
<circle cx="686.30" cy="434.10" r="5.60" fill="#4a4a4a" fill-opacity="0.68" stroke="none" stroke-width="0"/>
<circle cx="688.00" cy="437.50" r="5.60" fill="#4a4a4a" fill-opacity="0.68" stroke="none" stroke-width="0"/>
<circle cx="693.10" cy="444.40" r="5.60" fill="#4a4a4a" fill-opacity="0.68" stroke="none" stroke-width="0"/>
<circle cx="682.80" cy="453.00" r="5.60" fill="#4a4a4a" fill-opacity="0.68" stroke="none" stroke-width="0"/>
<circle cx="673.40" cy="459.90" r="5.60" fill="#4a4a4a" fill-opacity="0.68" stroke="none" stroke-width="0"/>
<circle cx="694.34" cy="488.90" r="5.60" fill="#4a4a4a" fill-opacity="0.68" stroke="none" stroke-width="0"/>
<circle cx="680.12" cy="469.96" r="5.60" fill="#4a4a4a" fill-opacity="0.68" stroke="none" stroke-width="0"/>
<circle cx="684.79" cy="481.28" r="5.60" fill="#4a4a4a" fill-opacity="0.68" stroke="none" stroke-width="0"/>
<circle cx="692.93" cy="475.28" r="5.60" fill="#4a4a4a" fill-opacity="0.68" stroke="none" stroke-width="0"/>
<circle cx="674.68" cy="489.20" r="5.60" fill="#4a4a4a" fill-opacity="0.68" stroke="none" stroke-width="0"/>
<circle cx="684.39" cy="466.10" r="5.60" fill="#4a4a4a" fill-opacity="0.68" stroke="none" stroke-width="0"/>
<circle cx="674.05" cy="470.03" r="5.60" fill="#4a4a4a" fill-opacity="0.68" stroke="none" stroke-width="0"/>
<circle cx="691.32" cy="482.85" r="5.60" fill="#4a4a4a" fill-opacity="0.68" stroke="none" stroke-width="0"/>
<circle cx="696.69" cy="487.75" r="5.60" fill="#4a4a4a" fill-opacity="0.68" stroke="none" stroke-width="0"/>
<circle cx="674.73" cy="462.28" r="5.60" fill="#4a4a4a" fill-opacity="0.68" stroke="none" stroke-width="0"/>
<circle cx="686.99" cy="489.48" r="5.60" fill="#4a4a4a" fill-opacity="0.68" stroke="none" stroke-width="0"/>
<circle cx="683.15" cy="459.95" r="5.60" fill="#4a4a4a" fill-opacity="0.68" stroke="none" stroke-width="0"/>
<circle cx="684.13" cy="487.93" r="5.60" fill="#4a4a4a" fill-opacity="0.68" stroke="none" stroke-width="0"/>
<circle cx="679.32" cy="489.47" r="5.60" fill="#4a4a4a" fill-opacity="0.68" stroke="none" stroke-width="0"/>
<circle cx="685.90" cy="483.08" r="5.60" fill="#4a4a4a" fill-opacity="0.68" stroke="none" stroke-width="0"/>
<circle cx="679.54" cy="487.68" r="5.60" fill="#4a4a4a" fill-opacity="0.68" stroke="none" stroke-width="0"/>
<circle cx="685.03" cy="487.90" r="5.60" fill="#4a4a4a" fill-opacity="0.68" stroke="none" stroke-width="0"/>
<circle cx="674.52" cy="486.69" r="5.60" fill="#4a4a4a" fill-opacity="0.68" stroke="none" stroke-width="0"/>
<circle cx="687.35" cy="466.00" r="5.60" fill="#4a4a4a" fill-opacity="0.68" stroke="none" stroke-width="0"/>
<circle cx="678.46" cy="475.68" r="5.60" fill="#4a4a4a" fill-opacity="0.68" stroke="none" stroke-width="0"/>
<circle cx="694.64" cy="456.50" r="5.60" fill="#4a4a4a" fill-opacity="0.68" stroke="none" stroke-width="0"/>
<circle cx="681.98" cy="489.01" r="5.60" fill="#4a4a4a" fill-opacity="0.68" stroke="none" stroke-width="0"/>
<circle cx="691.07" cy="472.06" r="5.60" fill="#4a4a4a" fill-opacity="0.68" stroke="none" stroke-width="0"/>
<circle cx="684.13" cy="460.12" r="5.60" fill="#4a4a4a" fill-opacity="0.68" stroke="none" stroke-width="0"/>
<circle cx="690.09" cy="466.42" r="5.60" fill="#4a4a4a" fill-opacity="0.68" stroke="none" stroke-width="0"/>
<circle cx="688.10" cy="486.42" r="5.60" fill="#4a4a4a" fill-opacity="0.68" stroke="none" stroke-width="0"/>
<circle cx="694.31" cy="463.41" r="5.60" fill="#4a4a4a" fill-opacity="0.68" stroke="none" stroke-width="0"/>
<circle cx="688.14" cy="480.95" r="5.60" fill="#4a4a4a" fill-opacity="0.68" stroke="none" stroke-width="0"/>
<circle cx="679.83" cy="489.46" r="5.60" fill="#4a4a4a" fill-opacity="0.68" stroke="none" stroke-width="0"/>
<circle cx="683.94" cy="468.20" r="5.60" fill="#4a4a4a" fill-opacity="0.68" stroke="none" stroke-width="0"/>
<circle cx="687.17" cy="488.50" r="5.60" fill="#4a4a4a" fill-opacity="0.68" stroke="none" stroke-width="0"/>
<circle cx="690.19" cy="472.94" r="5.60" fill="#4a4a4a" fill-opacity="0.68" stroke="none" stroke-width="0"/>
<circle cx="684.54" cy="484.80" r="5.60" fill="#4a4a4a" fill-opacity="0.68" stroke="none" stroke-width="0"/>
<circle cx="692.68" cy="480.84" r="5.60" fill="#4a4a4a" fill-opacity="0.68" stroke="none" stroke-width="0"/>
<circle cx="683.44" cy="480.41" r="5.60" fill="#4a4a4a" fill-opacity="0.68" stroke="none" stroke-width="0"/>
<circle cx="674.71" cy="481.47" r="5.60" fill="#4a4a4a" fill-opacity="0.68" stroke="none" stroke-width="0"/>
<circle cx="761.10" cy="158.60" r="5.60" fill="#e2222f" fill-opacity="0.68" stroke="none" stroke-width="0"/>
<circle cx="758.50" cy="187.80" r="5.60" fill="#e2222f" fill-opacity="0.68" stroke="none" stroke-width="0"/>
<circle cx="775.30" cy="208.90" r="5.60" fill="#e2222f" fill-opacity="0.68" stroke="none" stroke-width="0"/>
<circle cx="771.90" cy="224.90" r="5.60" fill="#e2222f" fill-opacity="0.68" stroke="none" stroke-width="0"/>
<circle cx="762.80" cy="250.70" r="5.60" fill="#e2222f" fill-opacity="0.68" stroke="none" stroke-width="0"/>
<circle cx="761.40" cy="273.10" r="5.60" fill="#e2222f" fill-opacity="0.68" stroke="none" stroke-width="0"/>
<circle cx="760.20" cy="287.20" r="5.60" fill="#e2222f" fill-opacity="0.68" stroke="none" stroke-width="0"/>
<circle cx="761.90" cy="288.50" r="5.60" fill="#e2222f" fill-opacity="0.68" stroke="none" stroke-width="0"/>
<circle cx="770.90" cy="307.80" r="5.60" fill="#e2222f" fill-opacity="0.68" stroke="none" stroke-width="0"/>
<circle cx="761.90" cy="317.20" r="5.60" fill="#e2222f" fill-opacity="0.68" stroke="none" stroke-width="0"/>
<circle cx="761.90" cy="320.00" r="5.60" fill="#e2222f" fill-opacity="0.68" stroke="none" stroke-width="0"/>
<circle cx="761.90" cy="338.70" r="5.60" fill="#e2222f" fill-opacity="0.68" stroke="none" stroke-width="0"/>
<circle cx="763.60" cy="346.40" r="5.60" fill="#e2222f" fill-opacity="0.68" stroke="none" stroke-width="0"/>
<circle cx="766.20" cy="352.40" r="5.60" fill="#e2222f" fill-opacity="0.68" stroke="none" stroke-width="0"/>
<circle cx="759.30" cy="379.10" r="5.60" fill="#e2222f" fill-opacity="0.68" stroke="none" stroke-width="0"/>
<circle cx="772.20" cy="378.20" r="5.60" fill="#e2222f" fill-opacity="0.68" stroke="none" stroke-width="0"/>
<circle cx="764.50" cy="386.80" r="5.60" fill="#e2222f" fill-opacity="0.68" stroke="none" stroke-width="0"/>
<circle cx="757.60" cy="389.40" r="5.60" fill="#e2222f" fill-opacity="0.68" stroke="none" stroke-width="0"/>
<circle cx="765.40" cy="394.60" r="5.60" fill="#e2222f" fill-opacity="0.68" stroke="none" stroke-width="0"/>
<circle cx="756.40" cy="398.80" r="5.60" fill="#e2222f" fill-opacity="0.68" stroke="none" stroke-width="0"/>
<circle cx="767.10" cy="410.90" r="5.60" fill="#e2222f" fill-opacity="0.68" stroke="none" stroke-width="0"/>
<circle cx="757.60" cy="420.30" r="5.60" fill="#e2222f" fill-opacity="0.68" stroke="none" stroke-width="0"/>
<circle cx="758.50" cy="431.50" r="5.60" fill="#e2222f" fill-opacity="0.68" stroke="none" stroke-width="0"/>
<circle cx="760.20" cy="435.80" r="5.60" fill="#e2222f" fill-opacity="0.68" stroke="none" stroke-width="0"/>
<circle cx="768.80" cy="443.50" r="5.60" fill="#e2222f" fill-opacity="0.68" stroke="none" stroke-width="0"/>
<circle cx="763.60" cy="444.40" r="5.60" fill="#e2222f" fill-opacity="0.68" stroke="none" stroke-width="0"/>
<circle cx="756.80" cy="448.70" r="5.60" fill="#e2222f" fill-opacity="0.68" stroke="none" stroke-width="0"/>
<circle cx="756.80" cy="455.60" r="5.60" fill="#e2222f" fill-opacity="0.68" stroke="none" stroke-width="0"/>
<circle cx="766.20" cy="455.60" r="5.60" fill="#e2222f" fill-opacity="0.68" stroke="none" stroke-width="0"/>
<circle cx="775.59" cy="460.79" r="5.60" fill="#e2222f" fill-opacity="0.68" stroke="none" stroke-width="0"/>
<circle cx="752.29" cy="490.40" r="5.60" fill="#e2222f" fill-opacity="0.68" stroke="none" stroke-width="0"/>
<circle cx="769.87" cy="467.81" r="5.60" fill="#e2222f" fill-opacity="0.68" stroke="none" stroke-width="0"/>
<circle cx="758.32" cy="475.92" r="5.60" fill="#e2222f" fill-opacity="0.68" stroke="none" stroke-width="0"/>
<circle cx="766.38" cy="478.57" r="5.60" fill="#e2222f" fill-opacity="0.68" stroke="none" stroke-width="0"/>
<circle cx="754.28" cy="479.52" r="5.60" fill="#e2222f" fill-opacity="0.68" stroke="none" stroke-width="0"/>
<circle cx="760.63" cy="484.47" r="5.60" fill="#e2222f" fill-opacity="0.68" stroke="none" stroke-width="0"/>
<circle cx="776.86" cy="473.51" r="5.60" fill="#e2222f" fill-opacity="0.68" stroke="none" stroke-width="0"/>
<circle cx="764.69" cy="461.21" r="5.60" fill="#e2222f" fill-opacity="0.68" stroke="none" stroke-width="0"/>
<circle cx="757.24" cy="484.07" r="5.60" fill="#e2222f" fill-opacity="0.68" stroke="none" stroke-width="0"/>
<circle cx="750.74" cy="490.46" r="5.60" fill="#e2222f" fill-opacity="0.68" stroke="none" stroke-width="0"/>
<circle cx="758.60" cy="483.48" r="5.60" fill="#e2222f" fill-opacity="0.68" stroke="none" stroke-width="0"/>
<circle cx="774.08" cy="485.81" r="5.60" fill="#e2222f" fill-opacity="0.68" stroke="none" stroke-width="0"/>
<circle cx="765.13" cy="481.52" r="5.60" fill="#e2222f" fill-opacity="0.68" stroke="none" stroke-width="0"/>
<circle cx="750.64" cy="488.69" r="5.60" fill="#e2222f" fill-opacity="0.68" stroke="none" stroke-width="0"/>
<circle cx="753.69" cy="487.06" r="5.60" fill="#e2222f" fill-opacity="0.68" stroke="none" stroke-width="0"/>
<circle cx="776.96" cy="482.04" r="5.60" fill="#e2222f" fill-opacity="0.68" stroke="none" stroke-width="0"/>
<circle cx="754.91" cy="475.72" r="5.60" fill="#e2222f" fill-opacity="0.68" stroke="none" stroke-width="0"/>
<circle cx="771.51" cy="464.55" r="5.60" fill="#e2222f" fill-opacity="0.68" stroke="none" stroke-width="0"/>
<circle cx="774.48" cy="472.97" r="5.60" fill="#e2222f" fill-opacity="0.68" stroke="none" stroke-width="0"/>
<circle cx="771.32" cy="471.59" r="5.60" fill="#e2222f" fill-opacity="0.68" stroke="none" stroke-width="0"/>
<circle cx="776.49" cy="486.43" r="5.60" fill="#e2222f" fill-opacity="0.68" stroke="none" stroke-width="0"/>
<circle cx="754.35" cy="460.43" r="5.60" fill="#e2222f" fill-opacity="0.68" stroke="none" stroke-width="0"/>
<circle cx="769.31" cy="472.02" r="5.60" fill="#e2222f" fill-opacity="0.68" stroke="none" stroke-width="0"/>
<circle cx="764.32" cy="483.58" r="5.60" fill="#e2222f" fill-opacity="0.68" stroke="none" stroke-width="0"/>
<circle cx="774.97" cy="482.70" r="5.60" fill="#e2222f" fill-opacity="0.68" stroke="none" stroke-width="0"/>
<circle cx="772.45" cy="482.35" r="5.60" fill="#e2222f" fill-opacity="0.68" stroke="none" stroke-width="0"/>
<circle cx="773.84" cy="486.43" r="5.60" fill="#e2222f" fill-opacity="0.68" stroke="none" stroke-width="0"/>
<circle cx="762.45" cy="464.19" r="5.60" fill="#e2222f" fill-opacity="0.68" stroke="none" stroke-width="0"/>
<circle cx="774.85" cy="480.03" r="5.60" fill="#e2222f" fill-opacity="0.68" stroke="none" stroke-width="0"/>
<circle cx="763.14" cy="473.47" r="5.60" fill="#e2222f" fill-opacity="0.68" stroke="none" stroke-width="0"/>
<circle cx="758.77" cy="488.90" r="5.60" fill="#e2222f" fill-opacity="0.68" stroke="none" stroke-width="0"/>
<circle cx="754.48" cy="474.59" r="5.60" fill="#e2222f" fill-opacity="0.68" stroke="none" stroke-width="0"/>
<circle cx="757.24" cy="463.71" r="5.60" fill="#e2222f" fill-opacity="0.68" stroke="none" stroke-width="0"/>
<circle cx="758.36" cy="463.51" r="5.60" fill="#e2222f" fill-opacity="0.68" stroke="none" stroke-width="0"/>
<circle cx="769.07" cy="460.71" r="5.60" fill="#e2222f" fill-opacity="0.68" stroke="none" stroke-width="0"/>
<circle cx="763.98" cy="482.24" r="5.60" fill="#e2222f" fill-opacity="0.68" stroke="none" stroke-width="0"/>
<circle cx="765.87" cy="476.71" r="5.60" fill="#e2222f" fill-opacity="0.68" stroke="none" stroke-width="0"/>
<circle cx="755.61" cy="487.34" r="5.60" fill="#e2222f" fill-opacity="0.68" stroke="none" stroke-width="0"/>
<circle cx="775.22" cy="481.98" r="5.60" fill="#e2222f" fill-opacity="0.68" stroke="none" stroke-width="0"/>
<circle cx="752.04" cy="477.88" r="5.60" fill="#e2222f" fill-opacity="0.68" stroke="none" stroke-width="0"/>
<circle cx="769.60" cy="468.63" r="5.60" fill="#e2222f" fill-opacity="0.68" stroke="none" stroke-width="0"/>
<rect x="655.23" y="438.50" width="60.00" height="6.60" fill="#000" stroke="none" stroke-width="0"/>
<rect x="733.88" y="421.30" width="60.00" height="6.60" fill="#000" stroke="none" stroke-width="0"/>
<rect x="867.70" y="97.50" width="157.00" height="441.80" fill="none" stroke="#000" stroke-width="2.6"/>
<line x1="858.70" y1="490.21" x2="867.70" y2="490.21" stroke="#000" stroke-width="2.6"/>
<text transform="translate(847.40,490.21) rotate(-90)" font-size="27.5" text-anchor="middle" fill="#000">0</text>
<line x1="858.70" y1="392.03" x2="867.70" y2="392.03" stroke="#000" stroke-width="2.6"/>
<text transform="translate(847.40,392.03) rotate(-90)" font-size="27.5" text-anchor="middle" fill="#000">2</text>
<line x1="858.70" y1="293.86" x2="867.70" y2="293.86" stroke="#000" stroke-width="2.6"/>
<text transform="translate(847.40,293.86) rotate(-90)" font-size="27.5" text-anchor="middle" fill="#000">4</text>
<line x1="858.70" y1="195.68" x2="867.70" y2="195.68" stroke="#000" stroke-width="2.6"/>
<text transform="translate(847.40,195.68) rotate(-90)" font-size="27.5" text-anchor="middle" fill="#000">6</text>
<line x1="858.70" y1="97.50" x2="867.70" y2="97.50" stroke="#000" stroke-width="2.6"/>
<text transform="translate(847.40,97.50) rotate(-90)" font-size="27.5" text-anchor="middle" fill="#000">8</text>
<line x1="862.70" y1="539.30" x2="867.70" y2="539.30" stroke="#000" stroke-width="2.6"/>
<line x1="862.70" y1="441.12" x2="867.70" y2="441.12" stroke="#000" stroke-width="2.6"/>
<line x1="862.70" y1="342.94" x2="867.70" y2="342.94" stroke="#000" stroke-width="2.6"/>
<line x1="862.70" y1="244.77" x2="867.70" y2="244.77" stroke="#000" stroke-width="2.6"/>
<line x1="862.70" y1="146.59" x2="867.70" y2="146.59" stroke="#000" stroke-width="2.6"/>
<line x1="906.95" y1="539.30" x2="906.95" y2="548.30" stroke="#000" stroke-width="2.6"/>
<text x="906.95" y="579.60" font-size="31.8" text-anchor="middle" fill="#000">NT</text>
<line x1="985.45" y1="539.30" x2="985.45" y2="548.30" stroke="#000" stroke-width="2.6"/>
<text x="985.45" y="579.60" font-size="31.8" text-anchor="middle" fill="#000">PDS</text>
<text x="946.20" y="83.20" font-size="31.8" font-weight="bold" text-anchor="middle" fill="#000">siFANCJ</text>
<rect x="880.15" y="386.30" width="53.60" height="110.70" fill="#888" stroke="#333" stroke-width="2.4"/>
<rect x="958.65" y="324.70" width="53.60" height="157.50" fill="#888" stroke="#333" stroke-width="2.4"/>
<circle cx="899.70" cy="271.50" r="5.15" fill="#fff" fill-opacity="0.9" stroke="#5f5f5f" stroke-width="3.0" stroke-opacity="0.88"/>
<circle cx="899.30" cy="284.70" r="5.15" fill="#fff" fill-opacity="0.9" stroke="#5f5f5f" stroke-width="3.0" stroke-opacity="0.88"/>
<circle cx="904.70" cy="329.60" r="5.15" fill="#fff" fill-opacity="0.9" stroke="#5f5f5f" stroke-width="3.0" stroke-opacity="0.88"/>
<circle cx="901.40" cy="332.90" r="5.15" fill="#fff" fill-opacity="0.9" stroke="#5f5f5f" stroke-width="3.0" stroke-opacity="0.88"/>
<circle cx="908.80" cy="377.30" r="5.15" fill="#fff" fill-opacity="0.9" stroke="#5f5f5f" stroke-width="3.0" stroke-opacity="0.88"/>
<circle cx="913.70" cy="383.00" r="5.15" fill="#fff" fill-opacity="0.9" stroke="#5f5f5f" stroke-width="3.0" stroke-opacity="0.88"/>
<circle cx="896.50" cy="386.30" r="5.15" fill="#fff" fill-opacity="0.9" stroke="#5f5f5f" stroke-width="3.0" stroke-opacity="0.88"/>
<circle cx="905.50" cy="390.40" r="5.15" fill="#fff" fill-opacity="0.9" stroke="#5f5f5f" stroke-width="3.0" stroke-opacity="0.88"/>
<circle cx="917.00" cy="388.80" r="5.15" fill="#fff" fill-opacity="0.9" stroke="#5f5f5f" stroke-width="3.0" stroke-opacity="0.88"/>
<circle cx="898.90" cy="413.40" r="5.15" fill="#fff" fill-opacity="0.9" stroke="#5f5f5f" stroke-width="3.0" stroke-opacity="0.88"/>
<circle cx="903.90" cy="417.60" r="5.15" fill="#fff" fill-opacity="0.9" stroke="#5f5f5f" stroke-width="3.0" stroke-opacity="0.88"/>
<circle cx="914.50" cy="422.50" r="5.15" fill="#fff" fill-opacity="0.9" stroke="#5f5f5f" stroke-width="3.0" stroke-opacity="0.88"/>
<circle cx="908.80" cy="425.80" r="5.15" fill="#fff" fill-opacity="0.9" stroke="#5f5f5f" stroke-width="3.0" stroke-opacity="0.88"/>
<circle cx="895.60" cy="444.70" r="5.15" fill="#fff" fill-opacity="0.9" stroke="#5f5f5f" stroke-width="3.0" stroke-opacity="0.88"/>
<circle cx="908.80" cy="443.00" r="5.15" fill="#fff" fill-opacity="0.9" stroke="#5f5f5f" stroke-width="3.0" stroke-opacity="0.88"/>
<circle cx="915.40" cy="449.60" r="5.15" fill="#fff" fill-opacity="0.9" stroke="#5f5f5f" stroke-width="3.0" stroke-opacity="0.88"/>
<circle cx="901.40" cy="454.60" r="5.15" fill="#fff" fill-opacity="0.9" stroke="#5f5f5f" stroke-width="3.0" stroke-opacity="0.88"/>
<circle cx="894.80" cy="466.90" r="5.15" fill="#fff" fill-opacity="0.9" stroke="#5f5f5f" stroke-width="3.0" stroke-opacity="0.88"/>
<circle cx="908.80" cy="469.40" r="5.15" fill="#fff" fill-opacity="0.9" stroke="#5f5f5f" stroke-width="3.0" stroke-opacity="0.88"/>
<circle cx="905.50" cy="474.30" r="5.15" fill="#fff" fill-opacity="0.9" stroke="#5f5f5f" stroke-width="3.0" stroke-opacity="0.88"/>
<circle cx="914.50" cy="476.80" r="5.15" fill="#fff" fill-opacity="0.9" stroke="#5f5f5f" stroke-width="3.0" stroke-opacity="0.88"/>
<circle cx="894.80" cy="482.50" r="5.15" fill="#fff" fill-opacity="0.9" stroke="#5f5f5f" stroke-width="3.0" stroke-opacity="0.88"/>
<circle cx="898.90" cy="485.00" r="5.15" fill="#fff" fill-opacity="0.9" stroke="#5f5f5f" stroke-width="3.0" stroke-opacity="0.88"/>
<circle cx="905.50" cy="488.30" r="5.15" fill="#fff" fill-opacity="0.9" stroke="#5f5f5f" stroke-width="3.0" stroke-opacity="0.88"/>
<circle cx="914.50" cy="487.40" r="5.15" fill="#fff" fill-opacity="0.9" stroke="#5f5f5f" stroke-width="3.0" stroke-opacity="0.88"/>
<circle cx="922.80" cy="489.10" r="5.15" fill="#fff" fill-opacity="0.9" stroke="#5f5f5f" stroke-width="3.0" stroke-opacity="0.88"/>
<circle cx="893.20" cy="489.10" r="5.15" fill="#fff" fill-opacity="0.9" stroke="#5f5f5f" stroke-width="3.0" stroke-opacity="0.88"/>
<circle cx="900.60" cy="491.50" r="5.15" fill="#fff" fill-opacity="0.9" stroke="#5f5f5f" stroke-width="3.0" stroke-opacity="0.88"/>
<circle cx="908.67" cy="476.18" r="5.15" fill="#fff" fill-opacity="0.9" stroke="#5f5f5f" stroke-width="3.0" stroke-opacity="0.88"/>
<circle cx="906.04" cy="445.80" r="5.15" fill="#fff" fill-opacity="0.9" stroke="#5f5f5f" stroke-width="3.0" stroke-opacity="0.88"/>
<circle cx="909.45" cy="473.18" r="5.15" fill="#fff" fill-opacity="0.9" stroke="#5f5f5f" stroke-width="3.0" stroke-opacity="0.88"/>
<circle cx="907.33" cy="487.87" r="5.15" fill="#fff" fill-opacity="0.9" stroke="#5f5f5f" stroke-width="3.0" stroke-opacity="0.88"/>
<circle cx="915.20" cy="466.00" r="5.15" fill="#fff" fill-opacity="0.9" stroke="#5f5f5f" stroke-width="3.0" stroke-opacity="0.88"/>
<circle cx="901.50" cy="490.50" r="5.15" fill="#fff" fill-opacity="0.9" stroke="#5f5f5f" stroke-width="3.0" stroke-opacity="0.88"/>
<circle cx="915.67" cy="490.58" r="5.15" fill="#fff" fill-opacity="0.9" stroke="#5f5f5f" stroke-width="3.0" stroke-opacity="0.88"/>
<circle cx="894.17" cy="461.97" r="5.15" fill="#fff" fill-opacity="0.9" stroke="#5f5f5f" stroke-width="3.0" stroke-opacity="0.88"/>
<circle cx="920.01" cy="441.38" r="5.15" fill="#fff" fill-opacity="0.9" stroke="#5f5f5f" stroke-width="3.0" stroke-opacity="0.88"/>
<circle cx="910.24" cy="464.50" r="5.15" fill="#fff" fill-opacity="0.9" stroke="#5f5f5f" stroke-width="3.0" stroke-opacity="0.88"/>
<circle cx="893.42" cy="488.75" r="5.15" fill="#fff" fill-opacity="0.9" stroke="#5f5f5f" stroke-width="3.0" stroke-opacity="0.88"/>
<circle cx="894.67" cy="472.03" r="5.15" fill="#fff" fill-opacity="0.9" stroke="#5f5f5f" stroke-width="3.0" stroke-opacity="0.88"/>
<circle cx="899.77" cy="487.69" r="5.15" fill="#fff" fill-opacity="0.9" stroke="#5f5f5f" stroke-width="3.0" stroke-opacity="0.88"/>
<circle cx="905.99" cy="491.73" r="5.15" fill="#fff" fill-opacity="0.9" stroke="#5f5f5f" stroke-width="3.0" stroke-opacity="0.88"/>
<circle cx="985.20" cy="167.10" r="5.15" fill="#fff" fill-opacity="0.9" stroke="#e53a45" stroke-width="3.0" stroke-opacity="0.88"/>
<circle cx="984.40" cy="170.40" r="5.15" fill="#fff" fill-opacity="0.9" stroke="#e53a45" stroke-width="3.0" stroke-opacity="0.88"/>
<circle cx="980.80" cy="233.20" r="5.15" fill="#fff" fill-opacity="0.9" stroke="#e53a45" stroke-width="3.0" stroke-opacity="0.88"/>
<circle cx="985.70" cy="250.50" r="5.15" fill="#fff" fill-opacity="0.9" stroke="#e53a45" stroke-width="3.0" stroke-opacity="0.88"/>
<circle cx="983.90" cy="269.90" r="5.15" fill="#fff" fill-opacity="0.9" stroke="#e53a45" stroke-width="3.0" stroke-opacity="0.88"/>
<circle cx="980.30" cy="322.20" r="5.15" fill="#fff" fill-opacity="0.9" stroke="#e53a45" stroke-width="3.0" stroke-opacity="0.88"/>
<circle cx="986.10" cy="323.00" r="5.15" fill="#fff" fill-opacity="0.9" stroke="#e53a45" stroke-width="3.0" stroke-opacity="0.88"/>
<circle cx="992.60" cy="320.60" r="5.15" fill="#fff" fill-opacity="0.9" stroke="#e53a45" stroke-width="3.0" stroke-opacity="0.88"/>
<circle cx="984.40" cy="325.50" r="5.15" fill="#fff" fill-opacity="0.9" stroke="#e53a45" stroke-width="3.0" stroke-opacity="0.88"/>
<circle cx="993.50" cy="331.20" r="5.15" fill="#fff" fill-opacity="0.9" stroke="#e53a45" stroke-width="3.0" stroke-opacity="0.88"/>
<circle cx="993.50" cy="337.00" r="5.15" fill="#fff" fill-opacity="0.9" stroke="#e53a45" stroke-width="3.0" stroke-opacity="0.88"/>
<circle cx="984.10" cy="342.40" r="5.15" fill="#fff" fill-opacity="0.9" stroke="#e53a45" stroke-width="3.0" stroke-opacity="0.88"/>
<circle cx="982.00" cy="358.40" r="5.15" fill="#fff" fill-opacity="0.9" stroke="#e53a45" stroke-width="3.0" stroke-opacity="0.88"/>
<circle cx="991.80" cy="366.60" r="5.15" fill="#fff" fill-opacity="0.9" stroke="#e53a45" stroke-width="3.0" stroke-opacity="0.88"/>
<circle cx="982.00" cy="370.70" r="5.15" fill="#fff" fill-opacity="0.9" stroke="#e53a45" stroke-width="3.0" stroke-opacity="0.88"/>
<circle cx="991.00" cy="381.40" r="5.15" fill="#fff" fill-opacity="0.9" stroke="#e53a45" stroke-width="3.0" stroke-opacity="0.88"/>
<circle cx="984.40" cy="389.60" r="5.15" fill="#fff" fill-opacity="0.9" stroke="#e53a45" stroke-width="3.0" stroke-opacity="0.88"/>
<circle cx="983.60" cy="397.80" r="5.15" fill="#fff" fill-opacity="0.9" stroke="#e53a45" stroke-width="3.0" stroke-opacity="0.88"/>
<circle cx="986.10" cy="405.20" r="5.15" fill="#fff" fill-opacity="0.9" stroke="#e53a45" stroke-width="3.0" stroke-opacity="0.88"/>
<circle cx="986.10" cy="412.60" r="5.15" fill="#fff" fill-opacity="0.9" stroke="#e53a45" stroke-width="3.0" stroke-opacity="0.88"/>
<circle cx="987.70" cy="422.50" r="5.15" fill="#fff" fill-opacity="0.9" stroke="#e53a45" stroke-width="3.0" stroke-opacity="0.88"/>
<circle cx="977.80" cy="427.40" r="5.15" fill="#fff" fill-opacity="0.9" stroke="#e53a45" stroke-width="3.0" stroke-opacity="0.88"/>
<circle cx="990.20" cy="438.10" r="5.15" fill="#fff" fill-opacity="0.9" stroke="#e53a45" stroke-width="3.0" stroke-opacity="0.88"/>
<circle cx="986.10" cy="443.00" r="5.15" fill="#fff" fill-opacity="0.9" stroke="#e53a45" stroke-width="3.0" stroke-opacity="0.88"/>
<circle cx="983.60" cy="455.40" r="5.15" fill="#fff" fill-opacity="0.9" stroke="#e53a45" stroke-width="3.0" stroke-opacity="0.88"/>
<circle cx="992.60" cy="456.20" r="5.15" fill="#fff" fill-opacity="0.9" stroke="#e53a45" stroke-width="3.0" stroke-opacity="0.88"/>
<circle cx="977.80" cy="463.60" r="5.15" fill="#fff" fill-opacity="0.9" stroke="#e53a45" stroke-width="3.0" stroke-opacity="0.88"/>
<circle cx="986.10" cy="469.40" r="5.15" fill="#fff" fill-opacity="0.9" stroke="#e53a45" stroke-width="3.0" stroke-opacity="0.88"/>
<circle cx="982.80" cy="481.70" r="5.15" fill="#fff" fill-opacity="0.9" stroke="#e53a45" stroke-width="3.0" stroke-opacity="0.88"/>
<circle cx="991.00" cy="485.00" r="5.15" fill="#fff" fill-opacity="0.9" stroke="#e53a45" stroke-width="3.0" stroke-opacity="0.88"/>
<circle cx="975.40" cy="487.40" r="5.15" fill="#fff" fill-opacity="0.9" stroke="#e53a45" stroke-width="3.0" stroke-opacity="0.88"/>
<circle cx="995.10" cy="487.40" r="5.15" fill="#fff" fill-opacity="0.9" stroke="#e53a45" stroke-width="3.0" stroke-opacity="0.88"/>
<circle cx="988.81" cy="413.02" r="5.15" fill="#fff" fill-opacity="0.9" stroke="#e53a45" stroke-width="3.0" stroke-opacity="0.88"/>
<circle cx="977.99" cy="382.71" r="5.15" fill="#fff" fill-opacity="0.9" stroke="#e53a45" stroke-width="3.0" stroke-opacity="0.88"/>
<circle cx="982.87" cy="486.28" r="5.15" fill="#fff" fill-opacity="0.9" stroke="#e53a45" stroke-width="3.0" stroke-opacity="0.88"/>
<circle cx="992.02" cy="444.70" r="5.15" fill="#fff" fill-opacity="0.9" stroke="#e53a45" stroke-width="3.0" stroke-opacity="0.88"/>
<circle cx="987.63" cy="378.89" r="5.15" fill="#fff" fill-opacity="0.9" stroke="#e53a45" stroke-width="3.0" stroke-opacity="0.88"/>
<circle cx="988.89" cy="399.81" r="5.15" fill="#fff" fill-opacity="0.9" stroke="#e53a45" stroke-width="3.0" stroke-opacity="0.88"/>
<circle cx="984.24" cy="465.04" r="5.15" fill="#fff" fill-opacity="0.9" stroke="#e53a45" stroke-width="3.0" stroke-opacity="0.88"/>
<circle cx="994.03" cy="462.36" r="5.15" fill="#fff" fill-opacity="0.9" stroke="#e53a45" stroke-width="3.0" stroke-opacity="0.88"/>
<circle cx="992.20" cy="478.71" r="5.15" fill="#fff" fill-opacity="0.9" stroke="#e53a45" stroke-width="3.0" stroke-opacity="0.88"/>
<circle cx="989.43" cy="476.21" r="5.15" fill="#fff" fill-opacity="0.9" stroke="#e53a45" stroke-width="3.0" stroke-opacity="0.88"/>
<circle cx="983.50" cy="434.75" r="5.15" fill="#fff" fill-opacity="0.9" stroke="#e53a45" stroke-width="3.0" stroke-opacity="0.88"/>
<circle cx="975.39" cy="354.90" r="5.15" fill="#fff" fill-opacity="0.9" stroke="#e53a45" stroke-width="3.0" stroke-opacity="0.88"/>
<circle cx="994.22" cy="478.40" r="5.15" fill="#fff" fill-opacity="0.9" stroke="#e53a45" stroke-width="3.0" stroke-opacity="0.88"/>
<circle cx="976.91" cy="407.59" r="5.15" fill="#fff" fill-opacity="0.9" stroke="#e53a45" stroke-width="3.0" stroke-opacity="0.88"/>
<circle cx="994.88" cy="332.03" r="5.15" fill="#fff" fill-opacity="0.9" stroke="#e53a45" stroke-width="3.0" stroke-opacity="0.88"/>
<circle cx="983.89" cy="470.22" r="5.15" fill="#fff" fill-opacity="0.9" stroke="#e53a45" stroke-width="3.0" stroke-opacity="0.88"/>
<circle cx="981.56" cy="466.66" r="5.15" fill="#fff" fill-opacity="0.9" stroke="#e53a45" stroke-width="3.0" stroke-opacity="0.88"/>
<circle cx="978.43" cy="389.81" r="5.15" fill="#fff" fill-opacity="0.9" stroke="#e53a45" stroke-width="3.0" stroke-opacity="0.88"/>
<circle cx="976.08" cy="377.90" r="5.15" fill="#fff" fill-opacity="0.9" stroke="#e53a45" stroke-width="3.0" stroke-opacity="0.88"/>
<circle cx="992.13" cy="460.95" r="5.15" fill="#fff" fill-opacity="0.9" stroke="#e53a45" stroke-width="3.0" stroke-opacity="0.88"/>
<circle cx="983.80" cy="424.72" r="5.15" fill="#fff" fill-opacity="0.9" stroke="#e53a45" stroke-width="3.0" stroke-opacity="0.88"/>
<circle cx="985.01" cy="393.84" r="5.15" fill="#fff" fill-opacity="0.9" stroke="#e53a45" stroke-width="3.0" stroke-opacity="0.88"/>
<rect x="876.95" y="438.40" width="60.00" height="6.60" fill="#000" stroke="none" stroke-width="0"/>
<rect x="955.45" y="400.60" width="60.00" height="6.60" fill="#000" stroke="none" stroke-width="0"/>
<text x="763.60" y="131.20" font-size="22.4" text-anchor="middle" fill="#000">NS</text>
<text x="984.40" y="131.30" font-size="22.4" text-anchor="middle" fill="#000">5E-3</text>
<text transform="translate(549.70,322.20) rotate(-90)" font-size="31.8" text-anchor="middle" fill="#000">Frequency of</text>
<text transform="translate(587.60,322.20) rotate(-90)" font-size="31.8" text-anchor="middle" fill="#000">G4-Replisomes (norm.)</text>
<rect x="645.90" y="814.50" width="157.30" height="441.70" fill="none" stroke="#000" stroke-width="2.6"/>
<line x1="636.90" y1="1200.99" x2="645.90" y2="1200.99" stroke="#000" stroke-width="2.6"/>
<text transform="translate(625.60,1200.99) rotate(-90)" font-size="27.5" text-anchor="middle" fill="#000">0</text>
<line x1="636.90" y1="1090.56" x2="645.90" y2="1090.56" stroke="#000" stroke-width="2.6"/>
<text transform="translate(625.60,1090.56) rotate(-90)" font-size="27.5" text-anchor="middle" fill="#000">2</text>
<line x1="636.90" y1="980.14" x2="645.90" y2="980.14" stroke="#000" stroke-width="2.6"/>
<text transform="translate(625.60,980.14) rotate(-90)" font-size="27.5" text-anchor="middle" fill="#000">4</text>
<line x1="636.90" y1="869.71" x2="645.90" y2="869.71" stroke="#000" stroke-width="2.6"/>
<text transform="translate(625.60,869.71) rotate(-90)" font-size="27.5" text-anchor="middle" fill="#000">6</text>
<line x1="640.90" y1="1256.20" x2="645.90" y2="1256.20" stroke="#000" stroke-width="2.6"/>
<line x1="640.90" y1="1145.78" x2="645.90" y2="1145.78" stroke="#000" stroke-width="2.6"/>
<line x1="640.90" y1="1035.35" x2="645.90" y2="1035.35" stroke="#000" stroke-width="2.6"/>
<line x1="640.90" y1="924.92" x2="645.90" y2="924.92" stroke="#000" stroke-width="2.6"/>
<line x1="640.90" y1="814.50" x2="645.90" y2="814.50" stroke="#000" stroke-width="2.6"/>
<line x1="685.23" y1="1256.20" x2="685.23" y2="1265.20" stroke="#000" stroke-width="2.6"/>
<text x="685.23" y="1296.50" font-size="31.8" text-anchor="middle" fill="#000">NT</text>
<line x1="763.88" y1="1256.20" x2="763.88" y2="1265.20" stroke="#000" stroke-width="2.6"/>
<text x="763.88" y="1296.50" font-size="31.8" text-anchor="middle" fill="#000">PDS</text>
<text x="724.55" y="798.90" font-size="31.8" font-weight="bold" text-anchor="middle" fill="#000">siCTRL</text>
<rect x="658.43" y="1077.40" width="53.60" height="135.50" fill="none" stroke="#555" stroke-width="2.4"/>
<rect x="737.08" y="1036.60" width="53.60" height="178.30" fill="none" stroke="#555" stroke-width="2.4"/>
<circle cx="682.30" cy="899.10" r="5.60" fill="#4a4a4a" fill-opacity="0.68" stroke="none" stroke-width="0"/>
<circle cx="688.30" cy="954.90" r="5.60" fill="#4a4a4a" fill-opacity="0.68" stroke="none" stroke-width="0"/>
<circle cx="688.30" cy="1003.50" r="5.60" fill="#4a4a4a" fill-opacity="0.68" stroke="none" stroke-width="0"/>
<circle cx="680.40" cy="1040.60" r="5.60" fill="#4a4a4a" fill-opacity="0.68" stroke="none" stroke-width="0"/>
<circle cx="685.40" cy="1050.50" r="5.60" fill="#4a4a4a" fill-opacity="0.68" stroke="none" stroke-width="0"/>
<circle cx="677.60" cy="1060.20" r="5.60" fill="#4a4a4a" fill-opacity="0.68" stroke="none" stroke-width="0"/>
<circle cx="685.40" cy="1064.90" r="5.60" fill="#4a4a4a" fill-opacity="0.68" stroke="none" stroke-width="0"/>
<circle cx="686.20" cy="1069.60" r="5.60" fill="#4a4a4a" fill-opacity="0.68" stroke="none" stroke-width="0"/>
<circle cx="681.50" cy="1072.00" r="5.60" fill="#4a4a4a" fill-opacity="0.68" stroke="none" stroke-width="0"/>
<circle cx="687.50" cy="1088.90" r="5.60" fill="#4a4a4a" fill-opacity="0.68" stroke="none" stroke-width="0"/>
<circle cx="681.80" cy="1101.00" r="5.60" fill="#4a4a4a" fill-opacity="0.68" stroke="none" stroke-width="0"/>
<circle cx="681.50" cy="1112.30" r="5.60" fill="#4a4a4a" fill-opacity="0.68" stroke="none" stroke-width="0"/>
<circle cx="683.60" cy="1127.60" r="5.60" fill="#4a4a4a" fill-opacity="0.68" stroke="none" stroke-width="0"/>
<circle cx="683.90" cy="1130.70" r="5.60" fill="#4a4a4a" fill-opacity="0.68" stroke="none" stroke-width="0"/>
<circle cx="681.10" cy="1135.50" r="5.60" fill="#4a4a4a" fill-opacity="0.68" stroke="none" stroke-width="0"/>
<circle cx="688.60" cy="1140.10" r="5.60" fill="#4a4a4a" fill-opacity="0.68" stroke="none" stroke-width="0"/>
<circle cx="685.40" cy="1151.10" r="5.60" fill="#4a4a4a" fill-opacity="0.68" stroke="none" stroke-width="0"/>
<circle cx="690.10" cy="1149.50" r="5.60" fill="#4a4a4a" fill-opacity="0.68" stroke="none" stroke-width="0"/>
<circle cx="694.10" cy="1160.50" r="5.60" fill="#4a4a4a" fill-opacity="0.68" stroke="none" stroke-width="0"/>
<circle cx="680.00" cy="1165.20" r="5.60" fill="#4a4a4a" fill-opacity="0.68" stroke="none" stroke-width="0"/>
<circle cx="682.30" cy="1168.40" r="5.60" fill="#4a4a4a" fill-opacity="0.68" stroke="none" stroke-width="0"/>
<circle cx="685.40" cy="1166.80" r="5.60" fill="#4a4a4a" fill-opacity="0.68" stroke="none" stroke-width="0"/>
<circle cx="693.30" cy="1173.10" r="5.60" fill="#4a4a4a" fill-opacity="0.68" stroke="none" stroke-width="0"/>
<circle cx="680.00" cy="1174.60" r="5.60" fill="#4a4a4a" fill-opacity="0.68" stroke="none" stroke-width="0"/>
<circle cx="679.20" cy="1177.80" r="5.60" fill="#4a4a4a" fill-opacity="0.68" stroke="none" stroke-width="0"/>
<circle cx="686.25" cy="1197.38" r="5.60" fill="#4a4a4a" fill-opacity="0.68" stroke="none" stroke-width="0"/>
<circle cx="687.27" cy="1195.93" r="5.60" fill="#4a4a4a" fill-opacity="0.68" stroke="none" stroke-width="0"/>
<circle cx="678.11" cy="1193.12" r="5.60" fill="#4a4a4a" fill-opacity="0.68" stroke="none" stroke-width="0"/>
<circle cx="691.24" cy="1199.86" r="5.60" fill="#4a4a4a" fill-opacity="0.68" stroke="none" stroke-width="0"/>
<circle cx="680.98" cy="1197.15" r="5.60" fill="#4a4a4a" fill-opacity="0.68" stroke="none" stroke-width="0"/>
<circle cx="684.99" cy="1189.05" r="5.60" fill="#4a4a4a" fill-opacity="0.68" stroke="none" stroke-width="0"/>
<circle cx="685.10" cy="1190.80" r="5.60" fill="#4a4a4a" fill-opacity="0.68" stroke="none" stroke-width="0"/>
<circle cx="679.56" cy="1192.97" r="5.60" fill="#4a4a4a" fill-opacity="0.68" stroke="none" stroke-width="0"/>
<circle cx="691.76" cy="1193.02" r="5.60" fill="#4a4a4a" fill-opacity="0.68" stroke="none" stroke-width="0"/>
<circle cx="689.60" cy="1194.25" r="5.60" fill="#4a4a4a" fill-opacity="0.68" stroke="none" stroke-width="0"/>
<circle cx="678.09" cy="1192.61" r="5.60" fill="#4a4a4a" fill-opacity="0.68" stroke="none" stroke-width="0"/>
<circle cx="687.05" cy="1191.66" r="5.60" fill="#4a4a4a" fill-opacity="0.68" stroke="none" stroke-width="0"/>
<circle cx="677.53" cy="1196.69" r="5.60" fill="#4a4a4a" fill-opacity="0.68" stroke="none" stroke-width="0"/>
<circle cx="685.04" cy="1190.48" r="5.60" fill="#4a4a4a" fill-opacity="0.68" stroke="none" stroke-width="0"/>
<circle cx="691.94" cy="1192.09" r="5.60" fill="#4a4a4a" fill-opacity="0.68" stroke="none" stroke-width="0"/>
<circle cx="692.66" cy="1192.14" r="5.60" fill="#4a4a4a" fill-opacity="0.68" stroke="none" stroke-width="0"/>
<circle cx="764.30" cy="908.20" r="5.60" fill="#e2222f" fill-opacity="0.68" stroke="none" stroke-width="0"/>
<circle cx="769.80" cy="924.70" r="5.60" fill="#e2222f" fill-opacity="0.68" stroke="none" stroke-width="0"/>
<circle cx="757.90" cy="932.50" r="5.60" fill="#e2222f" fill-opacity="0.68" stroke="none" stroke-width="0"/>
<circle cx="757.00" cy="933.50" r="5.60" fill="#e2222f" fill-opacity="0.68" stroke="none" stroke-width="0"/>
<circle cx="756.30" cy="960.70" r="5.60" fill="#e2222f" fill-opacity="0.68" stroke="none" stroke-width="0"/>
<circle cx="762.20" cy="971.70" r="5.60" fill="#e2222f" fill-opacity="0.68" stroke="none" stroke-width="0"/>
<circle cx="767.30" cy="986.60" r="5.60" fill="#e2222f" fill-opacity="0.68" stroke="none" stroke-width="0"/>
<circle cx="763.80" cy="1038.30" r="5.60" fill="#e2222f" fill-opacity="0.68" stroke="none" stroke-width="0"/>
<circle cx="763.30" cy="1047.70" r="5.60" fill="#e2222f" fill-opacity="0.68" stroke="none" stroke-width="0"/>
<circle cx="752.80" cy="1066.50" r="5.60" fill="#e2222f" fill-opacity="0.68" stroke="none" stroke-width="0"/>
<circle cx="758.60" cy="1076.70" r="5.60" fill="#e2222f" fill-opacity="0.68" stroke="none" stroke-width="0"/>
<circle cx="756.80" cy="1084.50" r="5.60" fill="#e2222f" fill-opacity="0.68" stroke="none" stroke-width="0"/>
<circle cx="765.40" cy="1092.30" r="5.60" fill="#e2222f" fill-opacity="0.68" stroke="none" stroke-width="0"/>
<circle cx="763.80" cy="1093.10" r="5.60" fill="#e2222f" fill-opacity="0.68" stroke="none" stroke-width="0"/>
<circle cx="760.20" cy="1102.50" r="5.60" fill="#e2222f" fill-opacity="0.68" stroke="none" stroke-width="0"/>
<circle cx="763.80" cy="1118.20" r="5.60" fill="#e2222f" fill-opacity="0.68" stroke="none" stroke-width="0"/>
<circle cx="763.00" cy="1127.60" r="5.60" fill="#e2222f" fill-opacity="0.68" stroke="none" stroke-width="0"/>
<circle cx="763.00" cy="1132.30" r="5.60" fill="#e2222f" fill-opacity="0.68" stroke="none" stroke-width="0"/>
<circle cx="759.10" cy="1148.80" r="5.60" fill="#e2222f" fill-opacity="0.68" stroke="none" stroke-width="0"/>
<circle cx="766.90" cy="1151.10" r="5.60" fill="#e2222f" fill-opacity="0.68" stroke="none" stroke-width="0"/>
<circle cx="765.40" cy="1157.40" r="5.60" fill="#e2222f" fill-opacity="0.68" stroke="none" stroke-width="0"/>
<circle cx="770.90" cy="1164.40" r="5.60" fill="#e2222f" fill-opacity="0.68" stroke="none" stroke-width="0"/>
<circle cx="761.50" cy="1171.50" r="5.60" fill="#e2222f" fill-opacity="0.68" stroke="none" stroke-width="0"/>
<circle cx="756.00" cy="1173.10" r="5.60" fill="#e2222f" fill-opacity="0.68" stroke="none" stroke-width="0"/>
<circle cx="752.80" cy="1178.50" r="5.60" fill="#e2222f" fill-opacity="0.68" stroke="none" stroke-width="0"/>
<circle cx="765.40" cy="1180.90" r="5.60" fill="#e2222f" fill-opacity="0.68" stroke="none" stroke-width="0"/>
<circle cx="754.48" cy="1198.70" r="5.60" fill="#e2222f" fill-opacity="0.68" stroke="none" stroke-width="0"/>
<circle cx="755.72" cy="1196.46" r="5.60" fill="#e2222f" fill-opacity="0.68" stroke="none" stroke-width="0"/>
<circle cx="761.64" cy="1201.07" r="5.60" fill="#e2222f" fill-opacity="0.68" stroke="none" stroke-width="0"/>
<circle cx="771.21" cy="1189.15" r="5.60" fill="#e2222f" fill-opacity="0.68" stroke="none" stroke-width="0"/>
<circle cx="757.33" cy="1191.29" r="5.60" fill="#e2222f" fill-opacity="0.68" stroke="none" stroke-width="0"/>
<circle cx="758.64" cy="1194.49" r="5.60" fill="#e2222f" fill-opacity="0.68" stroke="none" stroke-width="0"/>
<circle cx="754.55" cy="1199.58" r="5.60" fill="#e2222f" fill-opacity="0.68" stroke="none" stroke-width="0"/>
<circle cx="774.26" cy="1199.00" r="5.60" fill="#e2222f" fill-opacity="0.68" stroke="none" stroke-width="0"/>
<circle cx="771.36" cy="1190.40" r="5.60" fill="#e2222f" fill-opacity="0.68" stroke="none" stroke-width="0"/>
<circle cx="756.64" cy="1190.79" r="5.60" fill="#e2222f" fill-opacity="0.68" stroke="none" stroke-width="0"/>
<circle cx="767.05" cy="1197.66" r="5.60" fill="#e2222f" fill-opacity="0.68" stroke="none" stroke-width="0"/>
<circle cx="772.51" cy="1191.75" r="5.60" fill="#e2222f" fill-opacity="0.68" stroke="none" stroke-width="0"/>
<circle cx="754.08" cy="1189.68" r="5.60" fill="#e2222f" fill-opacity="0.68" stroke="none" stroke-width="0"/>
<circle cx="768.12" cy="1193.52" r="5.60" fill="#e2222f" fill-opacity="0.68" stroke="none" stroke-width="0"/>
<circle cx="756.27" cy="1194.92" r="5.60" fill="#e2222f" fill-opacity="0.68" stroke="none" stroke-width="0"/>
<circle cx="754.14" cy="1195.37" r="5.60" fill="#e2222f" fill-opacity="0.68" stroke="none" stroke-width="0"/>
<rect x="655.23" y="1142.20" width="60.00" height="6.60" fill="#000" stroke="none" stroke-width="0"/>
<rect x="733.88" y="1122.40" width="60.00" height="6.60" fill="#000" stroke="none" stroke-width="0"/>
<rect x="867.70" y="814.50" width="157.00" height="441.70" fill="none" stroke="#000" stroke-width="2.6"/>
<line x1="858.70" y1="1200.99" x2="867.70" y2="1200.99" stroke="#000" stroke-width="2.6"/>
<text transform="translate(847.40,1200.99) rotate(-90)" font-size="27.5" text-anchor="middle" fill="#000">0</text>
<line x1="858.70" y1="1090.56" x2="867.70" y2="1090.56" stroke="#000" stroke-width="2.6"/>
<text transform="translate(847.40,1090.56) rotate(-90)" font-size="27.5" text-anchor="middle" fill="#000">2</text>
<line x1="858.70" y1="980.14" x2="867.70" y2="980.14" stroke="#000" stroke-width="2.6"/>
<text transform="translate(847.40,980.14) rotate(-90)" font-size="27.5" text-anchor="middle" fill="#000">4</text>
<line x1="858.70" y1="869.71" x2="867.70" y2="869.71" stroke="#000" stroke-width="2.6"/>
<text transform="translate(847.40,869.71) rotate(-90)" font-size="27.5" text-anchor="middle" fill="#000">6</text>
<line x1="862.70" y1="1256.20" x2="867.70" y2="1256.20" stroke="#000" stroke-width="2.6"/>
<line x1="862.70" y1="1145.78" x2="867.70" y2="1145.78" stroke="#000" stroke-width="2.6"/>
<line x1="862.70" y1="1035.35" x2="867.70" y2="1035.35" stroke="#000" stroke-width="2.6"/>
<line x1="862.70" y1="924.92" x2="867.70" y2="924.92" stroke="#000" stroke-width="2.6"/>
<line x1="862.70" y1="814.50" x2="867.70" y2="814.50" stroke="#000" stroke-width="2.6"/>
<line x1="906.95" y1="1256.20" x2="906.95" y2="1265.20" stroke="#000" stroke-width="2.6"/>
<text x="906.95" y="1296.50" font-size="31.8" text-anchor="middle" fill="#000">NT</text>
<line x1="985.45" y1="1256.20" x2="985.45" y2="1265.20" stroke="#000" stroke-width="2.6"/>
<text x="985.45" y="1296.50" font-size="31.8" text-anchor="middle" fill="#000">PDS</text>
<text x="946.20" y="798.90" font-size="31.8" font-weight="bold" text-anchor="middle" fill="#000">siFANCJ</text>
<rect x="880.15" y="1081.40" width="53.60" height="127.50" fill="#888" stroke="#333" stroke-width="2.4"/>
<rect x="958.65" y="1141.60" width="53.60" height="58.60" fill="#888" stroke="#333" stroke-width="2.4"/>
<circle cx="902.10" cy="901.50" r="5.15" fill="#fff" fill-opacity="0.9" stroke="#5f5f5f" stroke-width="3.0" stroke-opacity="0.88"/>
<circle cx="907.00" cy="986.60" r="5.15" fill="#fff" fill-opacity="0.9" stroke="#5f5f5f" stroke-width="3.0" stroke-opacity="0.88"/>
<circle cx="903.90" cy="1027.00" r="5.15" fill="#fff" fill-opacity="0.9" stroke="#5f5f5f" stroke-width="3.0" stroke-opacity="0.88"/>
<circle cx="905.40" cy="1041.40" r="5.15" fill="#fff" fill-opacity="0.9" stroke="#5f5f5f" stroke-width="3.0" stroke-opacity="0.88"/>
<circle cx="900.30" cy="1057.90" r="5.15" fill="#fff" fill-opacity="0.9" stroke="#5f5f5f" stroke-width="3.0" stroke-opacity="0.88"/>
<circle cx="913.60" cy="1062.60" r="5.15" fill="#fff" fill-opacity="0.9" stroke="#5f5f5f" stroke-width="3.0" stroke-opacity="0.88"/>
<circle cx="911.20" cy="1072.00" r="5.15" fill="#fff" fill-opacity="0.9" stroke="#5f5f5f" stroke-width="3.0" stroke-opacity="0.88"/>
<circle cx="905.40" cy="1078.20" r="5.15" fill="#fff" fill-opacity="0.9" stroke="#5f5f5f" stroke-width="3.0" stroke-opacity="0.88"/>
<circle cx="899.80" cy="1095.50" r="5.15" fill="#fff" fill-opacity="0.9" stroke="#5f5f5f" stroke-width="3.0" stroke-opacity="0.88"/>
<circle cx="915.10" cy="1109.60" r="5.15" fill="#fff" fill-opacity="0.9" stroke="#5f5f5f" stroke-width="3.0" stroke-opacity="0.88"/>
<circle cx="901.80" cy="1119.80" r="5.15" fill="#fff" fill-opacity="0.9" stroke="#5f5f5f" stroke-width="3.0" stroke-opacity="0.88"/>
<circle cx="904.20" cy="1126.80" r="5.15" fill="#fff" fill-opacity="0.9" stroke="#5f5f5f" stroke-width="3.0" stroke-opacity="0.88"/>
<circle cx="907.00" cy="1135.50" r="5.15" fill="#fff" fill-opacity="0.9" stroke="#5f5f5f" stroke-width="3.0" stroke-opacity="0.88"/>
<circle cx="900.30" cy="1141.70" r="5.15" fill="#fff" fill-opacity="0.9" stroke="#5f5f5f" stroke-width="3.0" stroke-opacity="0.88"/>
<circle cx="915.10" cy="1149.50" r="5.15" fill="#fff" fill-opacity="0.9" stroke="#5f5f5f" stroke-width="3.0" stroke-opacity="0.88"/>
<circle cx="904.20" cy="1149.50" r="5.15" fill="#fff" fill-opacity="0.9" stroke="#5f5f5f" stroke-width="3.0" stroke-opacity="0.88"/>
<circle cx="905.70" cy="1159.00" r="5.15" fill="#fff" fill-opacity="0.9" stroke="#5f5f5f" stroke-width="3.0" stroke-opacity="0.88"/>
<circle cx="894.80" cy="1167.60" r="5.15" fill="#fff" fill-opacity="0.9" stroke="#5f5f5f" stroke-width="3.0" stroke-opacity="0.88"/>
<circle cx="906.50" cy="1166.80" r="5.15" fill="#fff" fill-opacity="0.9" stroke="#5f5f5f" stroke-width="3.0" stroke-opacity="0.88"/>
<circle cx="905.70" cy="1177.00" r="5.15" fill="#fff" fill-opacity="0.9" stroke="#5f5f5f" stroke-width="3.0" stroke-opacity="0.88"/>
<circle cx="896.30" cy="1183.20" r="5.15" fill="#fff" fill-opacity="0.9" stroke="#5f5f5f" stroke-width="3.0" stroke-opacity="0.88"/>
<circle cx="914.40" cy="1187.20" r="5.15" fill="#fff" fill-opacity="0.9" stroke="#5f5f5f" stroke-width="3.0" stroke-opacity="0.88"/>
<circle cx="897.10" cy="1195.00" r="5.15" fill="#fff" fill-opacity="0.9" stroke="#5f5f5f" stroke-width="3.0" stroke-opacity="0.88"/>
<circle cx="905.00" cy="1191.90" r="5.15" fill="#fff" fill-opacity="0.9" stroke="#5f5f5f" stroke-width="3.0" stroke-opacity="0.88"/>
<circle cx="915.10" cy="1196.60" r="5.15" fill="#fff" fill-opacity="0.9" stroke="#5f5f5f" stroke-width="3.0" stroke-opacity="0.88"/>
<circle cx="902.60" cy="1199.70" r="5.15" fill="#fff" fill-opacity="0.9" stroke="#5f5f5f" stroke-width="3.0" stroke-opacity="0.88"/>
<circle cx="909.39" cy="1184.46" r="5.15" fill="#fff" fill-opacity="0.9" stroke="#5f5f5f" stroke-width="3.0" stroke-opacity="0.88"/>
<circle cx="912.84" cy="1145.06" r="5.15" fill="#fff" fill-opacity="0.9" stroke="#5f5f5f" stroke-width="3.0" stroke-opacity="0.88"/>
<circle cx="899.84" cy="1189.91" r="5.15" fill="#fff" fill-opacity="0.9" stroke="#5f5f5f" stroke-width="3.0" stroke-opacity="0.88"/>
<circle cx="899.73" cy="1192.55" r="5.15" fill="#fff" fill-opacity="0.9" stroke="#5f5f5f" stroke-width="3.0" stroke-opacity="0.88"/>
<circle cx="897.73" cy="1139.79" r="5.15" fill="#fff" fill-opacity="0.9" stroke="#5f5f5f" stroke-width="3.0" stroke-opacity="0.88"/>
<circle cx="899.49" cy="1160.45" r="5.15" fill="#fff" fill-opacity="0.9" stroke="#5f5f5f" stroke-width="3.0" stroke-opacity="0.88"/>
<circle cx="904.06" cy="1181.62" r="5.15" fill="#fff" fill-opacity="0.9" stroke="#5f5f5f" stroke-width="3.0" stroke-opacity="0.88"/>
<circle cx="907.78" cy="1128.51" r="5.15" fill="#fff" fill-opacity="0.9" stroke="#5f5f5f" stroke-width="3.0" stroke-opacity="0.88"/>
<circle cx="900.79" cy="1199.64" r="5.15" fill="#fff" fill-opacity="0.9" stroke="#5f5f5f" stroke-width="3.0" stroke-opacity="0.88"/>
<circle cx="913.30" cy="1192.58" r="5.15" fill="#fff" fill-opacity="0.9" stroke="#5f5f5f" stroke-width="3.0" stroke-opacity="0.88"/>
<circle cx="991.20" cy="1091.60" r="5.15" fill="#fff" fill-opacity="0.9" stroke="#e53a45" stroke-width="3.0" stroke-opacity="0.88"/>
<circle cx="981.00" cy="1109.60" r="5.15" fill="#fff" fill-opacity="0.9" stroke="#e53a45" stroke-width="3.0" stroke-opacity="0.88"/>
<circle cx="980.20" cy="1119.00" r="5.15" fill="#fff" fill-opacity="0.9" stroke="#e53a45" stroke-width="3.0" stroke-opacity="0.88"/>
<circle cx="993.50" cy="1127.60" r="5.15" fill="#fff" fill-opacity="0.9" stroke="#e53a45" stroke-width="3.0" stroke-opacity="0.88"/>
<circle cx="983.30" cy="1126.00" r="5.15" fill="#fff" fill-opacity="0.9" stroke="#e53a45" stroke-width="3.0" stroke-opacity="0.88"/>
<circle cx="975.50" cy="1132.30" r="5.15" fill="#fff" fill-opacity="0.9" stroke="#e53a45" stroke-width="3.0" stroke-opacity="0.88"/>
<circle cx="988.00" cy="1137.00" r="5.15" fill="#fff" fill-opacity="0.9" stroke="#e53a45" stroke-width="3.0" stroke-opacity="0.88"/>
<circle cx="977.80" cy="1140.90" r="5.15" fill="#fff" fill-opacity="0.9" stroke="#e53a45" stroke-width="3.0" stroke-opacity="0.88"/>
<circle cx="988.80" cy="1146.40" r="5.15" fill="#fff" fill-opacity="0.9" stroke="#e53a45" stroke-width="3.0" stroke-opacity="0.88"/>
<circle cx="983.30" cy="1151.90" r="5.15" fill="#fff" fill-opacity="0.9" stroke="#e53a45" stroke-width="3.0" stroke-opacity="0.88"/>
<circle cx="982.50" cy="1162.10" r="5.15" fill="#fff" fill-opacity="0.9" stroke="#e53a45" stroke-width="3.0" stroke-opacity="0.88"/>
<circle cx="984.10" cy="1166.00" r="5.15" fill="#fff" fill-opacity="0.9" stroke="#e53a45" stroke-width="3.0" stroke-opacity="0.88"/>
<circle cx="988.80" cy="1177.80" r="5.15" fill="#fff" fill-opacity="0.9" stroke="#e53a45" stroke-width="3.0" stroke-opacity="0.88"/>
<circle cx="978.60" cy="1180.90" r="5.15" fill="#fff" fill-opacity="0.9" stroke="#e53a45" stroke-width="3.0" stroke-opacity="0.88"/>
<circle cx="990.40" cy="1187.20" r="5.15" fill="#fff" fill-opacity="0.9" stroke="#e53a45" stroke-width="3.0" stroke-opacity="0.88"/>
<circle cx="984.10" cy="1191.10" r="5.15" fill="#fff" fill-opacity="0.9" stroke="#e53a45" stroke-width="3.0" stroke-opacity="0.88"/>
<circle cx="974.70" cy="1195.00" r="5.15" fill="#fff" fill-opacity="0.9" stroke="#e53a45" stroke-width="3.0" stroke-opacity="0.88"/>
<circle cx="983.30" cy="1198.00" r="5.15" fill="#fff" fill-opacity="0.9" stroke="#e53a45" stroke-width="3.0" stroke-opacity="0.88"/>
<circle cx="990.40" cy="1198.00" r="5.15" fill="#fff" fill-opacity="0.9" stroke="#e53a45" stroke-width="3.0" stroke-opacity="0.88"/>
<circle cx="977.80" cy="1199.70" r="5.15" fill="#fff" fill-opacity="0.9" stroke="#e53a45" stroke-width="3.0" stroke-opacity="0.88"/>
<circle cx="987.20" cy="1200.50" r="5.15" fill="#fff" fill-opacity="0.9" stroke="#e53a45" stroke-width="3.0" stroke-opacity="0.88"/>
<circle cx="988.35" cy="1195.90" r="5.15" fill="#fff" fill-opacity="0.9" stroke="#e53a45" stroke-width="3.0" stroke-opacity="0.88"/>
<circle cx="992.87" cy="1156.99" r="5.15" fill="#fff" fill-opacity="0.9" stroke="#e53a45" stroke-width="3.0" stroke-opacity="0.88"/>
<circle cx="979.86" cy="1186.25" r="5.15" fill="#fff" fill-opacity="0.9" stroke="#e53a45" stroke-width="3.0" stroke-opacity="0.88"/>
<circle cx="987.51" cy="1149.82" r="5.15" fill="#fff" fill-opacity="0.9" stroke="#e53a45" stroke-width="3.0" stroke-opacity="0.88"/>
<circle cx="988.00" cy="1184.12" r="5.15" fill="#fff" fill-opacity="0.9" stroke="#e53a45" stroke-width="3.0" stroke-opacity="0.88"/>
<circle cx="989.77" cy="1177.46" r="5.15" fill="#fff" fill-opacity="0.9" stroke="#e53a45" stroke-width="3.0" stroke-opacity="0.88"/>
<circle cx="979.24" cy="1195.32" r="5.15" fill="#fff" fill-opacity="0.9" stroke="#e53a45" stroke-width="3.0" stroke-opacity="0.88"/>
<circle cx="981.80" cy="1134.46" r="5.15" fill="#fff" fill-opacity="0.9" stroke="#e53a45" stroke-width="3.0" stroke-opacity="0.88"/>
<circle cx="990.28" cy="1186.96" r="5.15" fill="#fff" fill-opacity="0.9" stroke="#e53a45" stroke-width="3.0" stroke-opacity="0.88"/>
<circle cx="977.84" cy="1158.72" r="5.15" fill="#fff" fill-opacity="0.9" stroke="#e53a45" stroke-width="3.0" stroke-opacity="0.88"/>
<circle cx="987.62" cy="1165.41" r="5.15" fill="#fff" fill-opacity="0.9" stroke="#e53a45" stroke-width="3.0" stroke-opacity="0.88"/>
<circle cx="987.38" cy="1192.80" r="5.15" fill="#fff" fill-opacity="0.9" stroke="#e53a45" stroke-width="3.0" stroke-opacity="0.88"/>
<rect x="876.95" y="1142.20" width="60.00" height="6.60" fill="#000" stroke="none" stroke-width="0"/>
<rect x="955.45" y="1168.00" width="60.00" height="6.60" fill="#000" stroke="none" stroke-width="0"/>
<text x="763.60" y="877.40" font-size="22.4" text-anchor="middle" fill="#000">NS</text>
<text x="984.40" y="1055.50" font-size="22.4" text-anchor="middle" fill="#000">0.01</text>
<text transform="translate(549.70,1038.50) rotate(-90)" font-size="31.8" text-anchor="middle" fill="#000">EdU Incorporation at</text>
<text transform="translate(587.60,1038.50) rotate(-90)" font-size="31.8" text-anchor="middle" fill="#000">All-Replisomes (norm.)</text>
<rect x="645.90" y="1585.50" width="157.30" height="441.60" fill="none" stroke="#000" stroke-width="2.6"/>
<line x1="636.90" y1="1971.90" x2="645.90" y2="1971.90" stroke="#000" stroke-width="2.6"/>
<text transform="translate(625.60,1971.90) rotate(-90)" font-size="27.5" text-anchor="middle" fill="#000">0</text>
<line x1="636.90" y1="1861.50" x2="645.90" y2="1861.50" stroke="#000" stroke-width="2.6"/>
<text transform="translate(625.60,1861.50) rotate(-90)" font-size="27.5" text-anchor="middle" fill="#000">2</text>
<line x1="636.90" y1="1751.10" x2="645.90" y2="1751.10" stroke="#000" stroke-width="2.6"/>
<text transform="translate(625.60,1751.10) rotate(-90)" font-size="27.5" text-anchor="middle" fill="#000">4</text>
<line x1="636.90" y1="1640.70" x2="645.90" y2="1640.70" stroke="#000" stroke-width="2.6"/>
<text transform="translate(625.60,1640.70) rotate(-90)" font-size="27.5" text-anchor="middle" fill="#000">6</text>
<line x1="640.90" y1="2027.10" x2="645.90" y2="2027.10" stroke="#000" stroke-width="2.6"/>
<line x1="640.90" y1="1916.70" x2="645.90" y2="1916.70" stroke="#000" stroke-width="2.6"/>
<line x1="640.90" y1="1806.30" x2="645.90" y2="1806.30" stroke="#000" stroke-width="2.6"/>
<line x1="640.90" y1="1695.90" x2="645.90" y2="1695.90" stroke="#000" stroke-width="2.6"/>
<line x1="640.90" y1="1585.50" x2="645.90" y2="1585.50" stroke="#000" stroke-width="2.6"/>
<line x1="685.23" y1="2027.10" x2="685.23" y2="2036.10" stroke="#000" stroke-width="2.6"/>
<text x="685.23" y="2067.40" font-size="31.8" text-anchor="middle" fill="#000">NT</text>
<line x1="763.88" y1="2027.10" x2="763.88" y2="2036.10" stroke="#000" stroke-width="2.6"/>
<text x="763.88" y="2067.40" font-size="31.8" text-anchor="middle" fill="#000">PDS</text>
<text x="724.55" y="1570.80" font-size="31.8" font-weight="bold" text-anchor="middle" fill="#000">siCTRL</text>
<rect x="658.43" y="1917.50" width="53.60" height="50.80" fill="none" stroke="#555" stroke-width="2.4"/>
<rect x="737.08" y="1912.10" width="53.60" height="64.00" fill="none" stroke="#555" stroke-width="2.4"/>
<circle cx="678.50" cy="1851.50" r="5.60" fill="#4a4a4a" fill-opacity="0.68" stroke="none" stroke-width="0"/>
<circle cx="687.80" cy="1879.30" r="5.60" fill="#4a4a4a" fill-opacity="0.68" stroke="none" stroke-width="0"/>
<circle cx="681.30" cy="1891.00" r="5.60" fill="#4a4a4a" fill-opacity="0.68" stroke="none" stroke-width="0"/>
<circle cx="690.80" cy="1897.20" r="5.60" fill="#4a4a4a" fill-opacity="0.68" stroke="none" stroke-width="0"/>
<circle cx="692.60" cy="1902.60" r="5.60" fill="#4a4a4a" fill-opacity="0.68" stroke="none" stroke-width="0"/>
<circle cx="680.70" cy="1901.40" r="5.60" fill="#4a4a4a" fill-opacity="0.68" stroke="none" stroke-width="0"/>
<circle cx="690.32" cy="1940.05" r="5.60" fill="#4a4a4a" fill-opacity="0.68" stroke="none" stroke-width="0"/>
<circle cx="694.73" cy="1925.26" r="5.60" fill="#4a4a4a" fill-opacity="0.68" stroke="none" stroke-width="0"/>
<circle cx="694.29" cy="1930.24" r="5.60" fill="#4a4a4a" fill-opacity="0.68" stroke="none" stroke-width="0"/>
<circle cx="684.24" cy="1970.77" r="5.60" fill="#4a4a4a" fill-opacity="0.68" stroke="none" stroke-width="0"/>
<circle cx="688.28" cy="1910.88" r="5.60" fill="#4a4a4a" fill-opacity="0.68" stroke="none" stroke-width="0"/>
<circle cx="676.49" cy="1915.15" r="5.60" fill="#4a4a4a" fill-opacity="0.68" stroke="none" stroke-width="0"/>
<circle cx="679.42" cy="1951.34" r="5.60" fill="#4a4a4a" fill-opacity="0.68" stroke="none" stroke-width="0"/>
<circle cx="686.63" cy="1946.10" r="5.60" fill="#4a4a4a" fill-opacity="0.68" stroke="none" stroke-width="0"/>
<circle cx="678.77" cy="1970.94" r="5.60" fill="#4a4a4a" fill-opacity="0.68" stroke="none" stroke-width="0"/>
<circle cx="694.16" cy="1962.42" r="5.60" fill="#4a4a4a" fill-opacity="0.68" stroke="none" stroke-width="0"/>
<circle cx="677.51" cy="1927.94" r="5.60" fill="#4a4a4a" fill-opacity="0.68" stroke="none" stroke-width="0"/>
<circle cx="677.05" cy="1925.08" r="5.60" fill="#4a4a4a" fill-opacity="0.68" stroke="none" stroke-width="0"/>
<circle cx="676.79" cy="1940.49" r="5.60" fill="#4a4a4a" fill-opacity="0.68" stroke="none" stroke-width="0"/>
<circle cx="693.17" cy="1971.00" r="5.60" fill="#4a4a4a" fill-opacity="0.68" stroke="none" stroke-width="0"/>
<circle cx="678.74" cy="1965.59" r="5.60" fill="#4a4a4a" fill-opacity="0.68" stroke="none" stroke-width="0"/>
<circle cx="693.19" cy="1906.85" r="5.60" fill="#4a4a4a" fill-opacity="0.68" stroke="none" stroke-width="0"/>
<circle cx="695.15" cy="1961.93" r="5.60" fill="#4a4a4a" fill-opacity="0.68" stroke="none" stroke-width="0"/>
<circle cx="688.91" cy="1946.43" r="5.60" fill="#4a4a4a" fill-opacity="0.68" stroke="none" stroke-width="0"/>
<circle cx="694.70" cy="1965.78" r="5.60" fill="#4a4a4a" fill-opacity="0.68" stroke="none" stroke-width="0"/>
<circle cx="695.26" cy="1934.50" r="5.60" fill="#4a4a4a" fill-opacity="0.68" stroke="none" stroke-width="0"/>
<circle cx="680.57" cy="1915.86" r="5.60" fill="#4a4a4a" fill-opacity="0.68" stroke="none" stroke-width="0"/>
<circle cx="677.65" cy="1958.06" r="5.60" fill="#4a4a4a" fill-opacity="0.68" stroke="none" stroke-width="0"/>
<circle cx="675.43" cy="1967.97" r="5.60" fill="#4a4a4a" fill-opacity="0.68" stroke="none" stroke-width="0"/>
<circle cx="687.27" cy="1961.32" r="5.60" fill="#4a4a4a" fill-opacity="0.68" stroke="none" stroke-width="0"/>
<circle cx="688.91" cy="1970.99" r="5.60" fill="#4a4a4a" fill-opacity="0.68" stroke="none" stroke-width="0"/>
<circle cx="680.82" cy="1959.37" r="5.60" fill="#4a4a4a" fill-opacity="0.68" stroke="none" stroke-width="0"/>
<circle cx="684.58" cy="1923.09" r="5.60" fill="#4a4a4a" fill-opacity="0.68" stroke="none" stroke-width="0"/>
<circle cx="684.59" cy="1960.56" r="5.60" fill="#4a4a4a" fill-opacity="0.68" stroke="none" stroke-width="0"/>
<circle cx="675.25" cy="1933.30" r="5.60" fill="#4a4a4a" fill-opacity="0.68" stroke="none" stroke-width="0"/>
<circle cx="674.50" cy="1907.61" r="5.60" fill="#4a4a4a" fill-opacity="0.68" stroke="none" stroke-width="0"/>
<circle cx="692.59" cy="1929.37" r="5.60" fill="#4a4a4a" fill-opacity="0.68" stroke="none" stroke-width="0"/>
<circle cx="691.33" cy="1970.89" r="5.60" fill="#4a4a4a" fill-opacity="0.68" stroke="none" stroke-width="0"/>
<circle cx="686.73" cy="1957.77" r="5.60" fill="#4a4a4a" fill-opacity="0.68" stroke="none" stroke-width="0"/>
<circle cx="675.03" cy="1970.96" r="5.60" fill="#4a4a4a" fill-opacity="0.68" stroke="none" stroke-width="0"/>
<circle cx="695.01" cy="1966.72" r="5.60" fill="#4a4a4a" fill-opacity="0.68" stroke="none" stroke-width="0"/>
<circle cx="690.63" cy="1966.11" r="5.60" fill="#4a4a4a" fill-opacity="0.68" stroke="none" stroke-width="0"/>
<circle cx="694.72" cy="1912.27" r="5.60" fill="#4a4a4a" fill-opacity="0.68" stroke="none" stroke-width="0"/>
<circle cx="681.81" cy="1959.01" r="5.60" fill="#4a4a4a" fill-opacity="0.68" stroke="none" stroke-width="0"/>
<circle cx="691.06" cy="1947.48" r="5.60" fill="#4a4a4a" fill-opacity="0.68" stroke="none" stroke-width="0"/>
<circle cx="690.46" cy="1969.12" r="5.60" fill="#4a4a4a" fill-opacity="0.68" stroke="none" stroke-width="0"/>
<circle cx="692.91" cy="1925.07" r="5.60" fill="#4a4a4a" fill-opacity="0.68" stroke="none" stroke-width="0"/>
<circle cx="694.81" cy="1970.67" r="5.60" fill="#4a4a4a" fill-opacity="0.68" stroke="none" stroke-width="0"/>
<circle cx="681.50" cy="1969.57" r="5.60" fill="#4a4a4a" fill-opacity="0.68" stroke="none" stroke-width="0"/>
<circle cx="694.20" cy="1941.01" r="5.60" fill="#4a4a4a" fill-opacity="0.68" stroke="none" stroke-width="0"/>
<circle cx="694.33" cy="1959.26" r="5.60" fill="#4a4a4a" fill-opacity="0.68" stroke="none" stroke-width="0"/>
<circle cx="680.87" cy="1946.00" r="5.60" fill="#4a4a4a" fill-opacity="0.68" stroke="none" stroke-width="0"/>
<circle cx="677.90" cy="1960.51" r="5.60" fill="#4a4a4a" fill-opacity="0.68" stroke="none" stroke-width="0"/>
<circle cx="677.28" cy="1969.88" r="5.60" fill="#4a4a4a" fill-opacity="0.68" stroke="none" stroke-width="0"/>
<circle cx="695.93" cy="1934.62" r="5.60" fill="#4a4a4a" fill-opacity="0.68" stroke="none" stroke-width="0"/>
<circle cx="675.07" cy="1967.43" r="5.60" fill="#4a4a4a" fill-opacity="0.68" stroke="none" stroke-width="0"/>
<circle cx="685.74" cy="1906.40" r="5.60" fill="#4a4a4a" fill-opacity="0.68" stroke="none" stroke-width="0"/>
<circle cx="679.22" cy="1955.40" r="5.60" fill="#4a4a4a" fill-opacity="0.68" stroke="none" stroke-width="0"/>
<circle cx="692.18" cy="1942.32" r="5.60" fill="#4a4a4a" fill-opacity="0.68" stroke="none" stroke-width="0"/>
<circle cx="683.28" cy="1952.23" r="5.60" fill="#4a4a4a" fill-opacity="0.68" stroke="none" stroke-width="0"/>
<circle cx="694.15" cy="1970.35" r="5.60" fill="#4a4a4a" fill-opacity="0.68" stroke="none" stroke-width="0"/>
<circle cx="684.86" cy="1970.72" r="5.60" fill="#4a4a4a" fill-opacity="0.68" stroke="none" stroke-width="0"/>
<circle cx="676.87" cy="1921.22" r="5.60" fill="#4a4a4a" fill-opacity="0.68" stroke="none" stroke-width="0"/>
<circle cx="694.90" cy="1930.96" r="5.60" fill="#4a4a4a" fill-opacity="0.68" stroke="none" stroke-width="0"/>
<circle cx="691.34" cy="1939.46" r="5.60" fill="#4a4a4a" fill-opacity="0.68" stroke="none" stroke-width="0"/>
<circle cx="683.56" cy="1969.16" r="5.60" fill="#4a4a4a" fill-opacity="0.68" stroke="none" stroke-width="0"/>
<circle cx="692.58" cy="1967.85" r="5.60" fill="#4a4a4a" fill-opacity="0.68" stroke="none" stroke-width="0"/>
<circle cx="683.97" cy="1961.65" r="5.60" fill="#4a4a4a" fill-opacity="0.68" stroke="none" stroke-width="0"/>
<circle cx="692.75" cy="1905.07" r="5.60" fill="#4a4a4a" fill-opacity="0.68" stroke="none" stroke-width="0"/>
<circle cx="683.98" cy="1907.52" r="5.60" fill="#4a4a4a" fill-opacity="0.68" stroke="none" stroke-width="0"/>
<circle cx="690.05" cy="1950.05" r="5.60" fill="#4a4a4a" fill-opacity="0.68" stroke="none" stroke-width="0"/>
<circle cx="680.40" cy="1950.67" r="5.60" fill="#4a4a4a" fill-opacity="0.68" stroke="none" stroke-width="0"/>
<circle cx="677.22" cy="1955.53" r="5.60" fill="#4a4a4a" fill-opacity="0.68" stroke="none" stroke-width="0"/>
<circle cx="695.74" cy="1957.14" r="5.60" fill="#4a4a4a" fill-opacity="0.68" stroke="none" stroke-width="0"/>
<circle cx="687.79" cy="1909.19" r="5.60" fill="#4a4a4a" fill-opacity="0.68" stroke="none" stroke-width="0"/>
<circle cx="681.45" cy="1949.28" r="5.60" fill="#4a4a4a" fill-opacity="0.68" stroke="none" stroke-width="0"/>
<circle cx="765.00" cy="1819.50" r="5.60" fill="#e2222f" fill-opacity="0.68" stroke="none" stroke-width="0"/>
<circle cx="758.40" cy="1830.80" r="5.60" fill="#e2222f" fill-opacity="0.68" stroke="none" stroke-width="0"/>
<circle cx="757.80" cy="1853.50" r="5.60" fill="#e2222f" fill-opacity="0.68" stroke="none" stroke-width="0"/>
<circle cx="765.30" cy="1885.20" r="5.60" fill="#e2222f" fill-opacity="0.68" stroke="none" stroke-width="0"/>
<circle cx="773.37" cy="1916.07" r="5.60" fill="#e2222f" fill-opacity="0.68" stroke="none" stroke-width="0"/>
<circle cx="758.80" cy="1946.55" r="5.60" fill="#e2222f" fill-opacity="0.68" stroke="none" stroke-width="0"/>
<circle cx="769.23" cy="1972.00" r="5.60" fill="#e2222f" fill-opacity="0.68" stroke="none" stroke-width="0"/>
<circle cx="771.75" cy="1947.78" r="5.60" fill="#e2222f" fill-opacity="0.68" stroke="none" stroke-width="0"/>
<circle cx="772.02" cy="1955.27" r="5.60" fill="#e2222f" fill-opacity="0.68" stroke="none" stroke-width="0"/>
<circle cx="772.85" cy="1961.87" r="5.60" fill="#e2222f" fill-opacity="0.68" stroke="none" stroke-width="0"/>
<circle cx="762.76" cy="1923.06" r="5.60" fill="#e2222f" fill-opacity="0.68" stroke="none" stroke-width="0"/>
<circle cx="769.73" cy="1941.93" r="5.60" fill="#e2222f" fill-opacity="0.68" stroke="none" stroke-width="0"/>
<circle cx="766.39" cy="1966.17" r="5.60" fill="#e2222f" fill-opacity="0.68" stroke="none" stroke-width="0"/>
<circle cx="758.90" cy="1914.74" r="5.60" fill="#e2222f" fill-opacity="0.68" stroke="none" stroke-width="0"/>
<circle cx="769.83" cy="1914.94" r="5.60" fill="#e2222f" fill-opacity="0.68" stroke="none" stroke-width="0"/>
<circle cx="760.73" cy="1910.22" r="5.60" fill="#e2222f" fill-opacity="0.68" stroke="none" stroke-width="0"/>
<circle cx="772.81" cy="1970.18" r="5.60" fill="#e2222f" fill-opacity="0.68" stroke="none" stroke-width="0"/>
<circle cx="763.58" cy="1914.78" r="5.60" fill="#e2222f" fill-opacity="0.68" stroke="none" stroke-width="0"/>
<circle cx="757.13" cy="1970.16" r="5.60" fill="#e2222f" fill-opacity="0.68" stroke="none" stroke-width="0"/>
<circle cx="759.57" cy="1932.84" r="5.60" fill="#e2222f" fill-opacity="0.68" stroke="none" stroke-width="0"/>
<circle cx="767.30" cy="1897.21" r="5.60" fill="#e2222f" fill-opacity="0.68" stroke="none" stroke-width="0"/>
<circle cx="769.04" cy="1965.79" r="5.60" fill="#e2222f" fill-opacity="0.68" stroke="none" stroke-width="0"/>
<circle cx="776.25" cy="1956.18" r="5.60" fill="#e2222f" fill-opacity="0.68" stroke="none" stroke-width="0"/>
<circle cx="765.38" cy="1902.41" r="5.60" fill="#e2222f" fill-opacity="0.68" stroke="none" stroke-width="0"/>
<circle cx="770.15" cy="1931.88" r="5.60" fill="#e2222f" fill-opacity="0.68" stroke="none" stroke-width="0"/>
<circle cx="777.39" cy="1914.69" r="5.60" fill="#e2222f" fill-opacity="0.68" stroke="none" stroke-width="0"/>
<circle cx="761.40" cy="1971.73" r="5.60" fill="#e2222f" fill-opacity="0.68" stroke="none" stroke-width="0"/>
<circle cx="759.91" cy="1936.06" r="5.60" fill="#e2222f" fill-opacity="0.68" stroke="none" stroke-width="0"/>
<circle cx="754.33" cy="1937.26" r="5.60" fill="#e2222f" fill-opacity="0.68" stroke="none" stroke-width="0"/>
<circle cx="765.66" cy="1905.97" r="5.60" fill="#e2222f" fill-opacity="0.68" stroke="none" stroke-width="0"/>
<circle cx="769.23" cy="1969.39" r="5.60" fill="#e2222f" fill-opacity="0.68" stroke="none" stroke-width="0"/>
<circle cx="757.10" cy="1959.42" r="5.60" fill="#e2222f" fill-opacity="0.68" stroke="none" stroke-width="0"/>
<circle cx="755.59" cy="1946.66" r="5.60" fill="#e2222f" fill-opacity="0.68" stroke="none" stroke-width="0"/>
<circle cx="774.50" cy="1965.34" r="5.60" fill="#e2222f" fill-opacity="0.68" stroke="none" stroke-width="0"/>
<circle cx="752.33" cy="1926.41" r="5.60" fill="#e2222f" fill-opacity="0.68" stroke="none" stroke-width="0"/>
<circle cx="752.44" cy="1917.79" r="5.60" fill="#e2222f" fill-opacity="0.68" stroke="none" stroke-width="0"/>
<circle cx="775.52" cy="1958.06" r="5.60" fill="#e2222f" fill-opacity="0.68" stroke="none" stroke-width="0"/>
<circle cx="759.96" cy="1934.28" r="5.60" fill="#e2222f" fill-opacity="0.68" stroke="none" stroke-width="0"/>
<circle cx="762.12" cy="1954.96" r="5.60" fill="#e2222f" fill-opacity="0.68" stroke="none" stroke-width="0"/>
<circle cx="778.00" cy="1969.02" r="5.60" fill="#e2222f" fill-opacity="0.68" stroke="none" stroke-width="0"/>
<circle cx="763.00" cy="1971.24" r="5.60" fill="#e2222f" fill-opacity="0.68" stroke="none" stroke-width="0"/>
<circle cx="762.34" cy="1921.28" r="5.60" fill="#e2222f" fill-opacity="0.68" stroke="none" stroke-width="0"/>
<circle cx="758.38" cy="1893.45" r="5.60" fill="#e2222f" fill-opacity="0.68" stroke="none" stroke-width="0"/>
<circle cx="775.20" cy="1893.67" r="5.60" fill="#e2222f" fill-opacity="0.68" stroke="none" stroke-width="0"/>
<circle cx="775.13" cy="1929.30" r="5.60" fill="#e2222f" fill-opacity="0.68" stroke="none" stroke-width="0"/>
<circle cx="773.61" cy="1949.65" r="5.60" fill="#e2222f" fill-opacity="0.68" stroke="none" stroke-width="0"/>
<circle cx="765.43" cy="1915.76" r="5.60" fill="#e2222f" fill-opacity="0.68" stroke="none" stroke-width="0"/>
<circle cx="770.35" cy="1947.72" r="5.60" fill="#e2222f" fill-opacity="0.68" stroke="none" stroke-width="0"/>
<circle cx="754.23" cy="1952.62" r="5.60" fill="#e2222f" fill-opacity="0.68" stroke="none" stroke-width="0"/>
<circle cx="758.91" cy="1921.26" r="5.60" fill="#e2222f" fill-opacity="0.68" stroke="none" stroke-width="0"/>
<circle cx="772.38" cy="1946.33" r="5.60" fill="#e2222f" fill-opacity="0.68" stroke="none" stroke-width="0"/>
<circle cx="752.57" cy="1967.15" r="5.60" fill="#e2222f" fill-opacity="0.68" stroke="none" stroke-width="0"/>
<circle cx="767.32" cy="1969.15" r="5.60" fill="#e2222f" fill-opacity="0.68" stroke="none" stroke-width="0"/>
<circle cx="758.66" cy="1956.13" r="5.60" fill="#e2222f" fill-opacity="0.68" stroke="none" stroke-width="0"/>
<circle cx="776.12" cy="1949.30" r="5.60" fill="#e2222f" fill-opacity="0.68" stroke="none" stroke-width="0"/>
<circle cx="762.67" cy="1962.92" r="5.60" fill="#e2222f" fill-opacity="0.68" stroke="none" stroke-width="0"/>
<circle cx="767.92" cy="1906.07" r="5.60" fill="#e2222f" fill-opacity="0.68" stroke="none" stroke-width="0"/>
<circle cx="764.34" cy="1962.15" r="5.60" fill="#e2222f" fill-opacity="0.68" stroke="none" stroke-width="0"/>
<circle cx="755.70" cy="1947.09" r="5.60" fill="#e2222f" fill-opacity="0.68" stroke="none" stroke-width="0"/>
<circle cx="759.95" cy="1954.96" r="5.60" fill="#e2222f" fill-opacity="0.68" stroke="none" stroke-width="0"/>
<circle cx="760.41" cy="1914.78" r="5.60" fill="#e2222f" fill-opacity="0.68" stroke="none" stroke-width="0"/>
<circle cx="777.24" cy="1930.41" r="5.60" fill="#e2222f" fill-opacity="0.68" stroke="none" stroke-width="0"/>
<circle cx="761.78" cy="1900.74" r="5.60" fill="#e2222f" fill-opacity="0.68" stroke="none" stroke-width="0"/>
<circle cx="760.32" cy="1935.94" r="5.60" fill="#e2222f" fill-opacity="0.68" stroke="none" stroke-width="0"/>
<circle cx="764.69" cy="1953.43" r="5.60" fill="#e2222f" fill-opacity="0.68" stroke="none" stroke-width="0"/>
<circle cx="776.35" cy="1916.06" r="5.60" fill="#e2222f" fill-opacity="0.68" stroke="none" stroke-width="0"/>
<circle cx="752.16" cy="1960.77" r="5.60" fill="#e2222f" fill-opacity="0.68" stroke="none" stroke-width="0"/>
<circle cx="753.48" cy="1949.48" r="5.60" fill="#e2222f" fill-opacity="0.68" stroke="none" stroke-width="0"/>
<circle cx="772.11" cy="1971.70" r="5.60" fill="#e2222f" fill-opacity="0.68" stroke="none" stroke-width="0"/>
<circle cx="770.68" cy="1969.56" r="5.60" fill="#e2222f" fill-opacity="0.68" stroke="none" stroke-width="0"/>
<circle cx="776.40" cy="1956.06" r="5.60" fill="#e2222f" fill-opacity="0.68" stroke="none" stroke-width="0"/>
<circle cx="753.62" cy="1909.14" r="5.60" fill="#e2222f" fill-opacity="0.68" stroke="none" stroke-width="0"/>
<circle cx="776.63" cy="1966.19" r="5.60" fill="#e2222f" fill-opacity="0.68" stroke="none" stroke-width="0"/>
<circle cx="762.97" cy="1934.94" r="5.60" fill="#e2222f" fill-opacity="0.68" stroke="none" stroke-width="0"/>
<rect x="655.23" y="1939.60" width="60.00" height="6.60" fill="#000" stroke="none" stroke-width="0"/>
<rect x="733.88" y="1940.80" width="60.00" height="6.60" fill="#000" stroke="none" stroke-width="0"/>
<rect x="867.70" y="1585.50" width="157.00" height="441.60" fill="none" stroke="#000" stroke-width="2.6"/>
<line x1="858.70" y1="1971.90" x2="867.70" y2="1971.90" stroke="#000" stroke-width="2.6"/>
<text transform="translate(847.40,1971.90) rotate(-90)" font-size="27.5" text-anchor="middle" fill="#000">0</text>
<line x1="858.70" y1="1861.50" x2="867.70" y2="1861.50" stroke="#000" stroke-width="2.6"/>
<text transform="translate(847.40,1861.50) rotate(-90)" font-size="27.5" text-anchor="middle" fill="#000">2</text>
<line x1="858.70" y1="1751.10" x2="867.70" y2="1751.10" stroke="#000" stroke-width="2.6"/>
<text transform="translate(847.40,1751.10) rotate(-90)" font-size="27.5" text-anchor="middle" fill="#000">4</text>
<line x1="858.70" y1="1640.70" x2="867.70" y2="1640.70" stroke="#000" stroke-width="2.6"/>
<text transform="translate(847.40,1640.70) rotate(-90)" font-size="27.5" text-anchor="middle" fill="#000">6</text>
<line x1="862.70" y1="2027.10" x2="867.70" y2="2027.10" stroke="#000" stroke-width="2.6"/>
<line x1="862.70" y1="1916.70" x2="867.70" y2="1916.70" stroke="#000" stroke-width="2.6"/>
<line x1="862.70" y1="1806.30" x2="867.70" y2="1806.30" stroke="#000" stroke-width="2.6"/>
<line x1="862.70" y1="1695.90" x2="867.70" y2="1695.90" stroke="#000" stroke-width="2.6"/>
<line x1="862.70" y1="1585.50" x2="867.70" y2="1585.50" stroke="#000" stroke-width="2.6"/>
<line x1="906.95" y1="2027.10" x2="906.95" y2="2036.10" stroke="#000" stroke-width="2.6"/>
<text x="906.95" y="2067.40" font-size="31.8" text-anchor="middle" fill="#000">NT</text>
<line x1="985.45" y1="2027.10" x2="985.45" y2="2036.10" stroke="#000" stroke-width="2.6"/>
<text x="985.45" y="2067.40" font-size="31.8" text-anchor="middle" fill="#000">PDS</text>
<text x="946.20" y="1570.80" font-size="31.8" font-weight="bold" text-anchor="middle" fill="#000">siFANCJ</text>
<rect x="880.15" y="1887.00" width="53.60" height="95.10" fill="#888" stroke="#333" stroke-width="2.4"/>
<rect x="958.65" y="1899.20" width="53.60" height="72.10" fill="#888" stroke="#333" stroke-width="2.4"/>
<circle cx="900.20" cy="1774.00" r="5.15" fill="#fff" fill-opacity="0.9" stroke="#5f5f5f" stroke-width="3.0" stroke-opacity="0.88"/>
<circle cx="914.80" cy="1774.00" r="5.15" fill="#fff" fill-opacity="0.9" stroke="#5f5f5f" stroke-width="3.0" stroke-opacity="0.88"/>
<circle cx="915.20" cy="1797.30" r="5.15" fill="#fff" fill-opacity="0.9" stroke="#5f5f5f" stroke-width="3.0" stroke-opacity="0.88"/>
<circle cx="900.90" cy="1819.20" r="5.15" fill="#fff" fill-opacity="0.9" stroke="#5f5f5f" stroke-width="3.0" stroke-opacity="0.88"/>
<circle cx="911.60" cy="1820.70" r="5.15" fill="#fff" fill-opacity="0.9" stroke="#5f5f5f" stroke-width="3.0" stroke-opacity="0.88"/>
<circle cx="912.80" cy="1826.00" r="5.15" fill="#fff" fill-opacity="0.9" stroke="#5f5f5f" stroke-width="3.0" stroke-opacity="0.88"/>
<circle cx="902.70" cy="1882.20" r="5.15" fill="#fff" fill-opacity="0.9" stroke="#5f5f5f" stroke-width="3.0" stroke-opacity="0.88"/>
<circle cx="909.80" cy="1890.60" r="5.15" fill="#fff" fill-opacity="0.9" stroke="#5f5f5f" stroke-width="3.0" stroke-opacity="0.88"/>
<circle cx="902.70" cy="1908.00" r="5.15" fill="#fff" fill-opacity="0.9" stroke="#5f5f5f" stroke-width="3.0" stroke-opacity="0.88"/>
<circle cx="894.90" cy="1913.30" r="5.15" fill="#fff" fill-opacity="0.9" stroke="#5f5f5f" stroke-width="3.0" stroke-opacity="0.88"/>
<circle cx="908.60" cy="1916.90" r="5.15" fill="#fff" fill-opacity="0.9" stroke="#5f5f5f" stroke-width="3.0" stroke-opacity="0.88"/>
<circle cx="904.50" cy="1921.10" r="5.15" fill="#fff" fill-opacity="0.9" stroke="#5f5f5f" stroke-width="3.0" stroke-opacity="0.88"/>
<circle cx="897.30" cy="1922.30" r="5.15" fill="#fff" fill-opacity="0.9" stroke="#5f5f5f" stroke-width="3.0" stroke-opacity="0.88"/>
<circle cx="898.87" cy="1960.69" r="5.15" fill="#fff" fill-opacity="0.9" stroke="#5f5f5f" stroke-width="3.0" stroke-opacity="0.88"/>
<circle cx="897.38" cy="1948.26" r="5.15" fill="#fff" fill-opacity="0.9" stroke="#5f5f5f" stroke-width="3.0" stroke-opacity="0.88"/>
<circle cx="902.95" cy="1952.64" r="5.15" fill="#fff" fill-opacity="0.9" stroke="#5f5f5f" stroke-width="3.0" stroke-opacity="0.88"/>
<circle cx="905.64" cy="1970.80" r="5.15" fill="#fff" fill-opacity="0.9" stroke="#5f5f5f" stroke-width="3.0" stroke-opacity="0.88"/>
<circle cx="904.24" cy="1971.58" r="5.15" fill="#fff" fill-opacity="0.9" stroke="#5f5f5f" stroke-width="3.0" stroke-opacity="0.88"/>
<circle cx="897.72" cy="1970.35" r="5.15" fill="#fff" fill-opacity="0.9" stroke="#5f5f5f" stroke-width="3.0" stroke-opacity="0.88"/>
<circle cx="911.71" cy="1956.87" r="5.15" fill="#fff" fill-opacity="0.9" stroke="#5f5f5f" stroke-width="3.0" stroke-opacity="0.88"/>
<circle cx="900.24" cy="1968.30" r="5.15" fill="#fff" fill-opacity="0.9" stroke="#5f5f5f" stroke-width="3.0" stroke-opacity="0.88"/>
<circle cx="914.01" cy="1949.16" r="5.15" fill="#fff" fill-opacity="0.9" stroke="#5f5f5f" stroke-width="3.0" stroke-opacity="0.88"/>
<circle cx="903.54" cy="1951.07" r="5.15" fill="#fff" fill-opacity="0.9" stroke="#5f5f5f" stroke-width="3.0" stroke-opacity="0.88"/>
<circle cx="896.89" cy="1935.90" r="5.15" fill="#fff" fill-opacity="0.9" stroke="#5f5f5f" stroke-width="3.0" stroke-opacity="0.88"/>
<circle cx="901.50" cy="1940.38" r="5.15" fill="#fff" fill-opacity="0.9" stroke="#5f5f5f" stroke-width="3.0" stroke-opacity="0.88"/>
<circle cx="898.24" cy="1967.52" r="5.15" fill="#fff" fill-opacity="0.9" stroke="#5f5f5f" stroke-width="3.0" stroke-opacity="0.88"/>
<circle cx="911.51" cy="1961.28" r="5.15" fill="#fff" fill-opacity="0.9" stroke="#5f5f5f" stroke-width="3.0" stroke-opacity="0.88"/>
<circle cx="907.05" cy="1966.13" r="5.15" fill="#fff" fill-opacity="0.9" stroke="#5f5f5f" stroke-width="3.0" stroke-opacity="0.88"/>
<circle cx="903.08" cy="1948.72" r="5.15" fill="#fff" fill-opacity="0.9" stroke="#5f5f5f" stroke-width="3.0" stroke-opacity="0.88"/>
<circle cx="894.26" cy="1907.33" r="5.15" fill="#fff" fill-opacity="0.9" stroke="#5f5f5f" stroke-width="3.0" stroke-opacity="0.88"/>
<circle cx="897.48" cy="1922.69" r="5.15" fill="#fff" fill-opacity="0.9" stroke="#5f5f5f" stroke-width="3.0" stroke-opacity="0.88"/>
<circle cx="894.37" cy="1905.92" r="5.15" fill="#fff" fill-opacity="0.9" stroke="#5f5f5f" stroke-width="3.0" stroke-opacity="0.88"/>
<circle cx="908.99" cy="1913.07" r="5.15" fill="#fff" fill-opacity="0.9" stroke="#5f5f5f" stroke-width="3.0" stroke-opacity="0.88"/>
<circle cx="916.00" cy="1914.56" r="5.15" fill="#fff" fill-opacity="0.9" stroke="#5f5f5f" stroke-width="3.0" stroke-opacity="0.88"/>
<circle cx="901.44" cy="1955.94" r="5.15" fill="#fff" fill-opacity="0.9" stroke="#5f5f5f" stroke-width="3.0" stroke-opacity="0.88"/>
<circle cx="900.17" cy="1924.55" r="5.15" fill="#fff" fill-opacity="0.9" stroke="#5f5f5f" stroke-width="3.0" stroke-opacity="0.88"/>
<circle cx="899.03" cy="1954.36" r="5.15" fill="#fff" fill-opacity="0.9" stroke="#5f5f5f" stroke-width="3.0" stroke-opacity="0.88"/>
<circle cx="983.40" cy="1819.50" r="5.15" fill="#fff" fill-opacity="0.9" stroke="#e53a45" stroke-width="3.0" stroke-opacity="0.88"/>
<circle cx="991.20" cy="1854.70" r="5.15" fill="#fff" fill-opacity="0.9" stroke="#e53a45" stroke-width="3.0" stroke-opacity="0.88"/>
<circle cx="987.60" cy="1858.90" r="5.15" fill="#fff" fill-opacity="0.9" stroke="#e53a45" stroke-width="3.0" stroke-opacity="0.88"/>
<circle cx="979.20" cy="1867.30" r="5.15" fill="#fff" fill-opacity="0.9" stroke="#e53a45" stroke-width="3.0" stroke-opacity="0.88"/>
<circle cx="985.80" cy="1875.10" r="5.15" fill="#fff" fill-opacity="0.9" stroke="#e53a45" stroke-width="3.0" stroke-opacity="0.88"/>
<circle cx="987.00" cy="1881.60" r="5.15" fill="#fff" fill-opacity="0.9" stroke="#e53a45" stroke-width="3.0" stroke-opacity="0.88"/>
<circle cx="982.80" cy="1891.80" r="5.15" fill="#fff" fill-opacity="0.9" stroke="#e53a45" stroke-width="3.0" stroke-opacity="0.88"/>
<circle cx="978.00" cy="1899.00" r="5.15" fill="#fff" fill-opacity="0.9" stroke="#e53a45" stroke-width="3.0" stroke-opacity="0.88"/>
<circle cx="990.60" cy="1908.50" r="5.15" fill="#fff" fill-opacity="0.9" stroke="#e53a45" stroke-width="3.0" stroke-opacity="0.88"/>
<circle cx="982.20" cy="1912.70" r="5.15" fill="#fff" fill-opacity="0.9" stroke="#e53a45" stroke-width="3.0" stroke-opacity="0.88"/>
<circle cx="984.00" cy="1922.30" r="5.15" fill="#fff" fill-opacity="0.9" stroke="#e53a45" stroke-width="3.0" stroke-opacity="0.88"/>
<circle cx="978.60" cy="1930.70" r="5.15" fill="#fff" fill-opacity="0.9" stroke="#e53a45" stroke-width="3.0" stroke-opacity="0.88"/>
<circle cx="994.10" cy="1933.10" r="5.15" fill="#fff" fill-opacity="0.9" stroke="#e53a45" stroke-width="3.0" stroke-opacity="0.88"/>
<circle cx="982.80" cy="1946.20" r="5.15" fill="#fff" fill-opacity="0.9" stroke="#e53a45" stroke-width="3.0" stroke-opacity="0.88"/>
<circle cx="998.06" cy="1967.79" r="5.15" fill="#fff" fill-opacity="0.9" stroke="#e53a45" stroke-width="3.0" stroke-opacity="0.88"/>
<circle cx="991.62" cy="1970.09" r="5.15" fill="#fff" fill-opacity="0.9" stroke="#e53a45" stroke-width="3.0" stroke-opacity="0.88"/>
<circle cx="980.19" cy="1971.04" r="5.15" fill="#fff" fill-opacity="0.9" stroke="#e53a45" stroke-width="3.0" stroke-opacity="0.88"/>
<circle cx="979.23" cy="1950.02" r="5.15" fill="#fff" fill-opacity="0.9" stroke="#e53a45" stroke-width="3.0" stroke-opacity="0.88"/>
<circle cx="985.48" cy="1958.24" r="5.15" fill="#fff" fill-opacity="0.9" stroke="#e53a45" stroke-width="3.0" stroke-opacity="0.88"/>
<circle cx="986.37" cy="1962.58" r="5.15" fill="#fff" fill-opacity="0.9" stroke="#e53a45" stroke-width="3.0" stroke-opacity="0.88"/>
<circle cx="994.76" cy="1968.58" r="5.15" fill="#fff" fill-opacity="0.9" stroke="#e53a45" stroke-width="3.0" stroke-opacity="0.88"/>
<circle cx="979.85" cy="1970.94" r="5.15" fill="#fff" fill-opacity="0.9" stroke="#e53a45" stroke-width="3.0" stroke-opacity="0.88"/>
<circle cx="980.67" cy="1972.54" r="5.15" fill="#fff" fill-opacity="0.9" stroke="#e53a45" stroke-width="3.0" stroke-opacity="0.88"/>
<circle cx="996.55" cy="1963.62" r="5.15" fill="#fff" fill-opacity="0.9" stroke="#e53a45" stroke-width="3.0" stroke-opacity="0.88"/>
<circle cx="976.84" cy="1964.28" r="5.15" fill="#fff" fill-opacity="0.9" stroke="#e53a45" stroke-width="3.0" stroke-opacity="0.88"/>
<circle cx="998.79" cy="1967.06" r="5.15" fill="#fff" fill-opacity="0.9" stroke="#e53a45" stroke-width="3.0" stroke-opacity="0.88"/>
<circle cx="989.50" cy="1971.55" r="5.15" fill="#fff" fill-opacity="0.9" stroke="#e53a45" stroke-width="3.0" stroke-opacity="0.88"/>
<circle cx="990.52" cy="1964.32" r="5.15" fill="#fff" fill-opacity="0.9" stroke="#e53a45" stroke-width="3.0" stroke-opacity="0.88"/>
<circle cx="991.28" cy="1965.22" r="5.15" fill="#fff" fill-opacity="0.9" stroke="#e53a45" stroke-width="3.0" stroke-opacity="0.88"/>
<circle cx="990.24" cy="1961.56" r="5.15" fill="#fff" fill-opacity="0.9" stroke="#e53a45" stroke-width="3.0" stroke-opacity="0.88"/>
<circle cx="988.54" cy="1952.27" r="5.15" fill="#fff" fill-opacity="0.9" stroke="#e53a45" stroke-width="3.0" stroke-opacity="0.88"/>
<circle cx="975.61" cy="1969.73" r="5.15" fill="#fff" fill-opacity="0.9" stroke="#e53a45" stroke-width="3.0" stroke-opacity="0.88"/>
<circle cx="986.22" cy="1951.24" r="5.15" fill="#fff" fill-opacity="0.9" stroke="#e53a45" stroke-width="3.0" stroke-opacity="0.88"/>
<circle cx="997.65" cy="1968.54" r="5.15" fill="#fff" fill-opacity="0.9" stroke="#e53a45" stroke-width="3.0" stroke-opacity="0.88"/>
<circle cx="992.22" cy="1959.68" r="5.15" fill="#fff" fill-opacity="0.9" stroke="#e53a45" stroke-width="3.0" stroke-opacity="0.88"/>
<circle cx="981.14" cy="1952.74" r="5.15" fill="#fff" fill-opacity="0.9" stroke="#e53a45" stroke-width="3.0" stroke-opacity="0.88"/>
<circle cx="986.05" cy="1952.82" r="5.15" fill="#fff" fill-opacity="0.9" stroke="#e53a45" stroke-width="3.0" stroke-opacity="0.88"/>
<circle cx="985.28" cy="1948.91" r="5.15" fill="#fff" fill-opacity="0.9" stroke="#e53a45" stroke-width="3.0" stroke-opacity="0.88"/>
<circle cx="990.13" cy="1949.44" r="5.15" fill="#fff" fill-opacity="0.9" stroke="#e53a45" stroke-width="3.0" stroke-opacity="0.88"/>
<circle cx="989.60" cy="1959.57" r="5.15" fill="#fff" fill-opacity="0.9" stroke="#e53a45" stroke-width="3.0" stroke-opacity="0.88"/>
<circle cx="981.95" cy="1971.82" r="5.15" fill="#fff" fill-opacity="0.9" stroke="#e53a45" stroke-width="3.0" stroke-opacity="0.88"/>
<circle cx="978.26" cy="1954.62" r="5.15" fill="#fff" fill-opacity="0.9" stroke="#e53a45" stroke-width="3.0" stroke-opacity="0.88"/>
<circle cx="982.13" cy="1923.03" r="5.15" fill="#fff" fill-opacity="0.9" stroke="#e53a45" stroke-width="3.0" stroke-opacity="0.88"/>
<circle cx="996.99" cy="1919.07" r="5.15" fill="#fff" fill-opacity="0.9" stroke="#e53a45" stroke-width="3.0" stroke-opacity="0.88"/>
<circle cx="995.55" cy="1959.91" r="5.15" fill="#fff" fill-opacity="0.9" stroke="#e53a45" stroke-width="3.0" stroke-opacity="0.88"/>
<circle cx="990.35" cy="1917.46" r="5.15" fill="#fff" fill-opacity="0.9" stroke="#e53a45" stroke-width="3.0" stroke-opacity="0.88"/>
<rect x="876.95" y="1931.60" width="60.00" height="6.60" fill="#000" stroke="none" stroke-width="0"/>
<rect x="955.45" y="1931.80" width="60.00" height="6.60" fill="#000" stroke="none" stroke-width="0"/>
<text x="763.60" y="1785.90" font-size="22.4" text-anchor="middle" fill="#000">NS</text>
<text x="984.40" y="1785.90" font-size="22.4" text-anchor="middle" fill="#000">NS</text>
<text transform="translate(549.70,1809.50) rotate(-90)" font-size="31.8" text-anchor="middle" fill="#000">EdU Incorporation at</text>
<text transform="translate(587.60,1809.50) rotate(-90)" font-size="31.8" text-anchor="middle" fill="#000">G4-Replisomes (norm.)</text>
<rect x="1174.90" y="97.90" width="157.30" height="442.10" fill="none" stroke="#000" stroke-width="2.6"/>
<line x1="1165.90" y1="476.84" x2="1174.90" y2="476.84" stroke="#000" stroke-width="2.6"/>
<line x1="1165.90" y1="350.53" x2="1174.90" y2="350.53" stroke="#000" stroke-width="2.6"/>
<line x1="1165.90" y1="224.21" x2="1174.90" y2="224.21" stroke="#000" stroke-width="2.6"/>
<line x1="1165.90" y1="97.90" x2="1174.90" y2="97.90" stroke="#000" stroke-width="2.6"/>
<line x1="1169.90" y1="540.00" x2="1174.90" y2="540.00" stroke="#000" stroke-width="2.6"/>
<line x1="1169.90" y1="413.69" x2="1174.90" y2="413.69" stroke="#000" stroke-width="2.6"/>
<line x1="1169.90" y1="287.37" x2="1174.90" y2="287.37" stroke="#000" stroke-width="2.6"/>
<line x1="1169.90" y1="161.06" x2="1174.90" y2="161.06" stroke="#000" stroke-width="2.6"/>
<text transform="translate(1154.40,476.84) rotate(-90)" font-size="27.5" text-anchor="middle" fill="#000">0</text>
<text transform="translate(1154.40,350.53) rotate(-90)" font-size="27.5" text-anchor="middle" fill="#000">50</text>
<text transform="translate(1154.40,224.21) rotate(-90)" font-size="27.5" text-anchor="middle" fill="#000">100</text>
<text transform="translate(1154.40,97.90) rotate(-90)" font-size="27.5" text-anchor="middle" fill="#000">150</text>
<line x1="1176.20" y1="477.00" x2="1330.90" y2="477.00" stroke="#e3323c" stroke-width="3.3" stroke-dasharray="12.2,6"/>
<line x1="1213.90" y1="540.00" x2="1213.90" y2="549.00" stroke="#000" stroke-width="2.6"/>
<text transform="translate(1219.10,615.40) rotate(-45)" font-size="31.8" text-anchor="middle" fill="#000">siCTRL</text>
<line x1="1293.40" y1="540.00" x2="1293.40" y2="549.00" stroke="#000" stroke-width="2.6"/>
<text transform="translate(1298.60,615.40) rotate(-45)" font-size="31.8" text-anchor="middle" fill="#000">siFANCJ</text>
<rect x="1202.30" y="303.30" width="23.40" height="165.10" fill="#fff" stroke="#000" stroke-width="2.6"/>
<rect x="1199.70" y="383.00" width="28.60" height="6.60" fill="#000" stroke="none" stroke-width="0"/>
<rect x="1282.00" y="187.00" width="22.80" height="187.10" fill="#808080" stroke="#000" stroke-width="2.6"/>
<rect x="1279.10" y="277.20" width="28.60" height="6.60" fill="#000" stroke="none" stroke-width="0"/>
<text x="1214.00" y="276.80" font-size="22.4" text-anchor="middle" fill="#000">35.2%</text>
<text x="1291.80" y="160.30" font-size="22.4" text-anchor="middle" fill="#000">77.7%</text>
<text x="1253.55" y="82.10" font-size="31.8" font-weight="bold" text-anchor="middle" fill="#000">PDS/NT</text>
<text transform="translate(1110.80,317.50) rotate(-90)" font-size="31.8" text-anchor="middle" fill="#000">Percent Change (%)</text>
<rect x="1175.90" y="814.40" width="155.70" height="442.20" fill="none" stroke="#000" stroke-width="2.6"/>
<line x1="1166.90" y1="1256.60" x2="1175.90" y2="1256.60" stroke="#000" stroke-width="2.6"/>
<line x1="1166.90" y1="1146.05" x2="1175.90" y2="1146.05" stroke="#000" stroke-width="2.6"/>
<line x1="1166.90" y1="1035.50" x2="1175.90" y2="1035.50" stroke="#000" stroke-width="2.6"/>
<line x1="1166.90" y1="924.95" x2="1175.90" y2="924.95" stroke="#000" stroke-width="2.6"/>
<line x1="1166.90" y1="814.40" x2="1175.90" y2="814.40" stroke="#000" stroke-width="2.6"/>
<line x1="1170.90" y1="1201.32" x2="1175.90" y2="1201.32" stroke="#000" stroke-width="2.6"/>
<line x1="1170.90" y1="1090.77" x2="1175.90" y2="1090.77" stroke="#000" stroke-width="2.6"/>
<line x1="1170.90" y1="980.22" x2="1175.90" y2="980.22" stroke="#000" stroke-width="2.6"/>
<line x1="1170.90" y1="869.67" x2="1175.90" y2="869.67" stroke="#000" stroke-width="2.6"/>
<text transform="translate(1155.40,1256.60) rotate(-90)" font-size="27.5" text-anchor="middle" fill="#000">-100</text>
<text transform="translate(1155.40,1146.05) rotate(-90)" font-size="27.5" text-anchor="middle" fill="#000">-50</text>
<text transform="translate(1155.40,1035.50) rotate(-90)" font-size="27.5" text-anchor="middle" fill="#000">0</text>
<text transform="translate(1155.40,924.95) rotate(-90)" font-size="27.5" text-anchor="middle" fill="#000">50</text>
<text transform="translate(1155.40,814.40) rotate(-90)" font-size="27.5" text-anchor="middle" fill="#000">100</text>
<line x1="1177.20" y1="1035.50" x2="1330.30" y2="1035.50" stroke="#e3323c" stroke-width="3.3" stroke-dasharray="12.2,6"/>
<line x1="1213.90" y1="1256.60" x2="1213.90" y2="1265.60" stroke="#000" stroke-width="2.6"/>
<text transform="translate(1219.10,1332.00) rotate(-45)" font-size="31.8" text-anchor="middle" fill="#000">siCTRL</text>
<line x1="1293.40" y1="1256.60" x2="1293.40" y2="1265.60" stroke="#000" stroke-width="2.6"/>
<text transform="translate(1298.60,1332.00) rotate(-45)" font-size="31.8" text-anchor="middle" fill="#000">siFANCJ</text>
<rect x="1202.80" y="884.40" width="22.90" height="145.90" fill="#fff" stroke="#000" stroke-width="2.6"/>
<rect x="1199.95" y="954.40" width="28.60" height="6.60" fill="#000" stroke="none" stroke-width="0"/>
<rect x="1281.20" y="1113.00" width="23.20" height="52.80" fill="#808080" stroke="#000" stroke-width="2.6"/>
<rect x="1278.50" y="1135.60" width="28.60" height="6.60" fill="#000" stroke="none" stroke-width="0"/>
<text x="1215.10" y="857.50" font-size="22.4" text-anchor="middle" fill="#000">35.3%</text>
<text x="1292.40" y="1086.10" font-size="22.4" text-anchor="middle" fill="#000">-46.9%</text>
<text x="1253.75" y="806.00" font-size="31.8" font-weight="bold" text-anchor="middle" fill="#000">PDS/NT</text>
<text transform="translate(1110.80,1034.50) rotate(-90)" font-size="31.8" text-anchor="middle" fill="#000">Percent Change (%)</text>
<rect x="1175.50" y="1585.40" width="155.90" height="441.90" fill="none" stroke="#000" stroke-width="2.6"/>
<line x1="1166.50" y1="2027.30" x2="1175.50" y2="2027.30" stroke="#000" stroke-width="2.6"/>
<line x1="1166.50" y1="1916.83" x2="1175.50" y2="1916.83" stroke="#000" stroke-width="2.6"/>
<line x1="1166.50" y1="1806.35" x2="1175.50" y2="1806.35" stroke="#000" stroke-width="2.6"/>
<line x1="1166.50" y1="1695.88" x2="1175.50" y2="1695.88" stroke="#000" stroke-width="2.6"/>
<line x1="1166.50" y1="1585.40" x2="1175.50" y2="1585.40" stroke="#000" stroke-width="2.6"/>
<line x1="1170.50" y1="1972.06" x2="1175.50" y2="1972.06" stroke="#000" stroke-width="2.6"/>
<line x1="1170.50" y1="1861.59" x2="1175.50" y2="1861.59" stroke="#000" stroke-width="2.6"/>
<line x1="1170.50" y1="1751.11" x2="1175.50" y2="1751.11" stroke="#000" stroke-width="2.6"/>
<line x1="1170.50" y1="1640.64" x2="1175.50" y2="1640.64" stroke="#000" stroke-width="2.6"/>
<text transform="translate(1155.00,2027.30) rotate(-90)" font-size="27.5" text-anchor="middle" fill="#000">-100</text>
<text transform="translate(1155.00,1916.83) rotate(-90)" font-size="27.5" text-anchor="middle" fill="#000">-50</text>
<text transform="translate(1155.00,1806.35) rotate(-90)" font-size="27.5" text-anchor="middle" fill="#000">0</text>
<text transform="translate(1155.00,1695.88) rotate(-90)" font-size="27.5" text-anchor="middle" fill="#000">50</text>
<text transform="translate(1155.00,1585.40) rotate(-90)" font-size="27.5" text-anchor="middle" fill="#000">100</text>
<line x1="1176.80" y1="1806.30" x2="1330.10" y2="1806.30" stroke="#e3323c" stroke-width="3.3" stroke-dasharray="12.2,6"/>
<line x1="1213.90" y1="2027.30" x2="1213.90" y2="2036.30" stroke="#000" stroke-width="2.6"/>
<text transform="translate(1219.10,2102.70) rotate(-45)" font-size="31.8" text-anchor="middle" fill="#000">siCTRL</text>
<line x1="1293.40" y1="2027.30" x2="1293.40" y2="2036.30" stroke="#000" stroke-width="2.6"/>
<text transform="translate(1298.60,2102.70) rotate(-45)" font-size="31.8" text-anchor="middle" fill="#000">siFANCJ</text>
<rect x="1202.70" y="1782.40" width="23.20" height="66.40" fill="#fff" stroke="#000" stroke-width="2.6"/>
<rect x="1200.00" y="1812.70" width="28.60" height="6.60" fill="#000" stroke="none" stroke-width="0"/>
<rect x="1281.30" y="1762.90" width="22.90" height="91.20" fill="#808080" stroke="#000" stroke-width="2.6"/>
<rect x="1278.45" y="1806.00" width="28.60" height="6.60" fill="#000" stroke="none" stroke-width="0"/>
<text x="1214.80" y="1756.90" font-size="22.4" text-anchor="middle" fill="#000">-4.4%</text>
<text x="1292.60" y="1734.70" font-size="22.4" text-anchor="middle" fill="#000">-1.1%</text>
<text x="1253.45" y="1568.40" font-size="31.8" font-weight="bold" text-anchor="middle" fill="#000">PDS/NT</text>
<text transform="translate(1110.80,1805.50) rotate(-90)" font-size="31.8" text-anchor="middle" fill="#000">Percent Change (%)</text>
<line x1="1175.50" y1="2027.30" x2="1175.50" y2="2031.80" stroke="#000" stroke-width="2.6"/>
<line x1="1331.40" y1="2027.30" x2="1331.40" y2="2031.80" stroke="#000" stroke-width="2.6"/>
</svg></body></html>
